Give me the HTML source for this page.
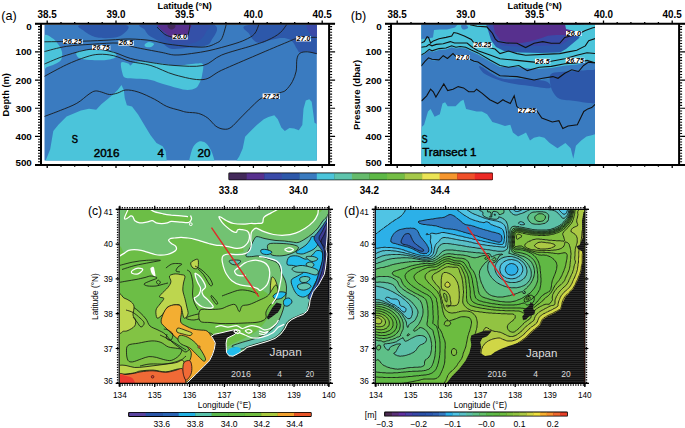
<!DOCTYPE html>
<html><head><meta charset="utf-8"><style>
html,body{margin:0;padding:0;background:#fff;}
svg{display:block;font-family:"Liberation Sans",sans-serif;}
</style></head><body>
<svg width="685" height="428" viewBox="0 0 685 428">
<defs><pattern id="landp" x="0" y="0" width="4" height="2" patternUnits="userSpaceOnUse"><rect width="4" height="2" fill="#121212"/><rect y="1.2" width="4" height="0.8" fill="#2c2c2c"/></pattern><pattern id="stripe" x="0" y="0" width="4" height="3" patternUnits="userSpaceOnUse"><rect y="0" width="4" height="1.2" fill="#ffffff" opacity="0.06"/></pattern></defs>
<rect x="228.4" y="172.6" width="264.6" height="7.6" rx="1.2" fill="#000"/>
<rect x="229.10" y="173.3" width="17.85" height="6.3" fill="#43295a"/>
<rect x="246.65" y="173.3" width="17.85" height="6.3" fill="#57308e"/>
<rect x="264.19" y="173.3" width="17.85" height="6.3" fill="#3a4aa8"/>
<rect x="281.74" y="173.3" width="17.85" height="6.3" fill="#2d58aa"/>
<rect x="299.29" y="173.3" width="17.85" height="6.3" fill="#3a7bc0"/>
<rect x="316.83" y="173.3" width="17.85" height="6.3" fill="#4bc4da"/>
<rect x="334.38" y="173.3" width="17.85" height="6.3" fill="#5ec4ac"/>
<rect x="351.93" y="173.3" width="17.85" height="6.3" fill="#66bb6c"/>
<rect x="369.47" y="173.3" width="17.85" height="6.3" fill="#5db846"/>
<rect x="387.02" y="173.3" width="17.85" height="6.3" fill="#74bd45"/>
<rect x="404.57" y="173.3" width="17.85" height="6.3" fill="#a5c84a"/>
<rect x="422.11" y="173.3" width="17.85" height="6.3" fill="#ebe455"/>
<rect x="439.66" y="173.3" width="17.85" height="6.3" fill="#f5962e"/>
<rect x="457.21" y="173.3" width="17.85" height="6.3" fill="#f0502a"/>
<rect x="474.75" y="173.3" width="17.85" height="6.3" fill="#ec2a26"/>
<text x="228.3" y="193.6" font-size="10.3" text-anchor="middle" font-weight="bold" fill="#000" textLength="19.2" lengthAdjust="spacingAndGlyphs" >33.8</text>
<text x="298.5" y="193.6" font-size="10.3" text-anchor="middle" font-weight="bold" fill="#000" textLength="19.2" lengthAdjust="spacingAndGlyphs" >34.0</text>
<text x="369.4" y="193.6" font-size="10.3" text-anchor="middle" font-weight="bold" fill="#000" textLength="19.2" lengthAdjust="spacingAndGlyphs" >34.2</text>
<text x="440.2" y="193.6" font-size="10.3" text-anchor="middle" font-weight="bold" fill="#000" textLength="19.2" lengthAdjust="spacingAndGlyphs" >34.4</text>
<rect x="128.1" y="411.9" width="183.60000000000002" height="5.0" rx="1.2" fill="#000"/>
<rect x="129.20" y="412.8" width="16.79" height="3.2" fill="#5a44a0"/>
<rect x="145.69" y="412.8" width="16.79" height="3.2" fill="#2a56a8"/>
<rect x="162.18" y="412.8" width="16.79" height="3.2" fill="#2a64b4"/>
<rect x="178.67" y="412.8" width="16.79" height="3.2" fill="#22b0e2"/>
<rect x="195.16" y="412.8" width="16.79" height="3.2" fill="#58c2aa"/>
<rect x="211.65" y="412.8" width="16.79" height="3.2" fill="#5cb84c"/>
<rect x="228.15" y="412.8" width="16.79" height="3.2" fill="#62b846"/>
<rect x="244.64" y="412.8" width="16.79" height="3.2" fill="#70bc3e"/>
<rect x="261.13" y="412.8" width="16.79" height="3.2" fill="#a8c83e"/>
<rect x="277.62" y="412.8" width="16.79" height="3.2" fill="#f0a02e"/>
<rect x="294.11" y="412.8" width="16.79" height="3.2" fill="#e85428"/>
<text x="161.8" y="427.4" font-size="8.6" text-anchor="middle" font-weight="normal" fill="#000" >33.6</text>
<text x="195.2" y="427.4" font-size="8.6" text-anchor="middle" font-weight="normal" fill="#000" >33.8</text>
<text x="229.2" y="427.4" font-size="8.6" text-anchor="middle" font-weight="normal" fill="#000" >34.0</text>
<text x="261.8" y="427.4" font-size="8.6" text-anchor="middle" font-weight="normal" fill="#000" >34.2</text>
<text x="294.6" y="427.4" font-size="8.6" text-anchor="middle" font-weight="normal" fill="#000" >34.4</text>
<rect x="384.1" y="411.6" width="183.79999999999995" height="5.0" rx="1.2" fill="#000"/>
<rect x="385.20" y="412.5" width="7.03" height="3.2" fill="#4a2a50"/>
<rect x="391.93" y="412.5" width="7.03" height="3.2" fill="#5a3078"/>
<rect x="398.65" y="412.5" width="7.03" height="3.2" fill="#6030a0"/>
<rect x="405.38" y="412.5" width="7.03" height="3.2" fill="#4a40a8"/>
<rect x="412.10" y="412.5" width="7.03" height="3.2" fill="#3848a8"/>
<rect x="418.83" y="412.5" width="7.03" height="3.2" fill="#2a50a8"/>
<rect x="425.56" y="412.5" width="7.03" height="3.2" fill="#2a56b0"/>
<rect x="432.28" y="412.5" width="7.03" height="3.2" fill="#3062b4"/>
<rect x="439.01" y="412.5" width="7.03" height="3.2" fill="#3478c0"/>
<rect x="445.73" y="412.5" width="7.03" height="3.2" fill="#2cb0e8"/>
<rect x="452.46" y="412.5" width="7.03" height="3.2" fill="#50c4e4"/>
<rect x="459.19" y="412.5" width="7.03" height="3.2" fill="#58c0c8"/>
<rect x="465.91" y="412.5" width="7.03" height="3.2" fill="#5cc0a8"/>
<rect x="472.64" y="412.5" width="7.03" height="3.2" fill="#5ec088"/>
<rect x="479.36" y="412.5" width="7.03" height="3.2" fill="#62be68"/>
<rect x="486.09" y="412.5" width="7.03" height="3.2" fill="#5cba4c"/>
<rect x="492.81" y="412.5" width="7.03" height="3.2" fill="#60b844"/>
<rect x="499.54" y="412.5" width="7.03" height="3.2" fill="#6cbc40"/>
<rect x="506.27" y="412.5" width="7.03" height="3.2" fill="#80c040"/>
<rect x="512.99" y="412.5" width="7.03" height="3.2" fill="#92c342"/>
<rect x="519.72" y="412.5" width="7.03" height="3.2" fill="#acc944"/>
<rect x="526.44" y="412.5" width="7.03" height="3.2" fill="#d0d646"/>
<rect x="533.17" y="412.5" width="7.03" height="3.2" fill="#f0e040"/>
<rect x="539.90" y="412.5" width="7.03" height="3.2" fill="#f8b030"/>
<rect x="546.62" y="412.5" width="7.03" height="3.2" fill="#f89030"/>
<rect x="553.35" y="412.5" width="7.03" height="3.2" fill="#f06830"/>
<rect x="560.07" y="412.5" width="7.03" height="3.2" fill="#e84028"/>
<text x="384.6" y="427.4" font-size="8.6" text-anchor="middle" font-weight="normal" fill="#000" >−0.3</text>
<text x="418.6" y="427.4" font-size="8.6" text-anchor="middle" font-weight="normal" fill="#000" >−0.2</text>
<text x="452.5" y="427.4" font-size="8.6" text-anchor="middle" font-weight="normal" fill="#000" >−0.1</text>
<text x="486.3" y="427.4" font-size="8.6" text-anchor="middle" font-weight="normal" fill="#000" >−0.0</text>
<text x="519.5" y="427.4" font-size="8.6" text-anchor="middle" font-weight="normal" fill="#000" >0.1</text>
<text x="552.8" y="427.4" font-size="8.6" text-anchor="middle" font-weight="normal" fill="#000" >0.2</text>
<text x="370.8" y="417.6" font-size="8.6" text-anchor="middle" font-weight="normal" fill="#000" >[m]</text>
<rect x="44.5" y="24.8" width="272.3" height="135.7" fill="#3a7bc0"/>
<clipPath id="ca"><rect x="44.5" y="24.8" width="272.3" height="135.7"/></clipPath>
<g clip-path="url(#ca)">
<path d="M81.0,25.0 C74.0,26.0 81.7,29.0 84.0,31.0 C86.3,33.0 90.7,35.8 95.0,37.0 C99.3,38.2 105.5,38.3 110.0,38.0 C114.5,37.7 119.3,37.2 122.0,35.0 C124.7,32.8 132.8,26.7 126.0,25.0 C119.2,23.3 88.0,24.0 81.0,25.0 Z" fill="#2d58aa" />
<path d="M248.5,25.0 C237.1,26.5 248.2,31.2 249.3,33.9 C250.4,36.6 253.0,39.9 255.2,41.4 C257.4,42.9 260.5,42.9 262.7,42.8 C264.9,42.7 266.1,41.3 268.6,40.6 C271.1,39.9 274.6,38.8 277.6,38.4 C280.6,38.0 284.0,37.9 286.5,38.4 C289.0,38.9 290.7,39.7 292.4,41.4 C294.1,43.1 295.6,46.9 296.9,48.8 C298.1,50.6 298.2,52.1 299.9,52.5 C301.6,52.9 304.3,51.0 307.3,51.0 C310.3,51.0 316.2,56.8 318.0,52.5 C319.8,48.2 329.6,29.6 318.0,25.0 C306.4,20.4 259.9,23.5 248.5,25.0 Z" fill="#2d58aa" />
<path d="M144.0,24.0 C132.8,25.0 144.2,28.1 145.0,30.0 C145.8,31.9 147.2,33.9 149.0,35.5 C150.8,37.1 153.8,38.2 156.0,39.5 C158.2,40.8 160.0,41.7 162.0,43.0 C164.0,44.3 165.9,46.5 168.0,47.5 C170.1,48.5 171.1,49.0 174.6,49.0 C178.1,49.0 184.3,48.0 189.2,47.5 C194.1,47.0 200.2,47.2 203.8,46.1 C207.5,45.0 209.7,44.7 211.1,41.0 C212.5,37.3 223.2,26.8 212.0,24.0 C200.8,21.2 155.2,23.0 144.0,24.0 Z" fill="#2d58aa" />
<path d="M160.0,24.0 C152.3,25.0 160.0,27.5 161.0,30.0 C162.0,32.5 163.7,36.7 166.0,39.0 C168.3,41.3 171.2,43.2 175.0,44.0 C178.8,44.8 184.8,44.7 189.0,44.0 C193.2,43.3 197.2,42.0 200.0,40.0 C202.8,38.0 204.8,34.7 206.0,32.0 C207.2,29.3 214.7,25.3 207.0,24.0 C199.3,22.7 167.7,23.0 160.0,24.0 Z" fill="#3450a8" />
<path d="M160.0,24.5 C155.1,25.2 159.3,27.3 160.0,28.6 C160.7,29.9 162.5,30.8 164.4,32.2 C166.3,33.7 169.3,36.1 171.7,37.3 C174.1,38.5 176.6,39.6 179.0,39.5 C181.4,39.4 184.7,38.1 186.3,36.6 C187.9,35.1 188.0,32.8 188.5,30.8 C189.0,28.8 194.2,25.6 189.5,24.5 C184.8,23.4 164.9,23.8 160.0,24.5 Z" fill="#57308e" />
<path d="M168.0,25.0 C166.9,25.5 167.9,27.2 168.5,28.0 C169.1,28.8 170.5,29.5 171.5,29.5 C172.5,29.5 174.0,28.8 174.6,28.0 C175.2,27.2 176.1,25.5 175.0,25.0 C173.9,24.5 169.1,24.5 168.0,25.0 Z" fill="#43295a" />
<path d="M307.3,25.0 C305.6,25.8 307.0,28.3 307.8,30.0 C308.6,31.7 310.3,34.5 312.0,35.4 C313.7,36.3 317.0,37.1 318.0,35.4 C319.0,33.7 319.8,26.7 318.0,25.0 C316.2,23.3 309.0,24.2 307.3,25.0 Z" fill="#3a4aa8" />
<path d="M44.0,37.0 C45.3,32.2 49.7,36.8 52.0,38.0 C54.3,39.2 56.3,41.7 58.0,44.0 C59.7,46.3 61.5,49.3 62.0,52.0 C62.5,54.7 62.2,58.0 61.0,60.0 C59.8,62.0 57.3,62.8 55.0,64.0 C52.7,65.2 48.8,66.5 47.0,67.0 C45.2,67.5 44.5,72.0 44.0,67.0 C43.5,62.0 42.7,41.8 44.0,37.0 Z" fill="#4bc4da" />
<path d="M77.0,52.0 C78.8,50.7 85.5,50.2 90.0,50.0 C94.5,49.8 100.0,50.2 104.0,50.5 C108.0,50.8 112.0,50.9 114.0,52.0 C116.0,53.1 117.3,55.7 116.0,57.0 C114.7,58.3 110.3,59.5 106.0,60.0 C101.7,60.5 94.5,60.3 90.0,60.0 C85.5,59.7 81.2,59.3 79.0,58.0 C76.8,56.7 75.2,53.3 77.0,52.0 Z" fill="#4bc4da" />
<path d="M121.2,62.5 C122.2,61.0 126.9,63.0 128.4,63.5 C129.9,64.0 129.4,65.7 130.4,65.5 C131.4,65.3 132.4,62.8 134.5,62.1 C136.6,61.4 138.3,61.3 142.7,61.5 C147.1,61.7 155.3,62.8 161.1,63.5 C166.9,64.2 171.6,65.5 177.4,65.5 C183.2,65.5 191.5,63.7 195.8,63.5 C200.1,63.3 202.0,62.5 203.0,64.5 C204.0,66.5 202.5,72.9 202.0,75.8 C201.5,78.7 201.0,79.9 200.0,81.9 C199.0,83.9 197.9,86.7 195.8,88.0 C193.8,89.3 190.8,90.0 187.7,90.0 C184.6,90.0 181.5,89.0 177.4,88.0 C173.3,87.0 167.5,85.3 163.1,84.0 C158.7,82.7 155.3,80.8 150.9,79.9 C146.5,79.0 140.9,79.2 136.6,78.8 C132.3,78.4 127.7,78.8 125.3,77.8 C122.9,76.8 123.0,75.2 122.3,72.7 C121.6,70.2 120.2,64.0 121.2,62.5 Z" fill="#4bc4da" />
<path d="M144.7,44.5 C145.2,43.7 147.4,42.1 149.0,42.0 C150.6,41.9 153.7,43.2 154.0,44.0 C154.3,44.8 152.3,46.5 151.0,47.0 C149.7,47.5 147.1,47.4 146.0,47.0 C144.9,46.6 144.2,45.3 144.7,44.5 Z" fill="#4bc4da" />
<path d="M45.0,161.0 L46.1,159.5 L50.2,149.3 L53.3,130.9 L58.4,124.7 L66.6,116.6 L80.9,110.4 L89.0,108.8 L96.2,109.8 L101.3,104.3 L107.4,99.2 L113.6,94.1 L117.7,90.0 L121.5,85.0 L123.8,90.0 L124.8,98.2 L126.9,105.3 L132.0,106.4 L138.1,114.5 L144.2,124.7 L150.4,135.0 L156.5,143.1 L162.6,146.2 L165.7,151.3 L166.7,161.0 Z" fill="#4bc4da" />
<path d="M189.0,161.0 C189.6,158.9 191.1,151.5 192.5,148.4 C193.9,145.3 195.6,143.8 197.2,142.6 C198.8,141.4 200.3,141.2 201.9,141.4 C203.5,141.6 204.9,142.1 206.5,143.7 C208.1,145.2 209.8,147.8 211.2,150.7 C212.6,153.6 214.1,159.3 214.7,161.0 Z" fill="#4bc4da" />
<path d="M236.2,161.0 L239.2,156.6 L242.7,148.4 L245.1,136.7 L249.7,132.0 L256.8,125.0 L263.8,119.2 L268.4,116.9 L274.3,115.2 L277.8,119.2 L281.3,127.4 L284.8,130.9 L289.5,128.1 L294.1,128.5 L298.8,130.2 L302.3,125.0 L303.5,108.7 L305.8,100.5 L309.3,99.3 L311.7,101.7 L313.3,113.4 L314.5,122.7 L316.8,123.9 L318.0,124.0 L318.0,161.0 Z" fill="#4bc4da" />
<path d="M44.0,41.8 C50.5,41.7 71.7,41.5 82.7,41.2 C93.7,40.9 102.1,40.4 110.0,40.0 C117.9,39.6 123.2,38.9 130.0,39.0 C136.8,39.1 144.7,39.7 150.9,40.5 C157.1,41.3 160.8,43.0 167.2,44.0 C173.6,45.0 182.8,46.0 189.2,46.5 C195.6,47.0 201.0,47.4 205.4,46.9 C209.8,46.4 212.8,44.9 215.5,43.5 C218.2,42.1 219.9,42.0 221.7,38.7 C223.5,35.5 225.6,26.4 226.4,24.0" fill="none" stroke="#1a1a1a" stroke-width="0.9" />
<path d="M44.0,51.7 C47.7,50.8 58.2,47.6 66.3,46.4 C74.4,45.1 83.8,44.8 92.6,44.2 C101.3,43.7 111.8,42.6 118.8,43.1 C125.8,43.6 127.5,45.7 134.5,47.2 C141.6,48.7 154.3,51.0 161.1,52.3 C167.8,53.6 169.9,54.8 175.0,55.0 C180.1,55.2 185.9,54.3 191.7,53.5 C197.5,52.7 203.3,51.9 210.0,50.4 C216.7,48.9 226.2,46.2 232.0,44.5 C237.8,42.8 241.3,41.6 245.0,39.9 C248.7,38.1 252.1,36.6 254.4,34.0 C256.8,31.4 258.3,25.7 259.1,24.0" fill="none" stroke="#1a1a1a" stroke-width="0.9" />
<path d="M44.0,64.2 C47.7,62.7 58.2,57.8 66.3,55.3 C74.4,52.8 84.7,49.5 92.6,49.0 C100.5,48.5 107.3,50.7 113.6,52.3 C119.9,53.9 124.2,56.7 130.4,58.4 C136.6,60.1 143.5,61.3 150.9,62.5 C158.3,63.7 166.3,65.0 175.0,65.5 C183.7,66.0 195.2,67.2 203.0,65.5 C210.8,63.8 213.5,58.3 221.7,55.0 C229.9,51.7 244.4,48.2 252.1,45.7 C259.8,43.2 263.3,42.1 268.0,40.0 C272.7,37.9 276.9,35.5 280.1,32.8 C283.3,30.1 285.9,25.5 287.1,24.0" fill="none" stroke="#1a1a1a" stroke-width="0.9" />
<path d="M44.0,76.6 C47.7,74.6 59.3,68.1 66.3,64.8 C73.3,61.5 80.5,58.8 86.0,57.0 C91.5,55.2 94.4,54.5 99.0,54.3 C103.6,54.1 108.4,54.5 113.6,55.7 C118.8,56.9 124.2,59.9 130.4,61.5 C136.6,63.1 143.5,63.3 150.9,65.5 C158.3,67.7 166.3,72.6 175.0,74.9 C183.7,77.2 195.2,80.4 203.0,79.6 C210.8,78.8 212.7,74.3 221.7,70.2 C230.7,66.1 245.9,59.7 256.8,55.0 C267.7,50.3 280.5,44.9 287.1,42.2 C293.7,39.5 292.4,39.5 296.5,38.7 C300.6,37.9 308.0,37.6 311.6,37.4 C315.2,37.2 316.9,37.5 318.0,37.5" fill="none" stroke="#1a1a1a" stroke-width="0.9" />
<path d="M44.0,116.6 C46.7,115.6 54.9,112.6 60.4,110.4 C65.9,108.2 72.0,106.0 76.8,103.3 C81.6,100.6 85.9,96.1 89.0,94.1 C92.1,92.0 93.2,91.3 95.2,91.0 C97.2,90.7 98.9,91.4 101.3,92.0 C103.7,92.6 106.8,94.3 109.5,94.5 C112.2,94.7 115.0,93.8 117.7,93.0 C120.4,92.2 122.4,90.2 125.8,90.0 C129.2,89.8 133.3,90.5 138.1,92.0 C142.9,93.5 149.6,96.8 154.4,99.2 C159.2,101.6 162.4,104.5 166.7,106.4 C171.0,108.3 176.7,109.4 180.0,110.4 C183.3,111.4 183.6,111.7 186.7,112.2 C189.8,112.7 194.9,112.4 198.4,113.4 C201.9,114.4 204.8,115.9 207.7,118.0 C210.6,120.1 213.2,124.3 215.9,126.2 C218.6,128.1 221.5,129.0 224.0,129.2 C226.5,129.4 228.3,129.3 231.0,127.4 C233.7,125.5 236.9,121.5 240.4,118.0 C243.9,114.5 248.5,109.7 252.0,106.4 C255.5,103.1 258.2,100.0 261.4,98.2 C264.6,96.4 267.7,96.5 271.0,95.5 C274.3,94.5 278.8,93.2 281.3,92.3 C283.8,91.4 284.1,91.8 286.0,90.0 C287.9,88.2 290.7,84.8 292.4,81.6 C294.1,78.4 295.4,74.8 296.2,71.1 C296.9,67.4 296.3,62.2 296.9,59.2 C297.5,56.2 298.2,54.5 299.9,53.3 C301.6,52.1 304.3,51.7 307.3,51.8 C310.3,51.9 316.2,53.6 318.0,54.0" fill="none" stroke="#1a1a1a" stroke-width="0.9" />
<path d="M157.0,27.0 C157.7,27.7 159.5,29.7 161.0,31.0 C162.5,32.3 163.8,33.9 166.0,35.0 C168.2,36.1 170.7,37.0 174.0,37.5 C177.3,38.0 183.6,38.5 186.0,37.8 C188.4,37.0 187.9,34.6 188.5,33.0 C189.1,31.4 189.2,29.5 189.5,28.0 C189.8,26.5 189.9,24.7 190.0,24.0" fill="none" stroke="#1a1a1a" stroke-width="0.9" />
<rect x="63" y="39" width="19.700000000000003" height="4.799999999999997" fill="#fff"/>
<text x="72.85" y="43.55" font-size="6.6" text-anchor="middle" font-weight="bold" fill="#000" textLength="18.5" lengthAdjust="spacingAndGlyphs" font-style="italic">26.25</text>
<rect x="118.4" y="40.6" width="15.400000000000006" height="5.0" fill="#fff"/>
<text x="126.10000000000001" y="45.35" font-size="6.6" text-anchor="middle" font-weight="bold" fill="#000" textLength="14.2" lengthAdjust="spacingAndGlyphs" font-style="italic">26.5</text>
<rect x="92" y="45.2" width="18.299999999999997" height="4.799999999999997" fill="#fff"/>
<text x="101.15" y="49.75" font-size="6.6" text-anchor="middle" font-weight="bold" fill="#000" textLength="17.1" lengthAdjust="spacingAndGlyphs" font-style="italic">26.75</text>
<rect x="172.4" y="34.8" width="15.299999999999983" height="4.700000000000003" fill="#fff"/>
<text x="180.05" y="39.25" font-size="6.6" text-anchor="middle" font-weight="bold" fill="#000" textLength="14.1" lengthAdjust="spacingAndGlyphs" font-style="italic">26.0</text>
<rect x="296.2" y="36.1" width="14.800000000000011" height="5.299999999999997" fill="#fff"/>
<text x="303.6" y="41.15" font-size="6.6" text-anchor="middle" font-weight="bold" fill="#000" textLength="13.6" lengthAdjust="spacingAndGlyphs" font-style="italic">27.0</text>
<rect x="262.6" y="93.5" width="17.399999999999977" height="5.400000000000006" fill="#fff"/>
<text x="271.3" y="98.65" font-size="6.6" text-anchor="middle" font-weight="bold" fill="#000" textLength="16.2" lengthAdjust="spacingAndGlyphs" font-style="italic">27.25</text>
</g>
<text x="74.8" y="142.8" font-size="10.2" text-anchor="middle" font-weight="normal" fill="#000" textLength="6.2" lengthAdjust="spacingAndGlyphs" stroke="#000" stroke-width="0.45">S</text>
<text x="106.6" y="157.4" font-size="11.6" text-anchor="middle" font-weight="normal" fill="#000" textLength="25.8" lengthAdjust="spacingAndGlyphs" stroke="#000" stroke-width="0.45">2016</text>
<text x="160.8" y="157.4" font-size="11.6" text-anchor="middle" font-weight="normal" fill="#000" stroke="#000" stroke-width="0.45">4</text>
<text x="204" y="157.4" font-size="11.6" text-anchor="middle" font-weight="normal" fill="#000" textLength="13" lengthAdjust="spacingAndGlyphs" stroke="#000" stroke-width="0.45">20</text>
<rect x="421.4" y="24.8" width="173.60000000000002" height="139.1" fill="#3a7bc0"/>
<clipPath id="cb"><rect x="421.4" y="24.8" width="173.60000000000002" height="139.1"/></clipPath>
<g clip-path="url(#cb)">
<path d="M420.0,24.0 L596.0,24.0 L596.0,64.0 L588.0,61.0 L583.6,66.5 L578.5,72.5 L571.7,70.8 L564.8,74.2 L558.0,79.3 L552.9,77.6 L542.7,79.3 L534.1,81.0 L517.0,77.6 L500.0,76.8 L490.0,71.0 L478.0,63.0 L474.1,62.3 L469.9,60.2 L455.9,57.4 L453.0,54.6 L447.5,59.5 L443.2,56.7 L439.0,60.9 L432.0,60.2 L428.5,58.8 L425.0,62.3 L420.0,67.0 Z" fill="#4bc4da" />
<path d="M421.0,24.0 L434.0,24.0 L434.0,30.0 L433.0,37.5 L427.0,38.5 L421.0,39.0 Z" fill="#3a7bc0" />
<path d="M434.0,24.0 L458.0,24.0 L455.0,27.5 L447.0,29.5 L440.0,29.5 L434.0,30.0 Z" fill="#3a7bc0" />
<path d="M461.0,25.5 C461.5,24.8 464.8,24.6 466.0,25.0 C467.2,25.4 468.5,27.2 468.0,28.0 C467.5,28.8 464.2,29.9 463.0,29.5 C461.8,29.1 460.5,26.2 461.0,25.5 Z" fill="#3a7bc0" />
<path d="M420.0,56.0 L425.0,54.0 L429.0,50.5 L432.0,52.0 L439.0,50.0 L446.0,49.5 L451.7,47.2 L455.9,48.6 L460.1,48.0 L465.7,48.6 L471.3,51.5 L478.0,54.5 L490.0,61.5 L500.0,67.0 L517.0,67.0 L534.0,69.0 L551.0,68.0 L565.0,65.5 L577.0,64.5 L587.0,62.0 L596.0,64.5 L596.0,70.0 L578.5,72.5 L571.7,70.8 L564.8,74.2 L558.0,79.3 L552.9,77.6 L542.7,79.3 L534.1,81.0 L517.0,77.6 L500.0,76.8 L490.0,71.0 L478.0,63.0 L474.1,62.3 L469.9,60.2 L455.9,57.4 L453.0,54.6 L447.5,59.5 L443.2,56.7 L439.0,60.9 L432.0,60.2 L428.5,58.8 L425.0,62.3 L420.0,67.0 Z" fill="#3a7bc0" />
<path d="M486.0,24.0 L488.0,30.0 L491.0,40.0 L496.0,47.0 L504.0,51.0 L520.0,52.5 L540.0,53.0 L560.0,52.5 L566.0,49.0 L572.0,44.0 L578.0,39.0 L583.0,34.0 L584.0,24.0 Z" fill="#2d58aa" />
<path d="M489.0,24.0 L491.0,33.0 L495.0,41.0 L502.0,45.5 L517.0,46.5 L532.0,46.0 L548.0,45.5 L562.0,44.5 L570.0,39.0 L578.0,35.0 L581.0,24.0 Z" fill="#3a4aa8" />
<path d="M493.0,24.0 L495.0,33.0 L497.3,36.0 L500.2,40.2 L507.9,42.3 L516.3,43.0 L521.9,43.0 L530.0,41.6 L534.1,40.2 L541.0,38.2 L547.8,35.8 L556.0,35.0 L564.8,34.9 L571.0,33.5 L578.5,32.4 L580.2,24.0 Z" fill="#57308e" />
<path d="M565.0,24.0 L596.0,24.0 L596.0,47.0 L588.0,44.0 L580.0,38.0 L574.0,31.0 L566.0,29.0 Z" fill="#4bc4da" />
<path d="M551.0,74.0 C552.7,72.3 556.0,72.5 560.0,72.0 C564.0,71.5 569.7,71.3 575.0,71.0 C580.3,70.7 588.5,69.8 592.0,70.0 C595.5,70.2 595.3,67.0 596.0,72.0 C596.7,77.0 597.0,94.8 596.0,100.0 C595.0,105.2 593.5,102.8 590.0,103.0 C586.5,103.2 580.0,101.7 575.0,101.0 C570.0,100.3 563.7,100.5 560.0,99.0 C556.3,97.5 554.7,94.8 553.0,92.0 C551.3,89.2 550.3,85.0 550.0,82.0 C549.7,79.0 549.3,75.7 551.0,74.0 Z" fill="#2d58aa" />
<path d="M480.0,66.0 C482.5,66.7 493.3,75.8 500.0,78.0 C506.7,80.2 512.5,78.5 520.0,79.0 C527.5,79.5 540.0,79.5 545.0,81.0 C550.0,82.5 552.5,87.2 550.0,88.0 C547.5,88.8 537.5,87.0 530.0,86.0 C522.5,85.0 512.5,84.0 505.0,82.0 C497.5,80.0 489.2,76.7 485.0,74.0 C480.8,71.3 477.5,65.3 480.0,66.0 Z" fill="#2d58aa" />
<path d="M420.0,165.0 L421.5,127.3 L424.1,124.7 L428.0,111.5 L430.6,108.9 L434.6,116.8 L439.8,114.2 L442.5,103.6 L445.1,102.3 L447.7,106.3 L455.6,106.3 L460.9,101.0 L463.5,99.7 L466.1,108.9 L476.6,111.5 L481.9,111.5 L487.1,114.2 L492.4,122.0 L497.6,123.4 L505.0,126.0 L510.3,124.7 L512.9,132.5 L518.1,136.5 L523.4,133.9 L526.0,132.5 L530.0,140.4 L533.9,137.8 L539.2,136.5 L544.4,137.8 L549.7,143.1 L557.5,148.3 L565.4,143.1 L570.7,148.3 L573.3,158.8 L575.9,145.7 L581.2,140.4 L586.5,136.5 L591.7,135.2 L596.0,133.9 L596.0,165.0 Z" fill="#4bc4da" />
<path d="M470.0,24.8 L477.0,26.2 L486.8,26.9 L492.4,33.2 L495.2,38.8 L498.0,41.6 L506.5,43.0 L517.0,43.3 L525.6,47.6 L534.1,43.3 L542.7,41.6 L551.2,43.3 L559.7,43.3 L564.8,37.4 L571.7,35.7 L578.5,33.9 L585.3,30.5 L592.2,28.0 L596.0,27.0" fill="none" stroke="#111" stroke-width="1.1" />
<path d="M421.1,43.0 L424.3,41.6 L427.1,36.7 L428.5,37.4 L430.6,43.0 L433.4,40.9 L439.0,38.8 L446.0,37.4 L451.7,36.0 L453.8,32.5 L457.3,33.2 L464.3,36.0 L471.3,39.5 L474.1,43.0 L478.0,45.8 L486.0,47.0 L495.0,49.0 L500.0,53.6 L508.5,51.0 L517.0,53.6 L525.6,55.3 L542.7,54.4 L559.7,53.6 L568.3,51.9 L576.8,50.2 L585.3,45.9 L588.7,40.8 L596.0,38.2" fill="none" stroke="#111" stroke-width="1.1" />
<path d="M421.1,47.2 L426.4,46.5 L429.2,44.4 L432.0,45.8 L436.2,44.4 L443.2,43.7 L450.3,41.6 L454.5,43.0 L460.1,43.0 L467.1,43.0 L471.3,46.5 L475.5,49.3 L478.0,50.8 L490.0,55.0 L500.0,58.7 L517.0,60.4 L534.1,62.1 L551.2,61.3 L564.8,58.7 L576.8,55.3 L587.0,52.7 L596.0,53.6" fill="none" stroke="#111" stroke-width="1.1" />
<path d="M421.1,55.0 L425.0,52.9 L429.2,49.3 L432.0,50.8 L439.0,48.6 L446.0,48.0 L451.7,45.8 L455.9,47.2 L460.1,46.5 L465.7,47.2 L471.3,50.0 L478.0,52.9 L490.0,60.0 L500.0,65.5 L508.5,67.2 L518.8,65.5 L527.3,70.6 L539.2,67.2 L551.2,66.4 L564.8,63.8 L576.8,63.0 L587.0,60.4 L596.0,63.0" fill="none" stroke="#111" stroke-width="1.1" />
<path d="M421.1,66.2 L425.0,61.3 L428.5,57.8 L432.0,59.2 L439.0,59.9 L443.2,55.7 L447.5,58.5 L453.0,53.6 L455.9,56.4 L462.0,57.5 L469.9,59.2 L474.1,61.3 L478.0,62.0 L490.0,70.0 L500.0,75.8 L517.0,76.6 L534.1,80.0 L542.7,78.3 L552.9,76.6 L558.0,78.3 L564.8,73.2 L571.7,69.8 L578.5,71.5 L583.6,65.5 L588.7,62.1 L596.0,63.0" fill="none" stroke="#111" stroke-width="1.1" />
<path d="M421.5,101.0 L426.7,95.8 L430.6,89.2 L433.3,91.8 L435.9,97.1 L439.8,90.5 L443.8,83.9 L447.7,90.5 L453.0,89.2 L458.2,86.6 L463.5,87.9 L468.7,91.8 L474.0,91.8 L476.6,89.2 L481.9,93.1 L489.8,99.7 L497.6,103.6 L502.9,99.7 L505.0,101.0 L510.3,103.6 L514.2,95.8 L516.8,106.3 L520.8,110.2 L536.5,110.2 L541.8,118.1 L552.3,122.0 L558.9,120.7 L562.8,128.6 L568.1,126.0 L577.3,124.7 L581.2,116.8 L583.8,111.5 L587.8,108.9 L591.7,107.6 L596.0,103.6" fill="none" stroke="#111" stroke-width="1.1" />
<rect x="566" y="31" width="15.700000000000045" height="5" fill="#fff"/>
<text x="573.85" y="35.75" font-size="6.6" text-anchor="middle" font-weight="bold" fill="#000" textLength="14.5" lengthAdjust="spacingAndGlyphs" font-style="italic">26.0</text>
<rect x="473.4" y="42.5" width="18.700000000000045" height="5.100000000000001" fill="#fff"/>
<text x="482.75" y="47.35" font-size="6.6" text-anchor="middle" font-weight="bold" fill="#000" textLength="17.5" lengthAdjust="spacingAndGlyphs" font-style="italic">26.25</text>
<rect x="535" y="58.7" width="15.299999999999955" height="5.099999999999994" fill="#fff"/>
<text x="542.65" y="63.55" font-size="6.6" text-anchor="middle" font-weight="bold" fill="#000" textLength="14.1" lengthAdjust="spacingAndGlyphs" font-style="italic">26.5</text>
<rect x="565.7" y="57.8" width="18.799999999999955" height="5.200000000000003" fill="#fff"/>
<text x="575.1" y="62.75" font-size="6.6" text-anchor="middle" font-weight="bold" fill="#000" textLength="17.6" lengthAdjust="spacingAndGlyphs" font-style="italic">26.75</text>
<rect x="455.9" y="55" width="14.0" height="4.899999999999999" fill="#fff"/>
<text x="462.9" y="59.65" font-size="6.6" text-anchor="middle" font-weight="bold" fill="#000" textLength="12.8" lengthAdjust="spacingAndGlyphs" font-style="italic">27.0</text>
<rect x="518" y="108.4" width="18.5" height="4.3999999999999915" fill="#fff"/>
<text x="527.25" y="112.55" font-size="6.6" text-anchor="middle" font-weight="bold" fill="#000" textLength="17.3" lengthAdjust="spacingAndGlyphs" font-style="italic">27.25</text>
</g>
<text x="421.8" y="142.6" font-size="10.2" text-anchor="start" font-weight="normal" fill="#000" textLength="5.8" lengthAdjust="spacingAndGlyphs" stroke="#000" stroke-width="0.45">S</text>
<text x="422.2" y="156.3" font-size="11.2" text-anchor="start" font-weight="normal" fill="#000" textLength="54.2" lengthAdjust="spacingAndGlyphs" stroke="#000" stroke-width="0.45">Transect  1</text>
<clipPath id="cc"><rect x="119.9" y="209.9" width="208.6" height="173.20000000000002"/></clipPath>
<g clip-path="url(#cc)">
<rect x="119.9" y="209.9" width="208.6" height="173.20000000000002" fill="#72c272"/>
<path d="M118.0,257.0 C119.1,234.8 122.7,254.2 124.5,253.1 C126.3,252.0 127.1,251.0 128.7,250.4 C130.3,249.8 132.1,249.7 134.2,249.7 C136.3,249.7 138.8,249.9 141.1,250.4 C143.4,250.9 145.7,251.7 148.0,252.4 C150.3,253.1 152.8,254.0 154.9,254.5 C157.0,255.0 158.3,255.2 160.4,255.2 C162.5,255.2 165.2,255.0 167.3,254.5 C169.4,254.0 171.3,253.2 172.8,252.4 C174.3,251.6 175.7,250.7 176.2,249.7 C176.7,248.7 176.4,247.2 175.6,246.2 C174.8,245.2 172.6,244.4 171.4,243.5 C170.2,242.6 168.9,241.5 168.7,240.7 C168.5,239.9 169.1,239.1 170.0,238.7 C170.9,238.2 172.3,238.2 174.2,238.0 C176.0,237.8 178.8,237.3 181.1,237.3 C183.4,237.3 185.7,237.7 188.0,238.0 C190.3,238.3 192.6,238.7 194.9,239.3 C197.2,239.9 199.5,240.7 201.8,241.4 C204.1,242.1 206.4,242.9 208.7,243.5 C211.0,244.1 213.3,244.8 215.6,245.1 C217.9,245.4 220.2,245.3 222.5,245.6 C224.8,245.9 227.1,246.4 229.4,246.9 C231.7,247.4 234.2,248.2 236.3,248.3 C238.4,248.4 240.7,247.0 241.8,247.6 C243.0,248.2 244.6,250.9 243.2,251.8 C241.8,252.7 236.5,252.8 233.5,253.1 C230.5,253.4 227.0,253.3 225.2,253.8 C223.4,254.3 222.8,254.2 222.5,255.9 C222.2,257.6 222.6,261.5 223.2,264.2 C223.8,266.9 224.6,269.4 226.0,272.0 C227.4,274.6 229.4,278.0 231.5,280.0 C233.6,282.0 235.9,283.3 238.5,284.2 C241.1,285.1 244.3,285.1 246.9,285.6 C249.5,286.1 251.4,286.3 253.9,287.0 C256.4,287.7 259.3,288.5 262.0,290.0 C264.7,291.5 267.8,293.3 270.0,296.0 C272.2,298.7 275.3,302.3 275.0,306.0 C274.7,309.7 270.8,314.0 268.0,318.0 C265.2,322.0 261.8,326.7 258.0,330.0 C254.2,333.3 249.3,335.7 245.0,338.0 C240.7,340.3 236.2,341.7 232.0,344.0 C227.8,346.3 224.5,348.5 220.0,352.0 C215.5,355.5 209.7,359.7 205.0,365.0 C200.3,370.3 206.5,380.5 192.0,384.0 C177.5,387.5 130.3,407.2 118.0,386.0 C105.7,364.8 116.9,279.1 118.0,257.0 Z" fill="#6cbe46" />
<path d="M128.0,209.0 C123.6,210.5 124.7,216.4 124.5,218.0 C124.3,219.6 125.6,219.0 126.6,218.7 C127.6,218.3 129.7,216.2 130.7,215.9 C131.7,215.6 132.1,215.8 132.8,216.6 C133.5,217.4 133.8,219.7 134.9,220.7 C136.1,221.7 137.8,222.6 139.7,222.8 C141.6,223.0 144.5,222.4 146.6,222.1 C148.7,221.8 150.5,220.6 152.1,220.7 C153.7,220.8 154.6,222.3 156.2,222.8 C157.8,223.3 160.0,223.5 161.8,223.5 C163.7,223.5 165.7,223.2 167.3,222.8 C168.9,222.5 169.1,221.5 171.4,221.4 C173.7,221.3 178.2,221.9 181.1,222.1 C183.9,222.3 186.8,223.0 188.5,222.5 C190.2,222.0 191.2,220.0 191.5,219.0 C191.8,218.0 192.2,217.1 190.5,216.6 C188.8,216.1 184.3,216.1 181.1,215.9 C177.9,215.7 174.4,215.5 171.4,215.2 C168.4,214.8 165.8,214.4 163.1,213.8 C160.3,213.2 157.0,212.6 154.9,211.8 C152.8,211.0 155.2,209.5 150.7,209.0 C146.2,208.5 132.4,207.5 128.0,209.0 Z" fill="#6cbe46" />
<path d="M219.0,216.6 C218.8,215.7 219.8,216.6 221.1,217.3 C222.4,218.0 224.5,219.7 226.6,220.7 C228.7,221.7 230.7,222.9 233.5,223.5 C236.3,224.1 240.4,224.2 243.2,224.2 C246.0,224.2 247.8,223.6 250.1,223.5 C252.4,223.4 254.9,223.6 257.0,223.5 C259.1,223.4 261.4,223.8 262.5,222.8 C263.6,221.8 262.5,218.9 263.9,217.3 C265.3,215.7 268.5,214.5 270.8,213.1 C273.1,211.7 269.7,209.7 277.7,209.0 C285.7,208.3 312.4,208.1 319.0,209.0 C325.6,209.9 318.5,212.4 317.6,214.5 C316.7,216.6 315.6,219.1 313.5,221.4 C311.4,223.7 308.2,226.4 305.2,228.3 C302.2,230.2 299.1,231.9 295.6,233.1 C292.2,234.2 288.2,235.0 284.5,235.2 C280.8,235.4 276.9,235.1 273.5,234.5 C270.1,233.9 266.6,232.7 263.9,231.7 C261.1,230.7 258.6,228.8 257.0,228.3 C255.4,227.9 255.1,228.3 254.2,229.0 C253.3,229.7 252.2,231.4 251.4,232.4 C250.6,233.4 250.1,235.4 249.4,235.2 C248.7,235.0 249.2,232.0 247.3,231.1 C245.4,230.2 239.5,229.5 237.7,229.7 C235.9,229.9 237.2,232.2 236.3,232.4 C235.4,232.6 233.7,232.0 232.1,231.1 C230.5,230.2 228.2,228.3 226.6,226.9 C225.0,225.5 223.8,224.5 222.5,222.8 C221.2,221.1 219.2,217.5 219.0,216.6 Z" fill="#6cbe46" />
<path d="M223.4,255.4 C222.2,256.3 222.0,257.7 222.0,259.6 C222.0,261.5 222.7,264.2 223.4,266.6 C224.1,269.0 224.8,271.4 226.2,273.7 C227.6,276.0 229.5,278.8 231.8,280.7 C234.1,282.6 237.1,284.0 240.2,284.9 C243.2,285.8 247.3,285.7 250.1,286.3 C252.9,286.9 255.5,287.7 257.1,288.4 C258.7,289.1 259.0,290.4 259.9,290.5 C260.8,290.6 261.5,290.0 262.7,289.1 C263.9,288.2 265.8,286.5 266.9,284.9 C267.9,283.3 268.5,281.4 269.0,279.3 C269.5,277.2 269.8,274.4 269.7,272.3 C269.6,270.2 269.2,268.2 268.3,266.6 C267.4,265.0 265.2,263.8 264.1,262.4 C263.1,261.0 263.4,259.0 262.0,258.0 C260.6,257.0 257.8,257.7 256.0,256.5 C254.2,255.3 252.7,251.5 251.0,251.0 C249.3,250.5 248.2,252.7 245.9,253.3 C243.6,253.9 240.2,254.6 237.4,254.7 C234.6,254.8 231.3,253.9 229.0,254.0 C226.7,254.1 224.6,254.5 223.4,255.4 Z" fill="#72c272" />
<path d="M195.0,273.0 C195.6,272.8 197.8,274.4 199.2,275.8 C200.6,277.2 202.3,279.5 203.4,281.4 C204.5,283.3 205.7,285.4 205.5,287.0 C205.3,288.6 202.3,289.8 202.0,291.2 C201.7,292.6 202.2,293.9 203.4,295.5 C204.6,297.1 207.4,299.2 209.0,301.1 C210.6,303.0 213.2,305.5 213.2,306.7 C213.2,307.9 210.9,308.1 209.0,308.1 C207.1,308.1 204.1,307.6 202.0,306.7 C199.9,305.8 197.7,303.9 196.4,302.5 C195.1,301.1 194.3,299.2 194.3,298.3 C194.3,297.4 195.6,297.6 196.4,296.9 C197.2,296.2 198.5,295.5 199.2,294.1 C199.9,292.7 200.8,290.3 200.6,288.4 C200.4,286.5 198.6,284.7 197.8,282.8 C197.0,280.9 196.2,278.8 195.7,277.2 C195.2,275.6 194.4,273.2 195.0,273.0 Z" fill="#72c272" />
<path d="M119.0,301.0 C119.9,289.1 122.3,301.7 124.6,302.7 C126.9,303.7 130.4,305.3 133.0,306.9 C135.6,308.5 137.8,310.5 140.0,312.5 C142.2,314.5 144.3,316.8 146.0,319.0 C147.7,321.2 148.0,324.2 150.0,326.0 C152.0,327.8 155.5,328.7 158.0,330.0 C160.5,331.3 162.7,332.0 165.0,334.0 C167.3,336.0 169.5,339.7 172.0,342.0 C174.5,344.3 177.7,346.3 180.0,348.0 C182.3,349.7 184.0,352.3 186.0,352.0 C188.0,351.7 190.3,348.0 192.0,346.0 C193.7,344.0 194.7,341.7 196.0,340.0 C197.3,338.3 198.3,337.2 200.0,336.0 C201.7,334.8 204.0,333.3 206.0,333.0 C208.0,332.7 210.7,332.8 212.0,334.0 C213.3,335.2 213.8,337.3 214.0,340.0 C214.2,342.7 214.0,346.7 213.0,350.0 C212.0,353.3 210.5,357.0 208.0,360.0 C205.5,363.0 201.0,365.3 198.0,368.0 C195.0,370.7 192.7,374.0 190.0,376.0 C187.3,378.0 185.3,379.7 182.0,380.0 C178.7,380.3 175.3,379.0 170.0,378.0 C164.7,377.0 156.7,374.7 150.0,374.0 C143.3,373.3 135.2,374.0 130.0,374.0 C124.8,374.0 120.8,386.2 119.0,374.0 C117.2,361.8 118.1,312.9 119.0,301.0 Z" fill="#82c344" stroke="#111" stroke-width="0.8"/>
<path d="M128.0,345.4 C130.0,343.8 134.4,343.9 138.4,343.2 C142.4,342.4 148.2,341.0 151.9,340.9 C155.7,340.8 158.2,341.4 160.9,342.4 C163.6,343.4 165.6,345.9 168.3,346.9 C171.0,347.9 175.1,347.9 177.3,348.4 C179.6,348.9 181.6,348.6 181.8,349.9 C182.1,351.1 180.6,354.1 178.8,355.9 C177.1,357.6 173.8,359.8 171.3,360.4 C168.8,361.0 166.3,360.1 163.8,359.6 C161.3,359.1 158.9,357.9 156.4,357.4 C153.9,356.9 151.4,356.4 148.9,356.6 C146.4,356.9 144.1,358.0 141.4,358.9 C138.7,359.8 134.7,361.6 132.5,361.9 C130.3,362.1 129.0,361.9 128.0,360.4 C127.0,358.9 126.5,355.4 126.5,352.9 C126.5,350.4 126.0,347.0 128.0,345.4 Z" fill="#6cbe46" stroke="#111" stroke-width="0.8"/>
<path d="M119.0,296.0 C119.8,290.6 122.2,297.2 124.0,298.0 C125.8,298.8 128.3,299.7 130.0,301.0 C131.7,302.3 133.5,303.7 134.0,306.0 C134.5,308.3 132.8,312.7 133.0,315.0 C133.2,317.3 135.2,318.2 135.5,320.0 C135.8,321.8 135.9,324.2 134.7,326.0 C133.4,327.8 129.9,329.6 128.0,330.5 C126.1,331.4 125.0,331.2 123.5,331.2 C122.0,331.2 119.8,336.4 119.0,330.5 C118.2,324.6 118.2,301.4 119.0,296.0 Z" fill="#bdd64e" stroke="#111" stroke-width="0.8"/>
<path d="M169.5,276.0 C170.2,274.7 173.2,274.1 175.1,273.9 C177.0,273.7 179.1,274.2 180.7,274.6 C182.3,275.0 184.4,274.6 184.9,276.0 C185.4,277.4 183.8,280.7 183.5,283.0 C183.2,285.3 182.6,287.4 182.8,290.0 C183.0,292.6 184.2,295.7 184.9,298.5 C185.6,301.3 186.3,304.3 186.8,306.9 C187.3,309.5 188.5,312.1 188.0,314.0 C187.5,315.9 185.2,319.3 184.0,318.0 C182.8,316.7 182.2,308.4 180.7,306.2 C179.2,304.0 177.2,304.7 175.1,304.8 C173.0,304.9 169.5,306.3 168.1,306.9 C166.7,307.5 167.4,307.4 166.7,308.3 C166.0,309.2 164.8,311.2 163.9,312.5 C163.0,313.8 162.2,315.1 161.0,316.0 C159.8,316.9 157.8,319.0 157.0,318.0 C156.2,317.0 155.5,312.3 156.0,310.0 C156.5,307.7 158.7,305.9 160.0,304.0 C161.3,302.1 164.0,299.6 163.9,298.5 C163.8,297.4 160.2,297.8 159.7,297.1 C159.2,296.4 159.7,296.0 161.1,294.3 C162.5,292.6 166.5,289.3 168.1,287.2 C169.7,285.1 170.7,283.5 170.9,281.6 C171.1,279.7 168.8,277.3 169.5,276.0 Z" fill="#bdd64e" stroke="#111" stroke-width="0.8"/>
<path d="M187.0,270.0 C187.5,270.3 189.2,270.7 190.0,272.0 C190.8,273.3 191.5,275.7 192.0,278.0 C192.5,280.3 192.9,283.3 193.0,286.0 C193.1,288.7 192.3,291.3 192.5,294.0 C192.7,296.7 193.1,299.3 194.0,302.0 C194.9,304.7 197.3,308.7 198.0,310.0" fill="none" stroke="#111" stroke-width="0.8" />
<path d="M186.0,318.0 C186.3,317.1 192.3,315.4 196.0,314.5 C199.7,313.6 204.0,312.8 208.0,312.5 C212.0,312.2 216.0,312.2 220.0,312.5 C224.0,312.8 228.7,313.6 232.0,314.5 C235.3,315.4 240.0,317.6 240.0,318.0 C240.0,318.4 235.3,317.3 232.0,317.0 C228.7,316.7 224.3,316.0 220.0,316.0 C215.7,316.0 210.3,316.3 206.0,317.0 C201.7,317.7 197.3,319.8 194.0,320.0 C190.7,320.2 185.7,318.9 186.0,318.0 Z" fill="#82c344" stroke="#111" stroke-width="0.8"/>
<path d="M190.8,262.8 C191.4,261.4 195.1,259.7 196.3,259.3 C197.6,258.9 198.1,259.2 198.3,260.7 C198.5,262.1 198.6,266.8 197.7,268.0 C196.8,269.2 194.2,268.9 193.0,268.0 C191.8,267.1 190.2,264.2 190.8,262.8 Z" fill="#bdd64e" stroke="#111" stroke-width="0.8"/>
<path d="M272.0,277.0 C272.7,276.6 274.1,277.8 275.0,279.5 C275.9,281.2 277.1,284.4 277.5,287.0 C277.9,289.6 277.7,292.7 277.2,295.0 C276.7,297.3 275.5,300.5 274.5,301.0 C273.5,301.5 271.7,299.8 271.0,298.0 C270.3,296.2 270.3,292.7 270.3,290.0 C270.3,287.3 270.5,284.2 270.8,282.0 C271.1,279.8 271.3,277.4 272.0,277.0 Z" fill="#bdd64e" stroke="#111" stroke-width="0.8"/>
<path d="M200.0,310.2 C201.7,308.3 206.5,309.7 210.0,309.5 C213.5,309.3 218.0,309.4 221.0,308.8 C224.0,308.2 225.7,306.7 228.0,306.0 C230.3,305.3 233.2,303.7 235.1,304.6 C237.0,305.5 238.1,311.4 239.3,311.6 C240.5,311.8 240.5,307.2 242.1,306.0 C243.7,304.8 246.3,305.5 249.1,304.6 C251.9,303.7 255.9,301.8 258.9,300.4 C261.9,299.0 265.2,297.8 267.3,296.2 C269.4,294.6 270.1,292.5 271.5,290.6 C272.9,288.7 274.6,285.1 275.7,285.0 C276.8,284.9 277.9,287.5 278.0,290.0 C278.1,292.5 277.3,297.5 276.0,300.0 C274.7,302.5 271.7,303.0 270.0,305.0 C268.3,307.0 266.7,309.8 266.0,312.0 C265.3,314.2 266.7,316.5 266.0,318.0 C265.3,319.5 263.8,320.2 262.0,321.0 C260.2,321.8 257.8,322.2 255.0,322.5 C252.2,322.8 248.8,322.8 245.0,323.0 C241.2,323.2 236.2,323.4 232.0,323.5 C227.8,323.6 223.7,323.7 220.0,323.5 C216.3,323.3 213.3,322.9 210.0,322.5 C206.7,322.1 201.7,323.1 200.0,321.0 C198.3,318.9 198.3,312.1 200.0,310.2 Z" fill="#82c344" stroke="#111" stroke-width="0.8"/>
<path d="M161.1,322.0 C160.8,319.4 162.7,315.0 163.9,312.5 C165.1,310.0 166.2,308.2 168.1,306.9 C170.0,305.6 173.0,304.9 175.1,304.8 C177.2,304.7 179.6,304.9 180.7,306.2 C181.8,307.5 181.4,309.9 181.4,312.5 C181.4,315.1 179.9,319.8 180.7,322.0 C181.5,324.2 183.9,324.8 186.0,326.0 C188.1,327.2 190.7,328.3 193.0,329.0 C195.3,329.7 197.7,329.7 200.0,330.0 C202.3,330.3 205.1,329.9 207.0,331.0 C208.9,332.1 210.3,334.9 211.4,336.3 C212.5,337.7 212.7,338.1 213.3,339.2 C214.0,340.3 215.1,341.5 215.3,343.1 C215.5,344.7 214.8,347.0 214.3,349.0 C213.8,351.0 213.2,352.9 212.4,354.9 C211.6,356.9 210.9,358.8 209.4,360.8 C207.9,362.8 205.8,364.4 203.5,366.7 C201.2,369.0 198.3,372.1 195.7,374.5 C193.1,376.9 190.3,379.4 188.0,381.0 C185.7,382.6 183.3,384.5 182.0,384.0 C180.7,383.5 179.7,380.3 180.0,378.0 C180.3,375.7 182.3,373.0 184.0,370.0 C185.7,367.0 188.8,363.0 190.0,360.0 C191.2,357.0 191.7,354.3 191.0,352.0 C190.3,349.7 187.8,347.8 186.0,346.0 C184.2,344.2 182.3,343.0 180.0,341.0 C177.7,339.0 174.3,336.2 172.0,334.0 C169.7,331.8 167.8,330.0 166.0,328.0 C164.2,326.0 161.4,324.6 161.1,322.0 Z" fill="#f3ae32" stroke="#111" stroke-width="0.8"/>
<path d="M119.0,366.0 C120.2,364.6 123.4,365.2 126.0,365.5 C128.6,365.8 131.5,367.3 134.7,367.5 C137.9,367.7 141.9,367.1 145.0,366.8 C148.1,366.5 150.0,366.2 153.0,365.8 C156.0,365.4 160.0,365.0 163.0,364.5 C166.0,364.0 168.9,363.5 171.2,363.0 C173.5,362.5 175.4,362.0 177.0,361.5 C178.6,361.0 179.8,359.9 181.0,360.0 C182.2,360.1 183.5,360.3 184.0,362.0 C184.5,363.7 185.0,368.8 184.0,370.0 C183.0,371.2 181.0,368.7 178.0,369.0 C175.0,369.3 170.0,371.7 165.8,371.9 C161.6,372.1 157.3,370.2 153.0,370.1 C148.7,370.0 143.2,370.6 140.2,371.0 C137.1,371.4 137.1,372.3 134.7,372.8 C132.3,373.3 128.6,373.8 126.0,374.0 C123.4,374.2 120.2,375.3 119.0,374.0 C117.8,372.7 117.8,367.4 119.0,366.0 Z" fill="#bdd64e" stroke="#111" stroke-width="0.8"/>
<path d="M180.0,335.3 C181.6,334.9 185.2,336.0 187.8,337.3 C190.4,338.6 193.4,340.8 195.7,343.1 C198.0,345.4 200.0,348.4 201.6,351.0 C203.2,353.6 205.2,357.1 205.5,358.8 C205.8,360.5 204.8,361.6 203.5,361.0 C202.2,360.4 199.9,357.7 197.6,355.5 C195.3,353.3 192.4,349.8 189.8,348.0 C187.2,346.2 184.0,345.8 182.0,344.5 C180.0,343.2 178.3,341.5 178.0,340.0 C177.7,338.5 178.4,335.8 180.0,335.3 Z" fill="#82c344" stroke="#111" stroke-width="0.8"/>
<path d="M178.0,328.0 C179.5,327.8 183.7,329.7 186.0,330.5 C188.3,331.3 191.3,332.2 192.0,333.0 C192.7,333.8 191.5,335.3 190.0,335.5 C188.5,335.7 185.2,334.6 183.0,334.0 C180.8,333.4 177.8,333.0 177.0,332.0 C176.2,331.0 176.5,328.2 178.0,328.0 Z" fill="#bdd64e" stroke="#111" stroke-width="0.8"/>
<path d="M119.0,374.5 C120.2,372.2 123.4,374.7 126.0,374.5 C128.6,374.3 132.2,373.6 134.7,373.2 C137.2,372.8 137.9,372.2 141.0,371.8 C144.1,371.4 148.9,370.7 153.0,370.8 C157.1,370.9 162.2,372.4 165.8,372.3 C169.5,372.2 172.2,371.1 174.9,370.5 C177.6,369.9 180.7,368.0 182.2,368.6 C183.7,369.2 183.4,372.1 184.0,374.0 C184.6,375.9 185.2,378.3 185.5,380.0 C185.8,381.7 185.9,382.7 186.0,384.0 C186.1,385.3 197.2,387.3 186.0,388.0 C174.8,388.7 130.2,390.2 119.0,388.0 C107.8,385.8 117.8,376.8 119.0,374.5 Z" fill="#f06a36" stroke="#111" stroke-width="0.8"/>
<path d="M183.9,362.7 C185.0,360.8 188.5,360.1 189.8,360.8 C191.1,361.5 191.6,364.4 191.8,366.7 C192.0,369.0 191.8,372.3 190.8,374.5 C189.8,376.7 187.3,380.4 186.0,380.0 C184.7,379.6 183.3,374.9 183.0,372.0 C182.7,369.1 182.8,364.6 183.9,362.7 Z" fill="#f06a36" stroke="#111" stroke-width="0.8"/>
<path d="M119.0,375.3 C120.2,373.3 124.2,375.5 126.5,376.0 C128.8,376.5 131.0,377.0 132.5,378.3 C134.0,379.6 134.9,382.4 135.4,384.0 C135.9,385.6 138.1,387.3 135.4,388.0 C132.7,388.7 121.7,390.1 119.0,388.0 C116.3,385.9 117.8,377.3 119.0,375.3 Z" fill="#ea3a30" />
<circle cx="152.6" cy="376.8" r="1.3" fill="#ea3a30" stroke="#111" stroke-width="0.6"/>
<circle cx="199" cy="347" r="1.2" fill="#f06a36" stroke="#111" stroke-width="0.5"/>
<path d="M257.0,236.6 C258.8,236.5 262.0,238.0 265.0,238.6 C268.0,239.2 271.8,240.0 275.0,240.4 C278.2,240.8 281.7,240.7 284.5,241.0 C287.3,241.3 289.8,241.8 292.0,242.0 C294.2,242.2 295.8,243.0 298.0,242.5 C300.2,242.0 302.7,240.4 305.0,239.0 C307.3,237.6 309.8,235.8 312.0,234.0 C314.2,232.2 316.3,230.0 318.0,228.0 C319.7,226.0 320.8,223.6 322.0,222.0 C323.2,220.4 324.0,219.6 325.0,218.6 C326.0,217.6 327.2,216.4 328.0,216.0 C328.8,215.6 329.7,202.0 330.0,216.0 C330.3,230.0 332.0,286.7 330.0,300.0 C328.0,313.3 321.3,296.0 318.0,296.0 C314.7,296.0 311.8,297.5 310.0,300.0 C308.2,302.5 308.7,308.5 307.0,311.0 C305.3,313.5 302.5,313.7 300.0,315.0 C297.5,316.3 294.2,317.4 292.0,318.6 C289.8,319.9 288.3,320.9 287.0,322.5 C285.7,324.1 285.2,326.4 284.0,328.2 C282.8,330.0 281.6,331.9 280.0,333.5 C278.4,335.1 276.5,336.6 274.5,337.8 C272.5,339.0 270.2,339.7 268.0,340.5 C265.8,341.3 263.3,341.8 261.0,342.5 C258.7,343.2 256.3,343.8 254.0,344.5 C251.7,345.2 249.0,346.1 247.0,346.8 C245.0,347.6 243.8,348.8 242.0,349.0 C240.2,349.2 237.7,348.5 236.0,348.0 C234.3,347.5 231.3,346.8 232.0,346.0 C232.7,345.2 236.7,344.1 240.0,343.0 C243.3,341.9 248.3,340.7 252.0,339.5 C255.7,338.3 259.0,337.4 262.0,336.0 C265.0,334.6 267.7,332.8 270.0,331.0 C272.3,329.2 274.3,327.2 276.0,325.0 C277.7,322.8 278.8,320.5 280.0,318.0 C281.2,315.5 282.2,312.7 283.0,310.0 C283.8,307.3 284.5,304.5 285.0,302.0 C285.5,299.5 285.8,297.5 286.0,295.0 C286.2,292.5 286.7,289.5 286.5,287.0 C286.3,284.5 285.8,282.3 285.0,280.0 C284.2,277.7 282.4,275.3 281.5,273.0 C280.6,270.7 280.3,267.8 279.4,266.0 C278.5,264.2 277.9,263.2 276.0,262.0 C274.1,260.8 270.8,260.0 268.0,259.0 C265.2,258.0 261.8,256.4 259.0,256.0 C256.2,255.6 253.6,256.6 251.4,256.6 C249.2,256.6 246.1,257.4 245.9,255.9 C245.7,254.4 248.7,250.4 250.1,247.6 C251.5,244.8 253.0,241.1 254.2,239.3 C255.3,237.5 255.2,236.7 257.0,236.6 Z" fill="#64c4b0" stroke="#111" stroke-width="0.8"/>
<path d="M268.7,244.0 C270.7,242.9 276.1,243.3 280.0,243.4 C283.9,243.5 288.9,243.9 292.0,244.5 C295.1,245.1 297.6,245.9 298.3,247.0 C299.0,248.1 297.4,249.8 296.0,251.0 C294.6,252.2 292.3,253.2 290.0,254.0 C287.7,254.8 285.0,255.6 282.0,255.8 C279.0,256.0 274.3,256.0 272.0,255.0 C269.7,254.0 268.6,251.8 268.0,250.0 C267.4,248.2 266.7,245.1 268.7,244.0 Z" fill="#72c272" stroke="#111" stroke-width="0.8"/>
<path d="M229.4,260.7 C230.1,260.1 233.1,260.0 234.9,260.0 C236.7,260.0 239.7,260.1 240.4,260.7 C241.1,261.3 239.9,262.8 239.0,263.5 C238.1,264.2 236.3,264.9 234.9,264.9 C233.5,264.9 231.7,264.2 230.8,263.5 C229.9,262.8 228.7,261.3 229.4,260.7 Z" fill="#64c4b0" stroke="#111" stroke-width="0.8"/>
<path d="M289.2,257.0 C290.9,255.6 294.8,255.6 297.6,256.0 C300.4,256.4 303.6,259.4 306.0,259.2 C308.4,259.0 310.6,256.4 312.3,255.0 C314.1,253.6 314.9,251.2 316.5,250.7 C318.1,250.2 320.8,250.4 321.8,251.8 C322.9,253.2 323.0,256.6 322.8,259.2 C322.6,261.8 321.4,264.8 320.7,267.6 C320.0,270.4 319.7,273.2 318.6,276.0 C317.6,278.8 315.8,281.6 314.4,284.4 C313.0,287.2 311.9,290.7 310.2,292.8 C308.4,294.9 306.0,296.6 303.9,297.0 C301.8,297.4 299.4,296.3 297.6,294.9 C295.9,293.5 294.4,291.1 293.4,288.6 C292.3,286.2 290.6,282.3 291.3,280.2 C292.0,278.1 295.5,277.4 297.6,276.0 C299.7,274.6 303.5,273.2 303.9,271.8 C304.2,270.4 301.4,268.7 299.7,267.6 C297.9,266.6 295.5,266.0 293.4,265.5 C291.3,265.0 287.8,265.8 287.1,264.4 C286.4,263.0 287.4,258.4 289.2,257.0 Z" fill="#22bcec" stroke="#111" stroke-width="0.8"/>
<path d="M300.0,278.0 C300.7,277.1 303.3,276.5 305.0,276.5 C306.7,276.5 309.7,277.1 310.0,278.0 C310.3,278.9 308.5,281.3 307.0,282.0 C305.5,282.7 302.2,282.7 301.0,282.0 C299.8,281.3 299.3,278.9 300.0,278.0 Z" fill="#64c4b0" stroke="#111" stroke-width="0.8"/>
<path d="M306.0,264.0 C306.2,263.0 309.7,261.8 311.0,262.0 C312.3,262.2 314.2,264.0 314.0,265.0 C313.8,266.0 311.3,268.2 310.0,268.0 C308.7,267.8 305.8,265.0 306.0,264.0 Z" fill="#64c4b0" stroke="#111" stroke-width="0.8"/>
<path d="M292.0,268.5 C292.7,267.4 297.0,265.8 300.0,265.5 C303.0,265.2 307.0,266.2 310.0,267.0 C313.0,267.8 317.0,269.2 318.0,270.5 C319.0,271.8 318.0,274.7 316.0,275.0 C314.0,275.3 309.3,273.0 306.0,272.5 C302.7,272.0 298.3,272.7 296.0,272.0 C293.7,271.3 291.3,269.6 292.0,268.5 Z" fill="#64c4b0" stroke="#111" stroke-width="0.8"/>
<path d="M298.0,285.0 C299.2,284.0 303.8,282.8 306.0,283.0 C308.2,283.2 311.2,285.3 311.0,286.5 C310.8,287.7 307.0,289.6 305.0,290.0 C303.0,290.4 300.2,289.8 299.0,289.0 C297.8,288.2 296.8,286.0 298.0,285.0 Z" fill="#64c4b0" stroke="#111" stroke-width="0.8"/>
<path d="M306.0,257.0 C306.2,256.2 311.0,256.2 313.0,256.5 C315.0,256.8 318.2,258.2 318.0,259.0 C317.8,259.8 314.0,261.8 312.0,261.5 C310.0,261.2 305.8,257.8 306.0,257.0 Z" fill="#64c4b0" stroke="#111" stroke-width="0.8"/>
<path d="M312.1,236.5 C313.4,236.3 316.6,237.4 317.6,238.7 C318.6,239.9 318.6,242.3 318.0,244.0 C317.4,245.7 315.7,247.7 314.0,249.0 C312.3,250.3 310.0,251.2 308.0,252.0 C306.0,252.8 304.0,253.9 302.0,254.0 C300.0,254.1 296.3,253.3 296.0,252.5 C295.7,251.7 298.3,250.2 300.0,249.0 C301.7,247.8 304.3,246.5 306.0,245.0 C307.7,243.5 309.0,241.4 310.0,240.0 C311.0,238.6 310.8,236.7 312.1,236.5 Z" fill="#22bcec" stroke="#111" stroke-width="0.8"/>
<path d="M261.0,250.0 C261.7,249.3 264.2,249.2 266.0,249.5 C267.8,249.8 271.7,251.2 272.0,252.0 C272.3,252.8 269.7,254.2 268.0,254.5 C266.3,254.8 263.2,254.2 262.0,253.5 C260.8,252.8 260.3,250.7 261.0,250.0 Z" fill="#22bcec" stroke="#111" stroke-width="0.8"/>
<path d="M226.1,352.0 C226.6,350.9 229.2,348.8 231.0,348.0 C232.8,347.2 235.3,346.9 236.9,347.1 C238.5,347.3 240.5,348.0 240.8,349.0 C241.1,350.0 240.1,351.8 238.8,352.9 C237.5,354.0 234.7,355.6 232.9,355.9 C231.1,356.2 229.1,355.5 228.0,354.9 C226.9,354.2 225.6,353.1 226.1,352.0 Z" fill="#22bcec" />
<path d="M273.0,296.0 C273.5,294.8 276.8,292.5 279.0,292.0 C281.2,291.5 285.5,292.0 286.0,293.0 C286.5,294.0 283.7,297.0 282.0,298.0 C280.3,299.0 277.5,299.3 276.0,299.0 C274.5,298.7 272.5,297.2 273.0,296.0 Z" fill="#22bcec" stroke="#111" stroke-width="0.8"/>
<path d="M284.0,300.0 C284.8,298.8 287.7,297.7 289.0,298.0 C290.3,298.3 292.2,300.7 292.0,302.0 C291.8,303.3 289.3,305.5 288.0,306.0 C286.7,306.5 284.7,306.0 284.0,305.0 C283.3,304.0 283.2,301.2 284.0,300.0 Z" fill="#22bcec" stroke="#111" stroke-width="0.8"/>
<path d="M314.0,238.0 C314.0,235.8 316.6,234.0 318.0,232.0 C319.4,230.0 321.2,227.8 322.5,226.0 C323.8,224.2 324.9,222.0 326.0,221.0 C327.1,220.0 328.5,206.8 329.0,220.0 C329.5,233.2 331.8,286.7 329.0,300.0 C326.2,313.3 315.5,300.5 312.0,300.0 C308.5,299.5 308.0,298.7 308.0,297.0 C308.0,295.3 310.7,292.5 312.0,290.0 C313.3,287.5 314.8,285.0 316.0,282.0 C317.2,279.0 318.0,275.3 319.0,272.0 C320.0,268.7 321.4,265.3 322.0,262.0 C322.6,258.7 323.2,254.8 322.5,252.0 C321.8,249.2 319.4,247.3 318.0,245.0 C316.6,242.7 314.0,240.2 314.0,238.0 Z" fill="#2a56a8" stroke="#111" stroke-width="0.8"/>
<path d="M319.0,238.0 C319.1,235.8 321.4,233.2 322.5,231.0 C323.6,228.8 324.6,226.5 325.5,225.0 C326.4,223.5 327.4,221.8 328.0,222.0 C328.6,222.2 328.8,213.3 329.0,226.0 C329.2,238.7 331.5,285.8 329.0,298.0 C326.5,310.2 316.7,299.7 314.0,299.0 C311.3,298.3 312.5,296.2 313.0,294.0 C313.5,291.8 315.8,289.0 317.0,286.0 C318.2,283.0 319.4,279.5 320.5,276.0 C321.6,272.5 322.8,269.0 323.5,265.0 C324.2,261.0 324.8,255.5 324.5,252.0 C324.2,248.5 322.9,246.3 322.0,244.0 C321.1,241.7 318.9,240.2 319.0,238.0 Z" fill="#3e3c96" stroke="#111" stroke-width="0.8"/>
<path d="M321.0,242.0 C320.8,239.8 323.1,237.2 324.0,235.0 C324.9,232.8 325.8,230.5 326.5,229.0 C327.2,227.5 327.8,214.8 328.0,226.0 C328.2,237.2 329.7,284.2 328.0,296.0 C326.3,307.8 319.7,298.0 318.0,297.0 C316.3,296.0 317.3,292.8 318.0,290.0 C318.7,287.2 320.8,283.7 322.0,280.0 C323.2,276.3 324.3,272.3 325.0,268.0 C325.7,263.7 326.0,257.3 326.0,254.0 C326.0,250.7 325.8,250.0 325.0,248.0 C324.2,246.0 321.2,244.2 321.0,242.0 Z" fill="#28306e" stroke="#111" stroke-width="0.8"/>
<path d="M185.9,386.0 L185.9,383.9 L195.7,374.5 L203.5,366.7 L209.4,360.8 L212.4,354.9 L214.3,349.0 L215.3,343.1 L213.3,339.2 L211.4,336.3 L214.3,334.3 L219.2,333.3 L227.1,331.4 L234.9,329.6 L237.8,331.4 L234.9,334.3 L231.0,336.3 L227.1,338.2 L226.1,343.1 L226.3,347.5 L226.5,352.5 L229.0,355.8 L233.0,356.2 L238.8,353.2 L244.7,349.6 L247.0,347.4 L254.0,345.4 L261.0,343.3 L268.0,341.2 L275.1,338.4 L280.7,334.2 L284.9,328.6 L287.7,322.9 L291.9,319.4 L297.5,316.6 L303.1,314.5 L307.3,311.0 L309.4,305.6 L310.1,300.0 L313.1,291.7 L318.7,284.7 L322.3,278.0 L324.3,274.4 L325.5,268.0 L326.2,262.0 L327.0,254.0 L326.0,249.0 L326.5,244.0 L327.2,236.0 L327.4,226.0 L327.6,219.0 L328.6,214.0 L331.0,214.0 L331.0,386.0 Z" fill="url(#landp)"/>
<path d="M276.6,302.4 L281.5,304.0 L281.0,307.5 L278.0,312.3 L272.4,316.5 L268.2,319.4 L266.8,317.5 L269.6,312.3 L272.4,307.5 Z" fill="url(#landp)"/>
<path d="M185.9,383.9 L195.7,374.5 L203.5,366.7 L209.4,360.8 L212.4,354.9 L214.3,349.0 L215.3,343.1 L213.3,339.2 L211.4,336.3 L214.3,334.3 L219.2,333.3 L227.1,331.4 L234.9,329.6 L237.8,331.4 L234.9,334.3 L231.0,336.3 L227.1,338.2 L226.1,343.1 L226.3,347.5 L226.5,352.5 L229.0,355.8 L233.0,356.2 L238.8,353.2 L244.7,349.6 L247.0,347.4 L254.0,345.4 L261.0,343.3 L268.0,341.2 L275.1,338.4 L280.7,334.2 L284.9,328.6 L287.7,322.9 L291.9,319.4 L297.5,316.6 L303.1,314.5 L307.3,311.0 L309.4,305.6 L310.1,300.0 L313.1,291.7 L318.7,284.7 L322.3,278.0 L324.3,274.4 L325.5,268.0 L326.2,262.0 L327.0,254.0 L326.0,249.0 L326.5,244.0 L327.2,236.0 L327.4,226.0 L327.6,219.0 L328.6,214.0" fill="none" stroke="#fff" stroke-width="1.0"/>
<path d="M128.0,209.5 C127.4,210.9 124.7,216.5 124.5,218.0 C124.3,219.5 125.6,219.0 126.6,218.7 C127.6,218.3 129.7,216.2 130.7,215.9 C131.7,215.6 132.1,215.8 132.8,216.6 C133.5,217.4 133.8,219.7 134.9,220.7 C136.1,221.7 137.8,222.6 139.7,222.8 C141.6,223.0 144.5,222.4 146.6,222.1 C148.7,221.8 150.5,220.6 152.1,220.7 C153.7,220.8 154.6,222.3 156.2,222.8 C157.8,223.3 160.0,223.5 161.8,223.5 C163.7,223.5 165.7,223.2 167.3,222.8 C168.9,222.5 169.1,221.5 171.4,221.4 C173.7,221.3 178.2,221.9 181.1,222.1 C183.9,222.3 186.8,223.0 188.5,222.5 C190.2,222.0 191.2,220.2 191.5,219.0 C191.8,217.8 190.7,216.1 190.5,215.5" fill="none" stroke="#fff" stroke-width="1.25" />
<path d="M150.7,209.5 C151.4,209.9 152.8,211.1 154.9,211.8 C157.0,212.5 160.3,213.2 163.1,213.8 C165.8,214.4 168.4,214.8 171.4,215.2 C174.4,215.5 178.3,215.7 181.1,215.9 C183.9,216.1 186.8,216.5 188.0,216.6" fill="none" stroke="#fff" stroke-width="1.25" />
<path d="M118.0,257.0 C119.1,256.4 122.7,254.2 124.5,253.1 C126.3,252.0 127.1,251.0 128.7,250.4 C130.3,249.8 132.1,249.7 134.2,249.7 C136.3,249.7 138.8,249.9 141.1,250.4 C143.4,250.9 145.7,251.7 148.0,252.4 C150.3,253.1 152.8,254.0 154.9,254.5 C157.0,255.0 158.3,255.2 160.4,255.2 C162.5,255.2 165.2,255.0 167.3,254.5 C169.4,254.0 171.3,253.2 172.8,252.4 C174.3,251.6 175.7,250.7 176.2,249.7 C176.7,248.7 176.4,247.2 175.6,246.2 C174.8,245.2 172.6,244.4 171.4,243.5 C170.2,242.6 168.9,241.5 168.7,240.7 C168.5,239.9 169.1,239.1 170.0,238.7 C170.9,238.2 172.3,238.2 174.2,238.0 C176.0,237.8 178.8,237.3 181.1,237.3 C183.4,237.3 185.7,237.7 188.0,238.0 C190.3,238.3 192.6,238.7 194.9,239.3 C197.2,239.9 199.5,240.7 201.8,241.4 C204.1,242.1 206.4,242.9 208.7,243.5 C211.0,244.1 213.3,244.8 215.6,245.1 C217.9,245.4 220.2,245.3 222.5,245.6 C224.8,245.9 227.1,246.4 229.4,246.9 C231.7,247.4 234.2,248.2 236.3,248.3 C238.4,248.4 240.2,248.2 241.8,247.6 C243.4,247.0 244.8,246.1 245.9,244.9 C247.1,243.8 248.1,242.3 248.7,240.7 C249.3,239.1 249.6,236.8 249.4,235.2 C249.2,233.6 248.5,232.0 247.3,231.1 C246.1,230.2 243.6,229.9 242.0,229.7 C240.4,229.5 238.6,229.2 237.7,229.7 C236.8,230.1 237.2,232.2 236.3,232.4 C235.4,232.6 233.7,232.0 232.1,231.1 C230.5,230.2 228.2,228.3 226.6,226.9 C225.0,225.5 223.7,224.2 222.5,222.8 C221.3,221.4 220.3,219.7 219.7,218.7 C219.1,217.7 218.8,216.8 219.0,216.6 C219.2,216.4 219.8,216.6 221.1,217.3 C222.4,218.0 224.5,219.7 226.6,220.7 C228.7,221.7 230.7,222.9 233.5,223.5 C236.3,224.1 240.4,224.2 243.2,224.2 C246.0,224.2 247.8,223.6 250.1,223.5 C252.4,223.4 254.9,223.6 257.0,223.5 C259.1,223.4 261.4,223.8 262.5,222.8 C263.6,221.8 262.5,218.9 263.9,217.3 C265.3,215.7 268.5,214.4 270.8,213.1 C273.1,211.8 276.6,210.1 277.7,209.5" fill="none" stroke="#fff" stroke-width="1.25" />
<path d="M318.3,209.5 C318.2,210.3 318.4,212.5 317.6,214.5 C316.8,216.5 315.6,219.1 313.5,221.4 C311.4,223.7 308.2,226.4 305.2,228.3 C302.2,230.2 299.1,231.9 295.6,233.1 C292.2,234.2 288.2,235.0 284.5,235.2 C280.8,235.4 276.9,235.1 273.5,234.5 C270.1,233.9 266.6,232.7 263.9,231.7 C261.1,230.7 258.6,228.8 257.0,228.3 C255.4,227.9 255.1,228.3 254.2,229.0 C253.3,229.7 252.0,230.5 251.4,232.4 C250.8,234.3 250.8,238.9 250.8,240.7 C250.8,242.5 251.6,241.5 251.5,243.0 C251.4,244.5 251.0,248.1 250.1,249.8 C249.2,251.5 248.0,252.5 245.9,253.3 C243.8,254.1 240.2,254.6 237.4,254.7 C234.6,254.8 231.3,253.9 229.0,254.0 C226.7,254.1 224.6,254.5 223.4,255.4 C222.2,256.3 222.0,257.7 222.0,259.6 C222.0,261.5 222.7,264.2 223.4,266.6 C224.1,269.0 224.8,271.4 226.2,273.7 C227.6,276.0 229.5,278.8 231.8,280.7 C234.1,282.6 237.1,284.0 240.2,284.9 C243.2,285.8 247.3,285.7 250.1,286.3 C252.9,286.9 255.5,287.7 257.1,288.4 C258.7,289.1 259.0,290.4 259.9,290.5 C260.8,290.6 261.5,290.0 262.7,289.1 C263.9,288.2 265.8,286.5 266.9,284.9 C267.9,283.3 268.5,281.4 269.0,279.3 C269.5,277.2 269.8,274.4 269.7,272.3 C269.6,270.2 269.2,268.2 268.3,266.6 C267.4,265.0 266.0,263.4 264.1,262.4 C262.2,261.3 259.4,260.5 257.1,260.3 C254.8,260.1 252.2,260.5 250.1,261.0 C248.0,261.5 246.2,262.2 244.5,263.1 C242.8,264.0 241.6,265.5 240.2,266.6 C238.8,267.7 236.9,268.7 236.0,269.5 C235.1,270.3 234.4,270.7 234.6,271.6 C234.8,272.5 236.0,274.4 237.4,275.1 C238.8,275.8 241.7,275.8 243.1,275.8 C244.5,275.8 245.4,275.2 245.9,275.1" fill="none" stroke="#fff" stroke-width="1.25" />
<path d="M259.0,256.6 C259.8,256.7 262.4,256.9 264.0,257.2 C265.6,257.5 266.2,257.6 268.3,258.2 C270.4,258.8 274.6,259.6 276.7,261.0 C278.8,262.4 280.1,264.2 280.9,266.6 C281.7,269.0 281.7,272.3 281.6,275.1 C281.5,277.9 280.7,280.9 280.2,283.5 C279.7,286.1 279.5,288.1 278.8,290.5 C278.1,292.9 277.1,295.8 276.0,298.0 C274.9,300.2 272.7,303.0 272.0,304.0" fill="none" stroke="#fff" stroke-width="1.25" />
<path d="M195.0,273.0 C195.7,273.5 197.8,274.4 199.2,275.8 C200.6,277.2 202.3,279.5 203.4,281.4 C204.5,283.3 205.7,285.4 205.5,287.0 C205.3,288.6 202.3,289.8 202.0,291.2 C201.7,292.6 202.2,293.9 203.4,295.5 C204.6,297.1 207.4,299.2 209.0,301.1 C210.6,303.0 213.2,305.5 213.2,306.7 C213.2,307.9 210.9,308.1 209.0,308.1 C207.1,308.1 204.1,307.6 202.0,306.7 C199.9,305.8 197.7,303.9 196.4,302.5 C195.1,301.1 194.3,299.2 194.3,298.3 C194.3,297.4 195.6,297.6 196.4,296.9 C197.2,296.2 198.5,295.5 199.2,294.1 C199.9,292.7 200.8,290.3 200.6,288.4 C200.4,286.5 198.6,284.7 197.8,282.8 C197.0,280.9 196.2,278.8 195.7,277.2 C195.2,275.6 195.1,273.7 195.0,273.0" fill="none" stroke="#fff" stroke-width="1.25" />
<path d="M284.5,249.5 C285.2,249.2 287.5,247.6 289.0,247.6 C290.5,247.6 293.5,248.9 293.5,249.6 C293.5,250.3 290.5,251.7 289.0,251.7 C287.5,251.7 285.2,249.9 284.5,249.5" fill="none" stroke="#fff" stroke-width="1.25" />
<path d="M215.4,327.1 C216.3,326.9 218.9,325.7 221.0,325.7 C223.1,325.7 225.4,327.1 228.0,327.1 C230.6,327.1 234.2,325.5 236.5,325.7 C238.8,325.9 240.5,328.3 242.1,328.5 C243.7,328.7 244.7,327.6 246.3,327.1 C247.9,326.6 249.8,325.7 251.9,325.7 C254.0,325.7 256.8,326.4 258.9,327.1 C261.0,327.8 262.6,329.7 264.5,329.9 C266.4,330.1 268.2,329.4 270.1,328.5 C272.0,327.6 274.3,325.7 275.7,324.3 C277.1,322.9 278.0,320.8 278.5,320.1" fill="none" stroke="#fff" stroke-width="1.25" />
<path d="M239.0,332.5 C240.0,332.9 242.5,334.1 244.9,335.0 C247.3,335.9 250.3,337.7 253.3,338.0 C256.3,338.3 259.8,337.8 263.1,336.9 C266.4,336.0 270.3,334.3 272.9,332.7 C275.5,331.1 276.6,328.5 278.5,327.1 C280.4,325.7 283.2,324.8 284.2,324.3" fill="none" stroke="#fff" stroke-width="1.25" />
<path d="M245.0,330.5 C245.7,330.3 247.8,329.3 249.0,329.5 C250.2,329.7 252.2,330.9 252.0,331.5 C251.8,332.1 249.2,333.2 248.0,333.0 C246.8,332.8 245.5,330.9 245.0,330.5" fill="none" stroke="#fff" stroke-width="1.25" />
<path d="M259.0,331.0 C259.8,331.2 262.5,332.4 264.0,332.5 C265.5,332.6 268.0,331.2 268.0,331.5 C268.0,331.8 265.5,334.2 264.0,334.5 C262.5,334.8 259.8,333.7 259.0,333.5" fill="none" stroke="#fff" stroke-width="1.25" />
<path d="M236.0,329.5 C236.7,329.8 239.7,330.3 240.0,331.0 C240.3,331.7 239.0,333.4 238.0,333.5 C237.0,333.6 234.3,332.2 234.0,331.5 C233.7,330.8 235.7,329.8 236.0,329.5" fill="none" stroke="#fff" stroke-width="1.25" />
<path d="M131.6,270.8 C132.5,270.4 135.1,268.5 137.0,268.3 C138.9,268.1 142.6,268.6 142.8,269.5 C143.0,270.4 139.8,273.3 138.0,273.9 C136.2,274.5 133.1,273.7 132.0,273.2 C130.9,272.7 131.7,271.2 131.6,270.8" fill="none" stroke="#fff" stroke-width="1.25" />
<path d="M150.6,268.0 C151.1,267.5 152.8,266.6 153.5,266.9 C154.2,267.2 154.2,268.4 154.5,270.0 C154.8,271.6 155.9,276.0 155.5,276.7 C155.1,277.4 152.8,275.1 152.0,274.0 C151.2,272.9 150.8,271.0 150.6,270.0 C150.4,269.0 150.1,268.5 150.6,268.0 Z" fill="#fff"/>
<circle cx="190.8" cy="224.2" r="1.4" fill="none" stroke="#fff" stroke-width="1"/>
<path d="M119.0,265.6 C121.3,265.0 128.2,263.0 132.8,262.1 C137.4,261.2 142.0,260.6 146.6,260.3 C151.2,260.0 159.8,259.9 160.4,260.3 C161.0,260.7 154.2,261.6 150.0,262.5 C145.8,263.4 139.7,264.3 135.0,265.5 C130.3,266.7 124.2,268.8 122.0,269.5" fill="none" stroke="#111" stroke-width="0.8" />
<path d="M119.0,282.5 C120.3,282.2 124.2,281.5 127.0,281.0 C129.8,280.5 133.0,280.1 136.0,279.5 C139.0,278.9 142.5,278.1 145.0,277.5 C147.5,276.9 149.0,275.9 151.0,276.0 C153.0,276.1 157.2,277.2 157.0,278.0 C156.8,278.8 152.2,280.0 150.0,281.0 C147.8,282.0 144.3,283.2 144.0,284.0 C143.7,284.8 146.0,285.7 148.0,286.0 C150.0,286.3 153.7,286.2 156.0,286.0 C158.3,285.8 160.0,285.0 162.0,284.5 C164.0,284.0 167.0,283.2 168.0,283.0" fill="none" stroke="#111" stroke-width="0.8" />
<path d="M165.9,268.0 C166.8,267.4 169.6,264.9 171.4,264.2 C173.2,263.4 175.2,263.5 176.9,263.5 C178.6,263.5 181.6,263.6 181.8,264.2 C182.0,264.8 179.0,265.9 178.0,267.0 C177.0,268.1 175.7,270.2 176.0,271.0 C176.3,271.8 179.3,271.8 180.0,272.0" fill="none" stroke="#111" stroke-width="0.8" />
<path d="M195.0,266.0 C196.2,266.7 199.7,268.3 202.0,270.2 C204.3,272.1 207.2,274.9 209.0,277.2 C210.8,279.5 212.3,282.8 212.5,284.2 C212.7,285.6 211.2,286.1 210.4,285.6 C209.6,285.1 208.8,283.3 207.6,281.4 C206.4,279.5 205.0,276.5 203.4,274.4 C201.8,272.3 198.7,269.7 197.8,268.8" fill="none" stroke="#111" stroke-width="0.8" />
<path d="M211.8,295.5 C212.8,296.7 216.8,301.1 217.5,302.5 C218.2,303.9 217.1,304.8 216.0,303.9 C214.9,303.0 211.8,298.3 211.1,296.9 C210.4,295.5 211.7,295.7 211.8,295.5" fill="none" stroke="#111" stroke-width="0.8" />
<path d="M126.0,310.0 C127.2,310.4 130.7,311.2 133.0,312.5 C135.3,313.8 138.1,316.2 140.0,318.0 C141.9,319.8 144.0,321.5 144.2,323.0 C144.4,324.5 142.2,327.2 141.0,327.0 C139.8,326.8 138.3,323.7 137.0,322.0 C135.7,320.3 133.7,317.8 133.0,317.0" fill="none" stroke="#111" stroke-width="0.8" />
<path d="M163.8,329.0 C164.5,329.2 166.5,329.2 168.0,330.0 C169.5,330.8 172.3,332.3 172.8,334.0 C173.3,335.7 172.1,339.2 171.0,340.0 C169.9,340.8 167.2,339.5 166.5,338.5 C165.8,337.5 166.9,334.8 167.0,334.0" fill="none" stroke="#111" stroke-width="0.8" />
<path d="M156.2,282.0 C156.5,281.7 157.6,280.1 158.3,280.2 C159.0,280.3 160.4,281.7 160.4,282.4 C160.4,283.1 159.0,284.5 158.3,284.4 C157.6,284.3 156.5,282.4 156.2,282.0" fill="none" stroke="#111" stroke-width="0.8" />
<path d="M222.0,296.0 C223.3,295.5 227.0,294.0 230.0,293.0 C233.0,292.0 236.7,290.3 240.0,290.0 C243.3,289.7 247.0,290.3 250.0,291.0 C253.0,291.7 256.7,293.5 258.0,294.0" fill="none" stroke="#111" stroke-width="0.8" />
<path d="M160.0,335.0 C161.7,335.8 167.0,338.3 170.0,340.0 C173.0,341.7 175.3,343.3 178.0,345.0 C180.7,346.7 184.7,349.2 186.0,350.0" fill="none" stroke="#111" stroke-width="0.8" />
<path d="M140.0,366.0 C141.7,365.7 145.8,364.3 150.0,364.0 C154.2,363.7 160.3,364.3 165.0,364.0 C169.7,363.7 174.5,363.3 178.0,362.0 C181.5,360.7 184.7,357.0 186.0,356.0" fill="none" stroke="#111" stroke-width="0.8" />
<path d="M211.5,227.6 L258.8,296.7" fill="none" stroke="#e02828" stroke-width="1.4" />
</g>
<text x="285.6" y="356.2" font-size="11.3" text-anchor="middle" font-weight="normal" fill="#d8d8d8" textLength="32.2" lengthAdjust="spacingAndGlyphs" >Japan</text>
<text x="241" y="377.2" font-size="8.5" text-anchor="middle" font-weight="normal" fill="#d8d8d8" textLength="19.9" lengthAdjust="spacingAndGlyphs" >2016</text>
<text x="279.5" y="377.2" font-size="8.5" text-anchor="middle" font-weight="normal" fill="#d8d8d8" >4</text>
<text x="309.8" y="377.2" font-size="8.5" text-anchor="middle" font-weight="normal" fill="#d8d8d8" textLength="8.7" lengthAdjust="spacingAndGlyphs" >20</text>
<clipPath id="cdd"><rect x="375.8" y="209.9" width="208.7" height="173.20000000000002"/></clipPath>
<g clip-path="url(#cdd)">
<g transform="scale(0.25)">
<rect x="1491" y="828" width="859" height="717" fill="#4a2a50"/>
<path d="M1496 828l5 0 5 0 5 0 5 0 5 0 5 0 5 0 5 0 5 0 5 0 5 0 5 0 5 0 5 0 5 0 5 0 5 0 5 0 5 0 5 0 5 0 5 0 5 0 5 0 5 0 5 0 5 0 5 0 5 0 5 0 5 0 5 0 5 0 5 0 5 0 5 0 5 0 5 0 5 0 5 0 5 0 5 0 5 0 5 0 5 0 5 0 5 0 5 0 5 0 5 0 5 0 5 0 5 0 5 0 5 0 5 0 5 0 5 0 5 0 5 0 5 0 5 0 5 0 5 0 5 0 5 0 5 0 5 0 5 0 5 0 5 0 5 0 5 0 5 0 5 0 5 0 5 0 5 0 5 0 5 0 5 0 5 0 5 0 5 0 5 0 5 0 5 0 5 0 5 0 5 0 5 0 5 0 5 0 5 0 5 0 5 0 5 0 5 0 5 0 5 0 5 0 5 0 5 0 5 0 5 0 5 0 5 0 5 0 5 0 5 0 5 0 5 0 5 0 5 0 5 0 5 0 5 0 5 0 5 0 5 0 5 0 5 0 5 0 5 0 5 0 5 0 5 0 5 0 5 0 5 0 5 0 5 0 5 0 5 0 5 0 5 0 5 0 5 0 5 0 5 0 5 0 5 0 5 0 5 0 5 0 5 0 5 0 5 0 5 0 5 0 5 0 5 0 5 0 5 0 5 0 5 0 5 0 5 0 5 0 5 0 5 0 5 0 5 0 5 0 5 0 5 0 5 0 5 0 5 0 5 0 0 5 0 5 0 5 0 5 0 5 0 5 0 5 0 5 0 5 0 5 0 5 0 5 0 5 0 5 0 5 0 5 0 5 0 5 0 5 0 5 0 5 0 5 0 5 0 5 0 5 0 5 0 5 0 5 0 5 0 5 0 5 0 5 0 5 0 5 0 5 0 5 0 5 0 5 0 5 0 5 0 5 0 5 0 5 0 5 0 5 0 5 0 5 0 5 0 5 0 5 0 5 0 5 0 5 0 5 0 5 0 5 0 5 0 5 0 5 0 5 0 5 0 5 0 5 0 5 0 5 0 5 0 5 0 5 0 5 0 5 0 5 0 5 0 5 0 5 0 5 0 5 0 5 0 5 0 5 0 5 0 5 0 5 0 5 0 5 0 5 0 5 0 5 0 5 0 5 0 5 0 5 0 5 0 5 0 5 0 5 0 5 0 5 0 5 0 5 0 5 0 5 0 5 0 5 0 5 0 5 0 5 0 5 0 5 0 5 0 5 0 5 0 5 0 5 0 5 0 5 0 5 0 5 0 5 0 5 0 5 0 5 0 5 0 5 0 5 0 5 0 5 0 5 0 5 0 5 0 5 0 5 0 5 0 5 0 5 0 5 0 5 0 5 0 5 0 5 0 5 0 5 0 5 0 5-5 0-5 0-5 0-5 0-5 0-5 0-5 0-5 0-5 0-5 0-5 0-5 0-5 0-5 0-5 0-5 0-5 0-5 0-5 0-5 0-5 0-5 0-5 0-5 0-5 0-5 0-5 0-5 0-5 0-5 0-5 0-5 0-5 0-5 0-5 0-5 0-5 0-5 0-5 0-5 0-5 0-5 0-5 0-5 0-5 0-5 0-5 0-5 0-5 0-5 0-5 0-5 0-5 0-5 0-5 0-5 0-5 0-5 0-5 0-5 0-5 0-5 0-5 0-5 0-5 0-5 0-5 0-5 0-5 0-5 0-5 0-5 0-5 0-5 0-5 0-5 0-5 0-5 0-5 0-5 0-5 0-5 0-5 0-5 0-5 0-5 0-5 0-5 0-5 0-5 0-5 0-5 0-5 0-5 0-5 0-5 0-5 0-5 0-5 0-5 0-5 0-5 0-5 0-5 0-5 0-5 0-5 0-5 0-5 0-5 0-5 0-5 0-5 0-5 0-5 0-5 0-5 0-5 0-5 0-5 0-5 0-5 0-5 0-5 0-5 0-5 0-5 0-5 0-5 0-5 0-5 0-5 0-5 0-5 0-5 0-5 0-5 0-5 0-5 0-5 0-5 0-5 0-5 0-5 0-5 0-5 0-5 0-5 0-5 0-5 0-5 0-5 0-5 0-5 0-5 0-5 0-5 0-5 0-5 0-5 0-5 0-5 0-5 0-5 0-5 0-5 0-5 0-5 0-5 0-5 0-5 0 0-5 0-5 0-5 0-5 0-5 0-5 0-5 0-5 0-5 0-5 0-5 0-5 0-5 0-5 0-5 0-5 0-5 0-5 0-5 0-5 0-5 0-5 0-5 0-5 0-5 0-5 0-5 0-5 0-5 0-5 0-5 0-5 0-5 0-5 0-5 0-5 0-5 0-5 0-5 0-5 0-5 0-5 0-5 0-5 0-5 0-5 0-5 0-5 0-5 0-5 0-5 0-5 0-5 0-5 0-5 0-5 0-5 0-5 0-5 0-5 0-5 0-5 0-5 0-5 0-5 0-5 0-5 0-5 0-5 0-5 0-5 0-5 0-5 0-5 0-5 0-5 0-5 0-5 0-5 0-5 0-5 0-5 0-5 0-5 0-5 0-5 0-5 0-5 0-5 0-5 0-5 0-5 0-5 0-5 0-5 0-5 0-5 0-5 0-5 0-5 0-5 0-5 0-5 0-5 0-5 0-5 0-5 0-5 0-5 0-5 0-5 0-5 0-5 0-5 0-5 0-5 0-5 0-5 0-5 0-5 0-5 0-5 0-5 0-5 0-5 0-5 0-5 0-5 0-5 0-5 0-5 0-5 0-5 0-5 0-5 0-5 0-5 0-5 0-5 0-5 0-5 0-5 0-5z" fill="#5a3078" fill-rule="evenodd" stroke="#111" stroke-width="3.4"/>
<path d="M1496 828l5 0 5 0 5 0 5 0 5 0 5 0 5 0 5 0 5 0 5 0 5 0 5 0 5 0 5 0 5 0 5 0 5 0 5 0 5 0 5 0 5 0 5 0 5 0 5 0 5 0 5 0 5 0 5 0 5 0 5 0 5 0 5 0 5 0 5 0 5 0 5 0 5 0 5 0 5 0 5 0 5 0 5 0 5 0 5 0 5 0 5 0 5 0 5 0 5 0 5 0 5 0 5 0 5 0 5 0 5 0 5 0 5 0 5 0 5 0 5 0 5 0 5 0 5 0 5 0 5 0 5 0 5 0 5 0 5 0 5 0 5 0 5 0 5 0 5 0 5 0 5 0 5 0 5 0 5 0 5 0 5 0 5 0 5 0 5 0 5 0 5 0 5 0 5 0 5 0 5 0 5 0 5 0 5 0 5 0 5 0 5 0 5 0 5 0 5 0 5 0 5 0 5 0 5 0 5 0 5 0 5 0 5 0 5 0 5 0 5 0 5 0 5 0 5 0 5 0 5 0 5 0 5 0 5 0 5 0 5 0 5 0 5 0 5 0 5 0 5 0 5 0 5 0 5 0 5 0 5 0 5 0 5 0 5 0 5 0 5 0 5 0 5 0 5 0 5 0 5 0 5 0 5 0 5 0 5 0 5 0 5 0 5 0 5 0 5 0 5 0 5 0 5 0 5 0 5 0 5 0 5 0 5 0 5 0 5 0 5 0 5 0 5 0 5 0 5 0 5 0 5 0 5 0 5 0 5 0 5 0 0 5 0 5 0 5 0 5 0 5 0 5 0 5 0 5 0 5 0 5 0 5 0 5 0 5 0 5 0 5 0 5 0 5 0 5 0 5 0 5 0 5 0 5 0 5 0 5 0 5 0 5 0 5 0 5 0 5 0 5 0 5 0 5 0 5 0 5 0 5 0 5 0 5 0 5 0 5 0 5 0 5 0 5 0 5 0 5 0 5 0 5 0 5 0 5 0 5 0 5 0 5 0 5 0 5 0 5 0 5 0 5 0 5 0 5 0 5 0 5 0 5 0 5 0 5 0 5 0 5 0 5 0 5 0 5 0 5 0 5 0 5 0 5 0 5 0 5 0 5 0 5 0 5 0 5 0 5 0 5 0 5 0 5 0 5 0 5 0 5 0 5 0 5 0 5 0 5 0 5 0 5 0 5 0 5 0 5 0 5 0 5 0 5 0 5 0 5 0 5 0 5 0 5 0 5 0 5 0 5 0 5 0 5 0 5 0 5 0 5 0 5 0 5 0 5 0 5 0 5 0 5 0 5 0 5 0 5 0 5 0 5 0 5 0 5 0 5 0 5 0 5 0 5 0 5 0 5 0 5 0 5 0 5 0 5 0 5 0 5 0 5 0 5 0 5 0 5 0 5 0 5 0 5 0 5-5 0-5 0-5 0-5 0-5 0-5 0-5 0-5 0-5 0-5 0-5 0-5 0-5 0-5 0-5 0-5 0-5 0-5 0-5 0-5 0-5 0-5 0-5 0-5 0-5 0-5 0-5 0-5 0-5 0-5 0-5 0-5 0-5 0-5 0-5 0-5 0-5 0-5 0-5 0-5 0-5 0-5 0-5 0-5 0-5 0-5 0-5 0-5 0-5 0-5 0-5 0-5 0-5 0-5 0-5 0-5 0-5 0-5 0-5 0-5 0-5 0-5 0-5 0-5 0-5 0-5 0-5 0-5 0-5 0-5 0-5 0-5 0-5 0-5 0-5 0-5 0-5 0-5 0-5 0-5 0-5 0-5 0-5 0-5 0-5 0-5 0-5 0-5 0-5 0-5 0-5 0-5 0-5 0-5 0-5 0-5 0-5 0-5 0-5 0-5 0-5 0-5 0-5 0-5 0-5 0-5 0-5 0-5 0-5 0-5 0-5 0-5 0-5 0-5 0-5 0-5 0-5 0-5 0-5 0-5 0-5 0-5 0-5 0-5 0-5 0-5 0-5 0-5 0-5 0-5 0-5 0-5 0-5 0-5 0-5 0-5 0-5 0-5 0-5 0-5 0-5 0-5 0-5 0-5 0-5 0-5 0-5 0-5 0-5 0-5 0-5 0-5 0-5 0-5 0-5 0-5 0-5 0-5 0-5 0-5 0-5 0-5 0-5 0-5 0-5 0-5 0-5 0-5 0-5 0-5 0-5 0 0-5 0-5 0-5 0-5 0-5 0-5 0-5 0-5 0-5 0-5 0-5 0-5 0-5 0-5 0-5 0-5 0-5 0-5 0-5 0-5 0-5 0-5 0-5 0-5 0-5 0-5 0-5 0-5 0-5 0-5 0-5 0-5 0-5 0-5 0-5 0-5 0-5 0-5 0-5 0-5 0-5 0-5 0-5 0-5 0-5 0-5 0-5 0-5 0-5 0-5 0-5 0-5 0-5 0-5 0-5 0-5 0-5 0-5 0-5 0-5 0-5 0-5 0-5 0-5 0-5 0-5 0-5 0-5 0-5 0-5 0-5 0-5 0-5 0-5 0-5 0-5 0-5 0-5 0-5 0-5 0-5 0-5 0-5 0-5 0-5 0-5 0-5 0-5 0-5 0-5 0-5 0-5 0-5 0-5 0-5 0-5 0-5 0-5 0-5 0-5 0-5 0-5 0-5 0-5 0-5 0-5 0-5 0-5 0-5 0-5 0-5 0-5 0-5 0-5 0-5 0-5 0-5 0-5 0-5 0-5 0-5 0-5 0-5 0-5 0-5 0-5 0-5 0-5 0-5 0-5 0-5 0-5 0-5 0-5 0-5 0-5 0-5 0-5 0-5 0-5 0-5 0-5 0-5z" fill="#6030a0" fill-rule="evenodd" stroke="#111" stroke-width="3.4"/>
<path d="M1496 828l5 0 5 0 5 0 5 0 5 0 5 0 5 0 5 0 5 0 5 0 5 0 5 0 5 0 5 0 5 0 5 0 5 0 5 0 5 0 5 0 5 0 5 0 5 0 5 0 5 0 5 0 5 0 5 0 5 0 5 0 5 0 5 0 5 0 5 0 5 0 5 0 5 0 5 0 5 0 5 0 5 0 5 0 5 0 5 0 5 0 5 0 5 0 5 0 5 0 5 0 5 0 5 0 5 0 5 0 5 0 5 0 5 0 5 0 5 0 5 0 5 0 5 0 5 0 5 0 5 0 5 0 5 0 5 0 5 0 5 0 5 0 5 0 5 0 5 0 5 0 5 0 5 0 5 0 5 0 5 0 5 0 5 0 5 0 5 0 5 0 5 0 5 0 5 0 5 0 5 0 5 0 5 0 5 0 5 0 5 0 5 0 5 0 5 0 5 0 5 0 5 0 5 0 5 0 5 0 5 0 5 0 5 0 5 0 5 0 5 0 5 0 5 0 5 0 5 0 5 0 5 0 5 0 5 0 5 0 5 0 5 0 5 0 5 0 5 0 5 0 5 0 5 0 5 0 5 0 5 0 5 0 5 0 5 0 5 0 5 0 5 0 5 0 5 0 5 0 5 0 5 0 5 0 5 0 5 0 5 0 5 0 5 0 5 0 5 0 5 0 5 0 5 0 5 0 5 0 5 0 5 0 5 0 5 0 5 0 5 0 5 0 5 0 5 0 5 0 5 0 5 0 5 0 5 0 5 0 5 0 0 5 0 5 0 5 0 5 0 5 0 5 0 5 0 5 0 5 0 5 0 5 0 5 0 5 0 5 0 5 0 5 0 5 0 5 0 5 0 5 0 5 0 5 0 5 0 5 0 5 0 5 0 5 0 5 0 5 0 5 0 5 0 5 0 5 0 5 0 5 0 5 0 5 0 5 0 5 0 5 0 5 0 5 0 5 0 5 0 5 0 5 0 5 0 5 0 5 0 5 0 5 0 5 0 5 0 5 0 5 0 5 0 5 0 5 0 5 0 5 0 5 0 5 0 5 0 5 0 5 0 5 0 5 0 5 0 5 0 5 0 5 0 5 0 5 0 5 0 5 0 5 0 5 0 5 0 5 0 5 0 5 0 5 0 5 0 5 0 5 0 5 0 5 0 5 0 5 0 5 0 5 0 5 0 5 0 5 0 5 0 5 0 5 0 5 0 5 0 5 0 5 0 5 0 5 0 5 0 5 0 5 0 5 0 5 0 5 0 5 0 5 0 5 0 5 0 5 0 5 0 5 0 5 0 5 0 5 0 5 0 5 0 5 0 5 0 5 0 5 0 5 0 5 0 5 0 5 0 5 0 5 0 5 0 5 0 5 0 5 0 5 0 5 0 5 0 5 0 5 0 5 0 5 0 5-5 0-5 0-5 0-5 0-5 0-5 0-5 0-5 0-5 0-5 0-5 0-5 0-5 0-5 0-5 0-5 0-5 0-5 0-5 0-5 0-5 0-5 0-5 0-5 0-5 0-5 0-5 0-5 0-5 0-5 0-5 0-5 0-5 0-5 0-5 0-5 0-5 0-5 0-5 0-5 0-5 0-5 0-5 0-5 0-5 0-5 0-5 0-5 0-5 0-5 0-5 0-5 0-5 0-5 0-5 0-5 0-5 0-5 0-5 0-5 0-5 0-5 0-5 0-5 0-5 0-5 0-5 0-5 0-5 0-5 0-5 0-5 0-5 0-5 0-5 0-5 0-5 0-5 0-5 0-5 0-5 0-5 0-5 0-5 0-5 0-5 0-5 0-5 0-5 0-5 0-5 0-5 0-5 0-5 0-5 0-5 0-5 0-5 0-5 0-5 0-5 0-5 0-5 0-5 0-5 0-5 0-5 0-5 0-5 0-5 0-5 0-5 0-5 0-5 0-5 0-5 0-5 0-5 0-5 0-5 0-5 0-5 0-5 0-5 0-5 0-5 0-5 0-5 0-5 0-5 0-5 0-5 0-5 0-5 0-5 0-5 0-5 0-5 0-5 0-5 0-5 0-5 0-5 0-5 0-5 0-5 0-5 0-5 0-5 0-5 0-5 0-5 0-5 0-5 0-5 0-5 0-5 0-5 0-5 0-5 0-5 0-5 0-5 0-5 0-5 0-5 0-5 0-5 0-5 0-5 0-5 0 0-5 0-5 0-5 0-5 0-5 0-5 0-5 0-5 0-5 0-5 0-5 0-5 0-5 0-5 0-5 0-5 0-5 0-5 0-5 0-5 0-5 0-5 0-5 0-5 0-5 0-5 0-5 0-5 0-5 0-5 0-5 0-5 0-5 0-5 0-5 0-5 0-5 0-5 0-5 0-5 0-5 0-5 0-5 0-5 0-5 0-5 0-5 0-5 0-5 0-5 0-5 0-5 0-5 0-5 0-5 0-5 0-5 0-5 0-5 0-5 0-5 0-5 0-5 0-5 0-5 0-5 0-5 0-5 0-5 0-5 0-5 0-5 0-5 0-5 0-5 0-5 0-5 0-5 0-5 0-5 0-5 0-5 0-5 0-5 0-5 0-5 0-5 0-5 0-5 0-5 0-5 0-5 0-5 0-5 0-5 0-5 0-5 0-5 0-5 0-5 0-5 0-5 0-5 0-5 0-5 0-5 0-5 0-5 0-5 0-5 0-5 0-5 0-5 0-5 0-5 0-5 0-5 0-5 0-5 0-5 0-5 0-5 0-5 0-5 0-5 0-5 0-5 0-5 0-5 0-5 0-5 0-5 0-5 0-5 0-5 0-5 0-5 0-5 0-5 0-5 0-5 0-5 0-5z" fill="#4a40a8" fill-rule="evenodd" stroke="#111" stroke-width="3.4"/>
<path d="M1496 828l5 0 5 0 5 0 5 0 5 0 5 0 5 0 5 0 5 0 5 0 5 0 5 0 5 0 5 0 5 0 5 0 5 0 5 0 5 0 5 0 5 0 5 0 5 0 5 0 5 0 5 0 5 0 5 0 5 0 5 0 5 0 5 0 5 0 5 0 5 0 5 0 5 0 5 0 5 0 5 0 5 0 5 0 5 0 5 0 5 0 5 0 5 0 5 0 5 0 5 0 5 0 5 0 5 0 5 0 5 0 5 0 5 0 5 0 5 0 5 0 5 0 5 0 5 0 5 0 5 0 5 0 5 0 5 0 5 0 5 0 5 0 5 0 5 0 5 0 5 0 5 0 5 0 5 0 5 0 5 0 5 0 5 0 5 0 5 0 5 0 5 0 5 0 5 0 5 0 5 0 5 0 5 0 5 0 5 0 5 0 5 0 5 0 5 0 5 0 5 0 5 0 5 0 5 0 5 0 5 0 5 0 5 0 5 0 5 0 5 0 5 0 5 0 5 0 5 0 5 0 5 0 5 0 5 0 5 0 5 0 5 0 5 0 5 0 5 0 5 0 5 0 5 0 5 0 5 0 5 0 5 0 5 0 5 0 5 0 5 0 5 0 5 0 5 0 5 0 5 0 5 0 5 0 5 0 5 0 5 0 5 0 5 0 5 0 5 0 5 0 5 0 5 0 5 0 5 0 5 0 5 0 5 0 5 0 5 0 5 0 5 0 5 0 5 0 5 0 5 0 5 0 5 0 5 0 5 0 5 0 0 5 0 5 0 5 0 5 0 5 0 5 0 5 0 5 0 5 0 5 0 5 0 5 0 5 0 5 0 5 0 5 0 5 0 5 0 5 0 5 0 5 0 5 0 5 0 5 0 5 0 5 0 5 0 5 0 5 0 5 0 5 0 5 0 5 0 5 0 5 0 5 0 5 0 5 0 5 0 5 0 5 0 5 0 5 0 5 0 5 0 5 0 5 0 5 0 5 0 5 0 5 0 5 0 5 0 5 0 5 0 5 0 5 0 5 0 5 0 5 0 5 0 5 0 5 0 5 0 5 0 5 0 5 0 5 0 5 0 5 0 5 0 5 0 5 0 5 0 5 0 5 0 5 0 5 0 5 0 5 0 5 0 5 0 5 0 5 0 5 0 5 0 5 0 5 0 5 0 5 0 5 0 5 0 5 0 5 0 5 0 5 0 5 0 5 0 5 0 5 0 5 0 5 0 5 0 5 0 5 0 5 0 5 0 5 0 5 0 5 0 5 0 5 0 5 0 5 0 5 0 5 0 5 0 5 0 5 0 5 0 5 0 5 0 5 0 5 0 5 0 5 0 5 0 5 0 5 0 5 0 5 0 5 0 5 0 5 0 5 0 5 0 5 0 5 0 5 0 5 0 5 0 5 0 5-5 0-5 0-5 0-5 0-5 0-5 0-5 0-5 0-5 0-5 0-5 0-5 0-5 0-5 0-5 0-5 0-5 0-5 0-5 0-5 0-5 0-5 0-5 0-5 0-5 0-5 0-5 0-5 0-5 0-5 0-5 0-5 0-5 0-5 0-5 0-5 0-5 0-5 0-5 0-5 0-5 0-5 0-5 0-5 0-5 0-5 0-5 0-5 0-5 0-5 0-5 0-5 0-5 0-5 0-5 0-5 0-5 0-5 0-5 0-5 0-5 0-5 0-5 0-5 0-5 0-5 0-5 0-5 0-5 0-5 0-5 0-5 0-5 0-5 0-5 0-5 0-5 0-5 0-5 0-5 0-5 0-5 0-5 0-5 0-5 0-5 0-5 0-5 0-5 0-5 0-5 0-5 0-5 0-5 0-5 0-5 0-5 0-5 0-5 0-5 0-5 0-5 0-5 0-5 0-5 0-5 0-5 0-5 0-5 0-5 0-5 0-5 0-5 0-5 0-5 0-5 0-5 0-5 0-5 0-5 0-5 0-5 0-5 0-5 0-5 0-5 0-5 0-5 0-5 0-5 0-5 0-5 0-5 0-5 0-5 0-5 0-5 0-5 0-5 0-5 0-5 0-5 0-5 0-5 0-5 0-5 0-5 0-5 0-5 0-5 0-5 0-5 0-5 0-5 0-5 0-5 0-5 0-5 0-5 0-5 0-5 0-5 0-5 0-5 0-5 0-5 0-5 0-5 0-5 0-5 0-5 0 0-5 0-5 0-5 0-5 0-5 0-5 0-5 0-5 0-5 0-5 0-5 0-5 0-5 0-5 0-5 0-5 0-5 0-5 0-5 0-5 0-5 0-5 0-5 0-5 0-5 0-5 0-5 0-5 0-5 0-5 0-5 0-5 0-5 0-5 0-5 0-5 0-5 0-5 0-5 0-5 0-5 0-5 0-5 0-5 0-5 0-5 0-5 0-5 0-5 0-5 0-5 0-5 0-5 0-5 0-5 0-5 0-5 0-5 0-5 0-5 0-5 0-5 0-5 0-5 0-5 0-5 0-5 0-5 0-5 0-5 0-5 0-5 0-5 0-5 0-5 0-5 0-5 0-5 0-5 0-5 0-5 0-5 0-5 0-5 0-5 0-5 0-5 0-5 0-5 0-5 0-5 0-5 0-5 0-5 0-5 0-5 0-5 0-5 0-5 0-5 0-5 0-5 0-5 0-5 0-5 0-5 0-5 0-5 0-5 0-5 0-5 0-5 0-5 0-5 0-5 0-5 0-5 0-5 0-5 0-5 0-5 0-5 0-5 0-5 0-5 0-5 0-5 0-5 0-5 0-5 0-5 0-5 0-5 0-5 0-5 0-5 0-5 0-5 0-5 0-5 0-5 0-5 0-5z" fill="#3848a8" fill-rule="evenodd" stroke="#111" stroke-width="3.4"/>
<path d="M1496 828l5 0 5 0 5 0 5 0 5 0 5 0 5 0 5 0 5 0 5 0 5 0 5 0 5 0 5 0 5 0 5 0 5 0 5 0 5 0 5 0 5 0 5 0 5 0 5 0 5 0 5 0 5 0 5 0 5 0 5 0 5 0 5 0 5 0 5 0 5 0 5 0 5 0 5 0 5 0 5 0 5 0 5 0 5 0 5 0 5 0 5 0 5 0 5 0 5 0 5 0 5 0 5 0 5 0 5 0 5 0 5 0 5 0 5 0 5 0 5 0 5 0 5 0 5 0 5 0 5 0 5 0 5 0 5 0 5 0 5 0 5 0 5 0 5 0 5 0 5 0 5 0 5 0 5 0 5 0 5 0 5 0 5 0 5 0 5 0 5 0 5 0 5 0 5 0 5 0 5 0 5 0 5 0 5 0 5 0 5 0 5 0 5 0 5 0 5 0 5 0 5 0 5 0 5 0 5 0 5 0 5 0 5 0 5 0 5 0 5 0 5 0 5 0 5 0 5 0 5 0 5 0 5 0 5 0 5 0 5 0 5 0 5 0 5 0 5 0 5 0 5 0 5 0 5 0 5 0 5 0 5 0 5 0 5 0 5 0 5 0 5 0 5 0 5 0 5 0 5 0 5 0 5 0 5 0 5 0 5 0 5 0 5 0 5 0 5 0 5 0 5 0 5 0 5 0 5 0 5 0 5 0 5 0 5 0 5 0 5 0 5 0 5 0 5 0 5 0 5 0 5 0 5 0 5 0 5 0 5 0 0 5 0 5 0 5 0 5 0 5 0 5 0 5 0 5 0 5 0 5 0 5 0 5 0 5 0 5 0 5 0 5 0 5 0 5 0 5 0 5 0 5 0 5 0 5 0 5 0 5 0 5 0 5 0 5 0 5 0 5 0 5 0 5 0 5 0 5 0 5 0 5 0 5 0 5 0 5 0 5 0 5 0 5 0 5 0 5 0 5 0 5 0 5 0 5 0 5 0 5 0 5 0 5 0 5 0 5 0 5 0 5 0 5 0 5 0 5 0 5 0 5 0 5 0 5 0 5 0 5 0 5 0 5 0 5 0 5 0 5 0 5 0 5 0 5 0 5 0 5 0 5 0 5 0 5 0 5 0 5 0 5 0 5 0 5 0 5 0 5 0 5 0 5 0 5 0 5 0 5 0 5 0 5 0 5 0 5 0 5 0 5 0 5 0 5 0 5 0 5 0 5 0 5 0 5 0 5 0 5 0 5 0 5 0 5 0 5 0 5 0 5 0 5 0 5 0 5 0 5 0 5 0 5 0 5 0 5 0 5 0 5 0 5 0 5 0 5 0 5 0 5 0 5 0 5 0 5 0 5 0 5 0 5 0 5 0 5 0 5 0 5 0 5 0 5 0 5 0 5 0 5 0 5 0 5-5 0-5 0-5 0-5 0-5 0-5 0-5 0-5 0-5 0-5 0-5 0-5 0-5 0-5 0-5 0-5 0-5 0-5 0-5 0-5 0-5 0-5 0-5 0-5 0-5 0-5 0-5 0-5 0-5 0-5 0-5 0-5 0-5 0-5 0-5 0-5 0-5 0-5 0-5 0-5 0-5 0-5 0-5 0-5 0-5 0-5 0-5 0-5 0-5 0-5 0-5 0-5 0-5 0-5 0-5 0-5 0-5 0-5 0-5 0-5 0-5 0-5 0-5 0-5 0-5 0-5 0-5 0-5 0-5 0-5 0-5 0-5 0-5 0-5 0-5 0-5 0-5 0-5 0-5 0-5 0-5 0-5 0-5 0-5 0-5 0-5 0-5 0-5 0-5 0-5 0-5 0-5 0-5 0-5 0-5 0-5 0-5 0-5 0-5 0-5 0-5 0-5 0-5 0-5 0-5 0-5 0-5 0-5 0-5 0-5 0-5 0-5 0-5 0-5 0-5 0-5 0-5 0-5 0-5 0-5 0-5 0-5 0-5 0-5 0-5 0-5 0-5 0-5 0-5 0-5 0-5 0-5 0-5 0-5 0-5 0-5 0-5 0-5 0-5 0-5 0-5 0-5 0-5 0-5 0-5 0-5 0-5 0-5 0-5 0-5 0-5 0-5 0-5 0-5 0-5 0-5 0-5 0-5 0-5 0-5 0-5 0-5 0-5 0-5 0-5 0-5 0-5 0-5 0-5 0-5 0-5 0 0-5 0-5 0-5 0-5 0-5 0-5 0-5 0-5 0-5 0-5 0-5 0-5 0-5 0-5 0-5 0-5 0-5 0-5 0-5 0-5 0-5 0-5 0-5 0-5 0-5 0-5 0-5 0-5 0-5 0-5 0-5 0-5 0-5 0-5 0-5 0-5 0-5 0-5 0-5 0-5 0-5 0-5 0-5 0-5 0-5 0-5 0-5 0-5 0-5 0-5 0-5 0-5 0-5 0-5 0-5 0-5 0-5 0-5 0-5 0-5 0-5 0-5 0-5 0-5 0-5 0-5 0-5 0-5 0-5 0-5 0-5 0-5 0-5 0-5 0-5 0-5 0-5 0-5 0-5 0-5 0-5 0-5 0-5 0-5 0-5 0-5 0-5 0-5 0-5 0-5 0-5 0-5 0-5 0-5 0-5 0-5 0-5 0-5 0-5 0-5 0-5 0-5 0-5 0-5 0-5 0-5 0-5 0-5 0-5 0-5 0-5 0-5 0-5 0-5 0-5 0-5 0-5 0-5 0-5 0-5 0-5 0-5 0-5 0-5 0-5 0-5 0-5 0-5 0-5 0-5 0-5 0-5 0-5 0-5 0-5 0-5 0-5 0-5 0-5 0-5 0-5 0-5 0-5z" fill="#2a50a8" fill-rule="evenodd" stroke="#111" stroke-width="3.4"/>
<path d="M1496 828l5 0 5 0 5 0 5 0 5 0 5 0 5 0 5 0 5 0 5 0 5 0 5 0 5 0 5 0 5 0 5 0 5 0 5 0 5 0 5 0 5 0 5 0 5 0 5 0 5 0 5 0 5 0 5 0 5 0 5 0 5 0 5 0 5 0 5 0 5 0 5 0 5 0 5 0 5 0 5 0 5 0 5 0 5 0 5 0 5 0 5 0 5 0 5 0 5 0 5 0 5 0 5 0 5 0 5 0 5 0 5 0 5 0 5 0 5 0 5 0 5 0 5 0 5 0 5 0 5 0 5 0 5 0 5 0 5 0 5 0 5 0 5 0 5 0 5 0 5 0 5 0 5 0 5 0 5 0 5 0 5 0 5 0 5 0 5 0 5 0 5 0 5 0 5 0 5 0 5 0 5 0 5 0 5 0 5 0 5 0 5 0 5 0 5 0 5 0 5 0 5 0 5 0 5 0 5 0 5 0 5 0 5 0 5 0 5 0 5 0 5 0 5 0 5 0 5 0 5 0 5 0 5 0 5 0 5 0 5 0 5 0 5 0 5 0 5 0 5 0 5 0 5 0 5 0 5 0 5 0 5 0 5 0 5 0 5 0 5 0 5 0 5 0 5 0 5 0 5 0 5 0 5 0 5 0 5 0 5 0 5 0 5 0 5 0 5 0 5 0 5 0 5 0 5 0 5 0 5 0 5 0 5 0 5 0 5 0 5 0 5 0 5 0 5 0 5 0 5 0 5 0 5 0 5 0 5 0 5 0 0 5 0 5 0 5 0 5 0 5 0 5 0 5 0 5 0 5 0 5 0 5 0 5 0 5 0 5 0 5 0 5 0 5 0 5 0 5 0 5 0 5 0 5 0 5 0 5 0 5 0 5 0 5 0 5 0 5 0 5 0 5 0 5 0 5 0 5 0 5 0 5 0 5 0 5 0 5 0 5 0 5 0 5 0 5 0 5 0 5 0 5 0 5 0 5 0 5 0 5 0 5 0 5 0 5 0 5 0 5 0 5 0 5 0 5 0 5 0 5 0 5 0 5 0 5 0 5 0 5 0 5 0 5 0 5 0 5 0 5 0 5 0 5 0 5 0 5 0 5 0 5 0 5 0 5 0 5 0 5 0 5 0 5 0 5 0 5 0 5 0 5 0 5 0 5 0 5 0 5 0 5 0 5 0 5 0 5 0 5 0 5 0 5 0 5 0 5 0 5 0 5 0 5 0 5 0 5 0 5 0 5 0 5 0 5 0 5 0 5 0 5 0 5 0 5 0 5 0 5 0 5 0 5 0 5 0 5 0 5 0 5 0 5 0 5 0 5 0 5 0 5 0 5 0 5 0 5 0 5 0 5 0 5 0 5 0 5 0 5 0 5 0 5 0 5 0 5 0 5 0 5 0 5 0 5-5 0-5 0-5 0-5 0-5 0-5 0-5 0-5 0-5 0-5 0-5 0-5 0-5 0-5 0-5 0-5 0-5 0-5 0-5 0-5 0-5 0-5 0-5 0-5 0-5 0-5 0-5 0-5 0-5 0-5 0-5 0-5 0-5 0-5 0-5 0-5 0-5 0-5 0-5 0-5 0-5 0-5 0-5 0-5 0-5 0-5 0-5 0-5 0-5 0-5 0-5 0-5 0-5 0-5 0-5 0-5 0-5 0-5 0-5 0-5 0-5 0-5 0-5 0-5 0-5 0-5 0-5 0-5 0-5 0-5 0-5 0-5 0-5 0-5 0-5 0-5 0-5 0-5 0-5 0-5 0-5 0-5 0-5 0-5 0-5 0-5 0-5 0-5 0-5 0-5 0-5 0-5 0-5 0-5 0-5 0-5 0-5 0-5 0-5 0-5 0-5 0-5 0-5 0-5 0-5 0-5 0-5 0-5 0-5 0-5 0-5 0-5 0-5 0-5 0-5 0-5 0-5 0-5 0-5 0-5 0-5 0-5 0-5 0-5 0-5 0-5 0-5 0-5 0-5 0-5 0-5 0-5 0-5 0-5 0-5 0-5 0-5 0-5 0-5 0-5 0-5 0-5 0-5 0-5 0-5 0-5 0-5 0-5 0-5 0-5 0-5 0-5 0-5 0-5 0-5 0-5 0-5 0-5 0-5 0-5 0-5 0-5 0-5 0-5 0-5 0-5 0-5 0-5 0-5 0-5 0-5 0 0-5 0-5 0-5 0-5 0-5 0-5 0-5 0-5 0-5 0-5 0-5 0-5 0-5 0-5 0-5 0-5 0-5 0-5 0-5 0-5 0-5 0-5 0-5 0-5 0-5 0-5 0-5 0-5 0-5 0-5 0-5 0-5 0-5 0-5 0-5 0-5 0-5 0-5 0-5 0-5 0-5 0-5 0-5 0-5 0-5 0-5 0-5 0-5 0-5 0-5 0-5 0-5 0-5 0-5 0-5 0-5 0-5 0-5 0-5 0-5 0-5 0-5 0-5 0-5 0-5 0-5 0-5 0-5 0-5 0-5 0-5 0-5 0-5 0-5 0-5 0-5 0-5 0-5 0-5 0-5 0-5 0-5 0-5 0-5 0-5 0-5 0-5 0-5 0-5 0-5 0-5 0-5 0-5 0-5 0-5 0-5 0-5 0-5 0-5 0-5 0-5 0-5 0-5 0-5 0-5 0-5 0-5 0-5 0-5 0-5 0-5 0-5 0-5 0-5 0-5 0-5 0-5 0-5 0-5 0-5 0-5 0-5 0-5 0-5 0-5 0-5 0-5 0-5 0-5 0-5 0-5 0-5 0-5 0-5 0-5 0-5 0-5 0-5 0-5 0-5 0-5 0-5 0-5z" fill="#2a56b0" fill-rule="evenodd" stroke="#111" stroke-width="3.4"/>
<path d="M1496 828l5 0 5 0 5 0 5 0 5 0 5 0 5 0 5 0 5 0 5 0 5 0 5 0 5 0 5 0 5 0 5 0 5 0 5 0 5 0 5 0 5 0 5 0 5 0 5 0 5 0 5 0 5 0 5 0 5 0 5 0 5 0 5 0 5 0 5 0 5 0 5 0 5 0 5 0 5 0 5 0 5 0 5 0 5 0 5 0 5 0 5 0 5 0 5 0 5 0 5 0 5 0 5 0 5 0 5 0 5 0 5 0 5 0 5 0 5 0 5 0 5 0 5 0 5 0 5 0 5 0 5 0 5 0 5 0 5 0 5 0 5 0 5 0 5 0 5 0 5 0 5 0 5 0 5 0 5 0 5 0 5 0 5 0 5 0 5 0 5 0 5 0 5 0 5 0 5 0 5 0 5 0 5 0 5 0 5 0 5 0 5 0 5 0 5 0 5 0 5 0 5 0 5 0 5 0 5 0 5 0 5 0 5 0 5 0 5 0 5 0 5 0 5 0 5 0 5 0 5 0 5 0 5 0 5 0 5 0 5 0 5 0 5 0 5 0 5 0 5 0 5 0 5 0 5 0 5 0 5 0 5 0 5 0 5 0 5 0 5 0 5 0 5 0 5 0 5 0 5 0 5 0 5 0 5 0 5 0 5 0 5 0 5 0 5 0 5 0 5 0 5 0 5 0 5 0 5 0 5 0 5 0 5 0 5 0 5 0 5 0 5 0 5 0 5 0 5 0 5 0 5 0 5 0 5 0 5 0 5 0 0 5 0 5 0 5 0 5 0 5 0 5 0 5 0 5 0 5 0 5 0 5 0 5 0 5 0 5 0 5 0 5 0 5 0 5 0 5 0 5 0 5 0 5 0 5 0 5 0 5 0 5 0 5 0 5 0 5 0 5 0 5 0 5 0 5 0 5 0 5 0 5 0 5 0 5 0 5 0 5 0 5 0 5 0 5 0 5 0 5 0 5 0 5 0 5 0 5 0 5 0 5 0 5 0 5 0 5 0 5 0 5 0 5 0 5 0 5 0 5 0 5 0 5 0 5 0 5 0 5 0 5 0 5 0 5 0 5 0 5 0 5 0 5 0 5 0 5 0 5 0 5 0 5 0 5 0 5 0 5 0 5 0 5 0 5 0 5 0 5 0 5 0 5 0 5 0 5 0 5 0 5 0 5 0 5 0 5 0 5 0 5 0 5 0 5 0 5 0 5 0 5 0 5 0 5 0 5 0 5 0 5 0 5 0 5 0 5 0 5 0 5 0 5 0 5 0 5 0 5 0 5 0 5 0 5 0 5 0 5 0 5 0 5 0 5 0 5 0 5 0 5 0 5 0 5 0 5 0 5 0 5 0 5 0 5 0 5 0 5 0 5 0 5 0 5 0 5 0 5 0 5 0 5 0 5-5 0-5 0-5 0-5 0-5 0-5 0-5 0-5 0-5 0-5 0-5 0-5 0-5 0-5 0-5 0-5 0-5 0-5 0-5 0-5 0-5 0-5 0-5 0-5 0-5 0-5 0-5 0-5 0-5 0-5 0-5 0-5 0-5 0-5 0-5 0-5 0-5 0-5 0-5 0-5 0-5 0-5 0-5 0-5 0-5 0-5 0-5 0-5 0-5 0-5 0-5 0-5 0-5 0-5 0-5 0-5 0-5 0-5 0-5 0-5 0-5 0-5 0-5 0-5 0-5 0-5 0-5 0-5 0-5 0-5 0-5 0-5 0-5 0-5 0-5 0-5 0-5 0-5 0-5 0-5 0-5 0-5 0-5 0-5 0-5 0-5 0-5 0-5 0-5 0-5 0-5 0-5 0-5 0-5 0-5 0-5 0-5 0-5 0-5 0-5 0-5 0-5 0-5 0-5 0-5 0-5 0-5 0-5 0-5 0-5 0-5 0-5 0-5 0-5 0-5 0-5 0-5 0-5 0-5 0-5 0-5 0-5 0-5 0-5 0-5 0-5 0-5 0-5 0-5 0-5 0-5 0-5 0-5 0-5 0-5 0-5 0-5 0-5 0-5 0-5 0-5 0-5 0-5 0-5 0-5 0-5 0-5 0-5 0-5 0-5 0-5 0-5 0-5 0-5 0-5 0-5 0-5 0-5 0-5 0-5 0-5 0-5 0-5 0-5 0-5 0-5 0-5 0-5 0-5 0-5 0-5 0 0-5 0-5 0-5 0-5 0-5 0-5 0-5 0-5 0-5 0-5 0-5 0-5 0-5 0-5 0-5 0-5 0-5 0-5 0-5 0-5 0-5 0-5 0-5 0-5 0-5 0-5 0-5 0-5 0-5 0-5 0-5 0-5 0-5 0-5 0-5 0-5 0-5 0-5 0-5 0-5 0-5 0-5 0-5 0-5 0-5 0-5 0-5 0-5 0-5 0-5 0-5 0-5 0-5 0-5 0-5 0-5 0-5 0-5 0-5 0-5 0-5 0-5 0-5 0-5 0-5 0-5 0-5 0-5 0-5 0-5 0-5 0-5 0-5 0-5 0-5 0-5 0-5 0-5 0-5 0-5 0-5 0-5 0-5 0-5 0-5 0-5 0-5 0-5 0-5 0-5 0-5 0-5 0-5 0-5 0-5 0-5 0-5 0-5 0-5 0-5 0-5 0-5 0-5 0-5 0-5 0-5 0-5 0-5 0-5 0-5 0-5 0-5 0-5 0-5 0-5 0-5 0-5 0-5 0-5 0-5 0-5 0-5 0-5 0-5 0-5 0-5 0-5 0-5 0-5 0-5 0-5 0-5 0-5 0-5 0-5 0-5 0-5 0-5 0-5 0-5 0-5 0-5 0-5z" fill="#3062b4" fill-rule="evenodd" stroke="#111" stroke-width="3.4"/>
<path d="M1496 828l5 0 5 0 5 0 5 0 5 0 5 0 5 0 5 0 5 0 5 0 5 0 5 0 5 0 5 0 5 0 5 0 5 0 5 0 5 0 5 0 5 0 5 0 5 0 5 0 5 0 5 0 5 0 5 0 5 0 5 0 5 0 5 0 5 0 5 0 5 0 5 0 5 0 5 0 5 0 5 0 5 0 5 0 5 0 5 0 5 0 5 0 5 0 5 0 5 0 5 0 5 0 5 0 5 0 5 0 5 0 5 0 5 0 5 0 5 0 5 0 5 0 5 0 5 0 5 0 5 0 5 0 5 0 5 0 5 0 5 0 5 0 5 0 5 0 5 0 5 0 5 0 5 0 5 0 5 0 5 0 5 0 5 0 5 0 5 0 5 0 5 0 5 0 5 0 5 0 5 0 5 0 5 0 5 0 5 0 5 0 5 0 5 0 5 0 5 0 5 0 5 0 5 0 5 0 5 0 5 0 5 0 5 0 5 0 5 0 5 0 5 0 5 0 5 0 5 0 5 0 5 0 5 0 5 0 5 0 5 0 5 0 5 0 5 0 5 0 5 0 5 0 5 0 5 0 5 0 5 0 5 0 5 0 5 0 5 0 5 0 5 0 5 0 5 0 5 0 5 0 5 0 5 0 5 0 5 0 5 0 5 0 5 0 5 0 5 0 5 0 5 0 5 0 5 0 5 0 5 0 5 0 5 0 5 0 5 0 5 0 5 0 5 0 5 0 5 0 5 0 5 0 5 0 5 0 5 0 5 0 0 5 0 5 0 5 0 5 0 5 0 5 0 5 0 5 0 5 0 5 0 5 0 5 0 5 0 5 0 5 0 5 0 5 0 5 0 5 0 5 0 5 0 5 0 5 0 5 0 5 0 5 0 5 0 5 0 5 0 5 0 5 0 5 0 5 0 5 0 5 0 5 0 5 0 5 0 5 0 5 0 5 0 5 0 5 0 5 0 5 0 5 0 5 0 5 0 5 0 5 0 5 0 5 0 5 0 5 0 5 0 5 0 5 0 5 0 5 0 5 0 5 0 5 0 5 0 5 0 5 0 5 0 5 0 5 0 5 0 5 0 5 0 5 0 5 0 5 0 5 0 5 0 5 0 5 0 5 0 5 0 5 0 5 0 5 0 5 0 5 0 5 0 5 0 5 0 5 0 5 0 5 0 5 0 5 0 5 0 5 0 5 0 5 0 5 0 5 0 5 0 5 0 5 0 5 0 5 0 5 0 5 0 5 0 5 0 5 0 5 0 5 0 5 0 5 0 5 0 5 0 5 0 5 0 5 0 5 0 5 0 5 0 5 0 5 0 5 0 5 0 5 0 5 0 5 0 5 0 5 0 5 0 5 0 5 0 5 0 5 0 5 0 5 0 5 0 5 0 5 0 5 0 5 0 5-5 0-5 0-5 0-5 0-5 0-5 0-5 0-5 0-5 0-5 0-5 0-5 0-5 0-5 0-5 0-5 0-5 0-5 0-5 0-5 0-5 0-5 0-5 0-5 0-5 0-5 0-5 0-5 0-5 0-5 0-5 0-5 0-5 0-5 0-5 0-5 0-5 0-5 0-5 0-5 0-5 0-5 0-5 0-5 0-5 0-5 0-5 0-5 0-5 0-5 0-5 0-5 0-5 0-5 0-5 0-5 0-5 0-5 0-5 0-5 0-5 0-5 0-5 0-5 0-5 0-5 0-5 0-5 0-5 0-5 0-5 0-5 0-5 0-5 0-5 0-5 0-5 0-5 0-5 0-5 0-5 0-5 0-5 0-5 0-5 0-5 0-5 0-5 0-5 0-5 0-5 0-5 0-5 0-5 0-5 0-5 0-5 0-5 0-5 0-5 0-5 0-5 0-5 0-5 0-5 0-5 0-5 0-5 0-5 0-5 0-5 0-5 0-5 0-5 0-5 0-5 0-5 0-5 0-5 0-5 0-5 0-5 0-5 0-5 0-5 0-5 0-5 0-5 0-5 0-5 0-5 0-5 0-5 0-5 0-5 0-5 0-5 0-5 0-5 0-5 0-5 0-5 0-5 0-5 0-5 0-5 0-5 0-5 0-5 0-5 0-5 0-5 0-5 0-5 0-5 0-5 0-5 0-5 0-5 0-5 0-5 0-5 0-5 0-5 0-5 0-5 0-5 0-5 0-5 0-5 0-5 0 0-5 0-5 0-5 0-5 0-5 0-5 0-5 0-5 0-5 0-5 0-5 0-5 0-5 0-5 0-5 0-5 0-5 0-5 0-5 0-5 0-5 0-5 0-5 0-5 0-5 0-5 0-5 0-5 0-5 0-5 0-5 0-5 0-5 0-5 0-5 0-5 0-5 0-5 0-5 0-5 0-5 0-5 0-5 0-5 0-5 0-5 0-5 0-5 0-5 0-5 0-5 0-5 0-5 0-5 0-5 0-5 0-5 0-5 0-5 0-5 0-5 0-5 0-5 0-5 0-5 0-5 0-5 0-5 0-5 0-5 0-5 0-5 0-5 0-5 0-5 0-5 0-5 0-5 0-5 0-5 0-5 0-5 0-5 0-5 0-5 0-5 0-5 0-5 0-5 0-5 0-5 0-5 0-5 0-5 0-5 0-5 0-5 0-5 0-5 0-5 0-5 0-5 0-5 0-5 0-5 0-5 0-5 0-5 0-5 0-5 0-5 0-5 0-5 0-5 0-5 0-5 0-5 0-5 0-5 0-5 0-5 0-5 0-5 0-5 0-5 0-5 0-5 0-5 0-5 0-5 0-5 0-5 0-5 0-5 0-5 0-5 0-5 0-5 0-5 0-5 0-5 0-5 0-5zM1619 938l-3 3-1 2-3 5-1 1-2 4-2 5-1 1-1 4-1 5 2 5 5 3 5 2 5 1 5 1 5 1 3 2 2 0 5 2 4 3 1 0 5 1 5 4 5 2 5 2 1 1 4 2 5 2 2 1 3 1 5 1 5 0 4-2-2-5-2-2-5-3-5-4-2-1-3-2-4-3-1-1-5-4-1 0-4-4-2-1-3-4-1-1-3-5-1-1-2-4-2-5-1-1-2-4-1-5-2-4-1-1-4-3-5-1-5 1-5 1z" fill="#3478c0" fill-rule="evenodd" stroke="#111" stroke-width="3.4"/>
<path d="M1496 828l5 0 5 0 5 0 5 0 5 0 5 0 5 0 5 0 5 0 5 0 5 0 5 0 5 0 5 0 5 0 5 0 5 0 5 0 5 0 5 0 5 0 5 0 5 0 5 0 5 0 5 0 5 0 5 0 5 0 5 0 5 0 5 0 5 0 5 0 5 0 5 0 5 0 5 0 5 0 5 0 5 0 5 0 5 0 5 0 5 0 5 0 5 0 5 0 5 0 5 0 5 0 5 0 5 0 5 0 5 0 5 0 5 0 5 0 5 0 5 0 5 0 5 0 5 0 5 0 5 0 5 0 5 0 5 0 5 0 5 0 5 0 5 0 5 0 5 0 5 0 5 0 5 0 5 0 5 0 5 0 5 0 5 0 5 0 5 0 5 0 5 0 5 0 5 0 5 0 5 0 5 0 5 0 5 0 5 0 5 0 5 0 5 0 5 0 5 0 5 0 5 0 5 0 5 0 5 0 5 0 5 0 5 0 5 0 5 0 5 0 5 0 5 0 5 0 5 0 5 0 5 0 5 0 5 0 5 0 5 0 5 0 5 0 5 0 5 0 5 0 5 0 5 0 5 0 5 0 5 0 5 0 5 0 5 0 5 0 5 0 5 0 5 0 5 0 5 0 5 0 5 0 5 0 5 0 5 0 5 0 5 0 5 0 5 0 5 0 5 0 5 0 5 0 5 0 5 0 5 0 5 0 5 0 5 0 5 0 5 0 5 0 5 0 5 0 5 0 5 0 5 0 5 0 5 0 5 0 5 0 0 5 0 5 0 5 0 5 0 5 0 5 0 5 0 5 0 5 0 5 0 5 0 5 0 5 0 5 0 5 0 5 0 5 0 5 0 5 0 5 0 5 0 5 0 5 0 5 0 5 0 5 0 5 0 5 0 5 0 5 0 5 0 5 0 5 0 5 0 5 0 5 0 5 0 5 0 5 0 5 0 5 0 5 0 5 0 5 0 5 0 5 0 5 0 5 0 5 0 5 0 5 0 5 0 5 0 5 0 5 0 5 0 5 0 5 0 5 0 5 0 5 0 5 0 5 0 5 0 5 0 5 0 5 0 5 0 5 0 5 0 5 0 5 0 5 0 5 0 5 0 5 0 5 0 5 0 5 0 5 0 5 0 5 0 5 0 5 0 5 0 5 0 5 0 5 0 5 0 5 0 5 0 5 0 5 0 5 0 5 0 5 0 5 0 5 0 5 0 5 0 5 0 5 0 5 0 5 0 5 0 5 0 5 0 5 0 5 0 5 0 5 0 5 0 5 0 5 0 5 0 5 0 5 0 5 0 5 0 5 0 5 0 5 0 5 0 5 0 5 0 5 0 5 0 5 0 5 0 5 0 5 0 5 0 5 0 5 0 5 0 5 0 5 0 5 0 5 0 5 0 5 0 5 0 5-5 0-5 0-5 0-5 0-5 0-5 0-5 0-5 0-5 0-5 0-5 0-5 0-5 0-5 0-5 0-5 0-5 0-5 0-5 0-5 0-5 0-5 0-5 0-5 0-5 0-5 0-5 0-5 0-5 0-5 0-5 0-5 0-5 0-5 0-5 0-5 0-5 0-5 0-5 0-5 0-5 0-5 0-5 0-5 0-5 0-5 0-5 0-5 0-5 0-5 0-5 0-5 0-5 0-5 0-5 0-5 0-5 0-5 0-5 0-5 0-5 0-5 0-5 0-5 0-5 0-5 0-5 0-5 0-5 0-5 0-5 0-5 0-5 0-5 0-5 0-5 0-5 0-5 0-5 0-5 0-5 0-5 0-5 0-5 0-5 0-5 0-5 0-5 0-5 0-5 0-5 0-5 0-5 0-5 0-5 0-5 0-5 0-5 0-5 0-5 0-5 0-5 0-5 0-5 0-5 0-5 0-5 0-5 0-5 0-5 0-5 0-5 0-5 0-5 0-5 0-5 0-5 0-5 0-5 0-5 0-5 0-5 0-5 0-5 0-5 0-5 0-5 0-5 0-5 0-5 0-5 0-5 0-5 0-5 0-5 0-5 0-5 0-5 0-5 0-5 0-5 0-5 0-5 0-5 0-5 0-5 0-5 0-5 0-5 0-5 0-5 0-5 0-5 0-5 0-5 0-5 0-5 0-5 0-5 0-5 0-5 0-5 0-5 0-5 0-5 0-5 0-5 0-5 0-5 0-5 0-5 0 0-5 0-5 0-5 0-5 0-5 0-5 0-5 0-5 0-5 0-5 0-5 0-5 0-5 0-5 0-5 0-5 0-5 0-5 0-5 0-5 0-5 0-5 0-5 0-5 0-5 0-5 0-5 0-5 0-5 0-5 0-5 0-5 0-5 0-5 0-5 0-5 0-5 0-5 0-5 0-5 0-5 0-5 0-5 0-5 0-5 0-5 0-5 0-5 0-5 0-5 0-5 0-5 0-5 0-5 0-5 0-5 0-5 0-5 0-5 0-5 0-5 0-5 0-5 0-5 0-5 0-5 0-5 0-5 0-5 0-5 0-5 0-5 0-5 0-5 0-5 0-5 0-5 0-5 0-5 0-5 0-5 0-5 0-5 0-5 0-5 0-5 0-5 0-5 0-5 0-5 0-5 0-5 0-5 0-5 0-5 0-5 0-5 0-5 0-5 0-5 0-5 0-5 0-5 0-5 0-5 0-5 0-5 0-5 0-5 0-5 0-5 0-5 0-5 0-5 0-5 0-5 0-5 0-5 0-5 0-5 0-5 0-5 0-5 0-5 0-5 0-5 0-5 0-5 0-5 0-5 0-5 0-5 0-5 0-5 0-5 0-5 0-5 0-5 0-5 0-5 0-5 0-5 0-5zM1789 863l-3 1-5 3-1 1-4 1-5 1-5 1-5 0-5 1-5 0-2 1-3 0-5 1-5 1-5 1-5 0-5 1-5 1-5 0-5 1-5 1-5 1-5 1-3 1-2 0-5 1-5 0-3 4 3 4 1 1 4 1 5 2 5 1 5 1 5 0 5 1 5 1 5 0 5 1 5 0 5 1 5 1 5 0 5 1 5 2 5 1 1 1 4 1 5 1 5 2 3 1 2 0 5 1 5 1 5 0 5 1 5 0 5 1 5 0 2 1 3 0 5 1 5 1 5 1 4 2 1 0 5 1 5 2 5 1 1 1 4 1 5 1 5 2 3 1 2 0 5 2 5 1 5 2 1 0 4 1 5 1 5 2 2 1 3 0 5 2 5 2 3 1 2 0 5 2 5 1 4 2 1 0 5 1 5 2 5 1 1 1 4 1 5 1 5 2 3 1 2 0 5 1 5 1 5 2 2 1 3 0 5 1 5-1 1 0 4-5 0-1 1-4 1-5-1-5-1-5-5-5 0-1-5-2-5-2-1 0-4-1-5-2-5-1-5-1-1 0-4-1-5-2-5-1-4-1-1-1-5-1-5-1-5-2-2 0-3-1-5-2-5-1-3-1-2-1-5-1-5-2-3-1-2-1-5-2-5-1-4-1-1-1-5-1-5 0-5-1-5-1-5-1-5-3-3-2-2-1-5-4 0-1-5-4-5-4-1-1-4-3-3-2-2-2-4-3-1-1-5-4-1 0-4-2-5-2-5-1-5 1-5 2zM1637 913l-1 0-5 0-5 0-5 1-5 1-5 1-5 1-2 1-3 0-5 2-5 2 0 1-5 2-3 3-2 1-4 4-1 1-3 4-2 3-1 2-3 5-1 2-1 3-1 5-1 5 1 5 2 1 5 3 2 1 3 0 5 1 5 2 5 1 1 1 4 1 5 1 5 2 4 1 1 0 5 1 5 2 5 1 3 1 2 0 5 2 5 2 3 1 2 1 5 2 4 2 1 1 5 2 4 2 1 1 5 3 3 1 2 1 5 3 5 1 5 1 5 1 5-1 5 0 2-1 3-3 2-2 2-5 0-5-1-5-2-5-1-2-2-3-2-5-1-1-3-4-2-3-2-2-3-4-1-1-4-5-4-5-1-1-3-4-2-3-1-2-3-5-1-4-1-1-2-5-2-3-1-2-4-4-1-1-4-2-5-3-5 0-4 0-1 0-5-1z" fill="#2cb0e8" fill-rule="evenodd" stroke="#111" stroke-width="3.4"/>
<path d="M1496 828l5 0 5 0 5 0 5 0 5 0 5 0 5 0 5 0 5 0 5 0 5 0 5 0 5 0 5 0 5 0 5 0 5 0 5 0 5 0 5 0 5 0 5 0 5 0 5 0 5 0 5 0 2 0-2 2-1 3-3 5-1 2-1 3-2 5-2 2-2 3-3 4-1 1-4 4 0 1-5 3-1 2-4 2-4 3-1 0-5 3-2 2-3 1-5 3 0 1-5 3-2 2-3 1-5 4-5 3-1 2-4 2-3 3-2 1-5 3 0 1-5 3-2 2-3 2-4 3-1 0-5 4 0 1-5 3-2 2-3 2-3 3-2 1-5 1-5-1-3-1-2-1 0-4 0-5 0-5 0-5 0-5 0-5 0-5 0-5 0-5 0-5 0-5 0-5 0-5 0-5 0-5 0-5 0-5 0-5 0-5 0-5 0-5zM1806 828l5 0 5 0 5 0 5 0 5 0 5 0 5 0 5 0 5 0 5 0 5 0 5 0 5 0 5 0 5 0 5 0 5 0 5 0 5 0 5 0 5 0 5 0 5 0 5 0 5 0 5 0 5 0 5 0 5 0 5 0 5 0 5 0 5 0 5 0 5 0 5 0 5 0 5 0 5 0 5 0 5 0 5 0 5 0 5 0 5 0 5 0 5 0 5 0 5 0 5 0 5 0 5 0 5 0 5 0 5 0 5 0 5 0 5 0 5 0 5 0 5 0 5 0 5 0 5 0 5 0 5 0 5 0 5 0 5 0 5 0 5 0 5 0 5 0 5 0 5 0 5 0 5 0 5 0 5 0 5 0 5 0 5 0 5 0 5 0 5 0 5 0 5 0 5 0 5 0 5 0 5 0 5 0 5 0 5 0 5 0 5 0 5 0 5 0 5 0 5 0 5 0 5 0 5 0 5 0 5 0 5 0 5 0 5 0 0 5 0 5 0 5 0 5 0 5 0 5 0 5 0 5 0 5 0 5 0 5 0 5 0 5 0 5 0 5 0 5 0 5 0 5 0 5 0 5 0 5 0 5 0 5 0 5 0 5 0 5 0 5 0 5 0 5 0 5 0 5 0 5 0 5 0 5 0 5 0 5 0 5 0 5 0 5 0 5 0 5 0 5 0 5 0 5 0 5 0 5 0 5 0 5 0 5 0 5 0 5 0 5 0 5 0 5 0 5 0 5 0 5 0 5 0 5 0 5 0 5 0 5 0 5 0 5 0 5 0 5 0 5 0 5 0 5 0 5 0 5 0 5 0 5 0 5 0 5 0 5 0 5 0 5 0 5 0 5 0 5 0 5 0 5 0 5 0 5 0 5 0 5 0 5 0 5 0 5 0 5 0 5 0 5 0 5 0 5 0 5 0 5 0 5 0 5 0 5 0 5 0 5 0 5 0 5 0 5 0 5 0 5 0 5 0 5 0 5 0 5 0 5 0 5 0 5 0 5 0 5 0 5 0 5 0 5 0 5 0 5 0 5 0 5 0 5 0 5 0 5 0 5 0 5 0 5 0 5 0 5 0 5 0 5 0 5 0 5 0 5 0 5 0 5 0 5 0 5 0 5 0 5 0 5-5 0-5 0-5 0-5 0-5 0-5 0-5 0-5 0-5 0-5 0-5 0-5 0-5 0-5 0-5 0-5 0-5 0-5 0-5 0-5 0-5 0-5 0-5 0-5 0-5 0-5 0-5 0-5 0-5 0-5 0-5 0-5 0-5 0-5 0-5 0-5 0-5 0-5 0-5 0-5 0-5 0-5 0-5 0-5 0-5 0-5 0-5 0-5 0-5 0-5 0-5 0-5 0-5 0-5 0-5 0-5 0-5 0-5 0-5 0-5 0-5 0-5 0-5 0-5 0-5 0-5 0-5 0-5 0-5 0-5 0-5 0-5 0-5 0-5 0-5 0-5 0-5 0-5 0-5 0-5 0-5 0-5 0-5 0-5 0-5 0-5 0-5 0-5 0-5 0-5 0-5 0-5 0-5 0-5 0-5 0-5 0-5 0-5 0-5 0-5 0-5 0-5 0-5 0-5 0-5 0-5 0-5 0-5 0-5 0-5 0-5 0-5 0-5 0-5 0-5 0-5 0-5 0-5 0-5 0-5 0-5 0-5 0-5 0-5 0-5 0-5 0-5 0-5 0-5 0-5 0-5 0-5 0-5 0-5 0-5 0-5 0-5 0-5 0-5 0-5 0-5 0-5 0-5 0-5 0-5 0-5 0-5 0-5 0-5 0-5 0-5 0-5 0-5 0-5 0-5 0-5 0-5 0-5 0-5 0-5 0-5 0-5 0-5 0-5 0-5 0-5 0-5 0-5 0-5 0-5 0-5 0 0-5 0-5 0-5 0-5 0-5 0-5 0-5 0-5 0-5 0-5 0-5 0-5 0-5 0-5 0-5 0-5 0-5 0-5 0-5 0-5 0-5 0-5 0-5 0-5 0-5 0-5 0-5 0-5 0-5 0-5 0-5 0-5 0-5 0-5 0-5 0-5 0-5 0-5 0-5 0-5 0-5 0-5 0-5 0-5 0-5 0-5 0-5 0-5 0-5 0-5 0-5 0-5 0-5 0-5 0-5 0-5 0-5 0-5 0-5 0-5 0-5 0-5 0-5 0-5 0-5 0-5 0-5 0-5 0-5 0-5 0-5 0-5 0-5 0-5 0-5 0-5 0-5 0-5 0-5 0-5 0-5 0-5 0-5 0-5 0-5 0-5 0-5 0-5 0-5 0-5 0-5 0-5 0-5 0-5 0-5 0-5 0-5 0-5 0-5 0-5 0-5 0-5 0-5 0-5 0-5 0-5 0-5 0-5 0-5 0-2 5-1 5-1 5-1 5 0 5-1 5-1 5-1 5 0 5-1 5 0 5 1 5 0 5 0 5 0 5 0 5 1 5 1 5 0 2 1 3 0 5 1 5 1 5 1 5 1 1 1 4 1 5 1 5 3 5 1 5 2 4 2 1 0 5 1 5 2 4 2 1 0 5 1 5 2 5 1 1 1 4 1 5 1 5 1 5 2 1 0 4 0 5 0 5 1 5 0 5-1 5-3 3-2 2-3 2-2 2-5 1-5 1-5 0-5-1-5 0-3 0-2-1-5-2-5-1-5-1-5 1-5 1-5 0-5 0-5-2-4-2-1 2-3 5-2 5 0 5 1 5 1 5 0 5-1 5-1 1 0 4-1 5-2 5 0 5 0 5 1 5 1 5 1 1 0 4 1 5 1 5 1 5 1 2 1 3 0 5 1 5 2 5 1 3 1 2 0 5 1 5 1 5 1 5 2 5 1 5 1 5 1 5 1 2 1 3 0 5 1 5 2 5 1 4 1 1 0 5 1 5 1 5 1 5 1 1 1 4 0 5 2 5 1 5 1 4 1 1 0 5 1 5 1 5 1 5 1 3 1 2 0 5 1 5 1 5 1 5 1 5 0 3 1 2 0 5 0 3 0 2-1 3-4 2-5 0-2 1-3 0-5 1-5 0-5 0-5-1-5-1-5 0-1-1-4-2-5-2-4-1-1-4-4-3-1-2-1-5-3-5-1-5-2-5-2-5-1-5-3-5-1-3-1-2-3-1-2-4-2-5-3-5-1-5 1-5 3-5-1-5-1-5-1-2 0-3-1-5-2-5-1-4-1-1-1-5-1-5-2-3-1-2-1-5-2-4-2-1-1-5-3-3-1-2-2-5-3-1 0-4-3-3-2-2-2-5-3-5-4-2-1-3-3-3-2-2-2-5-3-5-4-3-1-2-1-5-3-5-1zM2034 1058l-3 1-4 4-1 1-2 4-2 5-1 5 1 5 2 5 2 3 1 2 4 3 3 2 2 1 5 1 5 1 5-1 5-1 3-1 2-2 5-3 0-1 3-4 2-5 0-2 1-3-1-4 0-1-2-5-3-5-5-4-2-1-3-2-5-1-5-1-5 1-5 1zM1706 935l5 0 3 3-3 0-5 1-1-1z" fill="#50c4e4" fill-rule="evenodd" stroke="#111" stroke-width="3.4"/>
<path d="M1856 828l5 0 5 0 5 0 5 0 5 0 5 0 5 0 5 0 5 0 5 0 5 0 5 0 5 0 5 0 5 0 5 0 5 0 5 0 5 0 5 0 5 0 5 0 5 0 5 0 5 0 5 0 5 0 5 0 5 0 5 0 5 0 5 0 5 0 5 0 5 0 5 0 5 0 5 0 1 0 3 5 1 2 2 3 3 3 2 2 3 2 5 1 5 0 5-2 5-1 0-1 5-2 4-2 1-1 5-3 3-1 2-2 5-2 4-1 1 0 5 0 5 0 5 0 5 0 5 0 5 0 5 0 5 0 5 0 5 0 5 0 5 0 5 0 5 0 5 0 5 0 5 0 5 0 5 0 5 0 5 0 2 0 3 1 5 3 1 1 4 2 3 3 2 2 3 3 2 2 3 3 2 2 3 3 2 2 5 2 5-1 3-3 2-3 1-2 2-5 1-5 0-5-1-5 2 0 5 0 5 0 5 0 5 0 5 0 5 0 5 0 5 0 5 0 5 0 5 0 5 0 5 0 5 0 5 0 0 5 0 5 0 5 0 5 0 5 0 5 0 5 0 5 0 5 0 5 0 5 0 5 0 5 0 5 0 5 0 5 0 5 0 5 0 5 0 5 0 5 0 5 0 5 0 5 0 5 0 5 0 5 0 5 0 5 0 5 0 5 0 5 0 5 0 5 0 5 0 5 0 5 0 5 0 5 0 5 0 5 0 5 0 5 0 5 0 5 0 5 0 5 0 5 0 5 0 5 0 5 0 5 0 5 0 5 0 5 0 5 0 5 0 5 0 5 0 5 0 5 0 5 0 5 0 5 0 5 0 5 0 5 0 5 0 5 0 5 0 5 0 5 0 5 0 5 0 5 0 5 0 5 0 5 0 5 0 5 0 5 0 5 0 5 0 5 0 5 0 5 0 5 0 5 0 5 0 5 0 5 0 5 0 5 0 5 0 5 0 5 0 5 0 5 0 5 0 5 0 5 0 5 0 5 0 5 0 5 0 5 0 5 0 5 0 5 0 5 0 5 0 5 0 5 0 5 0 5 0 5 0 5 0 5 0 5 0 5 0 5 0 5 0 5 0 5 0 5 0 5 0 5 0 5 0 5 0 5 0 5 0 5 0 5 0 5 0 5 0 5 0 5 0 5 0 5 0 5 0 5 0 5 0 5-5 0-5 0-5 0-5 0-5 0-5 0-5 0-5 0-5 0-5 0-5 0-5 0-5 0-5 0-5 0-5 0-5 0-5 0-5 0-5 0-5 0-5 0-5 0-5 0-5 0-5 0-5 0-5 0-5 0-5 0-5 0-5 0-5 0-5 0-5 0-5 0-5 0-5 0-5 0-5 0-5 0-5 0-5 0-5 0-5 0-5 0-5 0-5 0-5 0-5 0-5 0-5 0-5 0-5 0-5 0-5 0-5 0-5 0-5 0-5 0-5 0-5 0-5 0-5 0-5 0-5 0-5 0-5 0-5 0-5 0-5 0-5 0-5 0-5 0-5 0-5 0-5 0-5 0-5 0-5 0-5 0-5 0-5 0-5 0-5 0-5 0-5 0-5 0-5 0-5 0-5 0-5 0-5 0-5 0-5 0-5 0-5 0-5 0-5 0-5 0-5 0-5 0-5 0-5 0-5 0-5 0-5 0-5 0-5 0-5 0-5 0-5 0-5 0-5 0-5 0-5 0-5 0-5 0-5 0-5 0-5 0-5 0-5 0-5 0-5 0-5 0-5 0-5 0-5 0-5 0-5 0-5 0-5 0-5 0-5 0-5 0-5 0-5 0-5 0-5 0-5 0-5 0-5 0-5 0-5 0-5 0-5 0-5 0-5 0-5 0-5 0-5 0-5 0-5 0-5 0-5 0-5 0-5 0-5 0-5 0-5 0-5 0-5 0-5 0-5 0-5 0-5 0-5 0-5 0-5 0-5 0 0-5 0-5 0-5 0-5 0-5 0-5 0-5 0-5 0-5 0-5 0-5 0-5 0-5 0-5 0-5 0-5 0-5 0-5 0-5 0-5 0-5 0-5 0-5 0-5 0-5 0-5 0-5 0-5 0-5 0-5 0-5 0-5 0-5 0-5 0-5 0-5 0-5 0-5 0-5 0-5 0-5 0-5 0-5 0-5 0-5 0-5 0-5 0-5 0-5 0-5 0-5 0-5 0-5 0-5 0-5 0-5 0-5 0-5 0-5 0-5 0-5 0-5 0-5 0-5 0-5 0-5 0-5 0-5 0-5 0-5 0-5 0-5 0-5 0-5 0-5 0-5 0-5 0-5 0-5 0-5 0-5 0-5 0-5 0-5 0-5 0-5 0-5 0-5 0-5 0-5 0-5 0-5 0-5 0-5 0-5 0-5 0-5 0-5 0-5 0-5 0-5 0-5 0-5 0-5 0-3 5-2 1 0 4-2 5-3 1 0 4-3 5-2 1 0 4-2 5-1 5-2 5 0 2 0 3-1 5 0 5 0 5 0 5 0 5 1 1 0 4 0 5 1 5 0 5 1 5 1 5 1 4 1 1 0 5 1 5 1 5 1 5 1 1 1 4 1 5 1 5 1 5 1 1 1 4 1 5 1 5 1 4 2 1 0 5 1 5 2 5 1 5 0 2 1 3 1 5 0 5 1 5 0 5 0 5 0 5-1 3-1 2-2 5-3 1 0 4-5 0-1 3-4 1-5 1-5 1-5 1-5 1-5 2-5 0-1 2-4 3-4 2-1 3-3 2-2 3-3 2-2 3-5 5-5 1 0 4-2 5-1 5 0 5 1 5 0 5 1 3 1 2 0 5 1 5 1 5 1 5 1 5 1 5 1 5 1 5 1 5 1 5 0 1 1 4 0 5 1 5 1 5 1 5 1 2 1 3 0 5 1 5 2 5 1 5 1 5 1 5 1 5 1 5 1 5 1 5 1 5 0 5 1 5 1 5 1 5 0 4 1 1 0 5 0 5 1 5 1 5 0 5 1 5 0 5 1 5 0 4 1 1 0 5 0 5 1 4-1 1-1 2-4 1-5 0-5 1-5 1-5 0-5 0-3 0-2 1-5 0-5-1-5 0-5 0-5-1-5-1-5-1-5-1-5-1-2-2-3-3-4-1-1-4-4-2-1-3-2-5-3-2 0-3-1-5-2-5-1-5-1-2 0-3-1-5-1-5-1-5-1-5-1-5-2-5-1-5-2-1 0-4-1-5-2-5-2-5-2-5-2-4-1-1-1-5-2-5-2-1 0-4-2-5-2-2-1-3-2-5-3-5-4-3-1-2-2-5-3-5-5-1 0-4-4-1-1zM2024 1043l-3 1-5 3-1 1-4 3-2 2-3 3-1 2-3 5-1 2 0 3-1 5-1 5 1 5 1 5 2 5 3 4 1 1 4 5 5 3 2 2 3 1 5 3 3 1 2 0 5 1 5 1 5 0 5 0 5-1 5-1 1 0 4-2 5-3 2 0 3-3 3-2 2-2 3-3 2-4 1-1 2-5 2-5 0-5 0-5-1-5-2-5-2-3-1-2-4-5-5-4-1-1-4-3-5-2-5-2-5-1-5-1-5-1-5 1-5 0-5 1-5 2zM1542 1193l2 5 2 1 3 4 2 1 4 4 1 0 5 3 2 2 3 1 5 3 2 1 3 0 5 3 2 2 3 2 4 3 1 1 5 2 2 2 3 3 1 2 4 4 1 1 4 3 4 2 1 0 3 0 2-1 2-4 1-5-1-5-2-2-5-3-5-2-5-1-3-2-2-2-2-3-1-5-1-5-1-3-1-2-4-4-2-1-3-1-5-1-5 0-5 0-5-1-5-2-5-3-5-1-5 0z" fill="#58c0c8" fill-rule="evenodd" stroke="#111" stroke-width="3.4"/>
<path d="M1906 828l5 0 5 0 5 0 5 0 5 0 5 0 5 0 5 0 5 0 5 0 5 0 5 0 5 0 5 0 5 0 5 0 5 0 5 0 5 0 5 0 5 0 5 0 5 0 5 0 5 0 0 1 2 4 3 5 3 5 2 3 1 2 4 4 1 1 4 3 3 2 2 1 5 1 5 0 5-1 2-1 3-1 5-2 5-1 3-1 2-1 5-2 5-2 0-1 5-2 4-2 1-1 5-2 5-2 2 0 3-1 5-1 5 0 5 0 5 0 5 1 5 0 5 0 5 0 5 0 5 0 5 0 4 1 1 0 5 0 5 1 5 1 5 0 5 1 5 1 1 1 4 1 5 3 1 1 4 4 1 1 4 4 1 1 4 4 1 1 4 5 4 5 1 0 5 0 1 0 4-3 2-2 3-4 1-1 3-5 1-3 1-2 2-5 1-5 1-5 0-5 0-2 0-3 5 0 5 0 5 0 5 0 5 0 5 0 5 0 5 0 5 0 5 0 5 0 5 0 5 0 5 0 0 5 0 5 0 5 0 5 0 5 0 5 0 5 0 5 0 5 0 5 0 5 0 5 0 5 0 5 0 5 0 5 0 5 0 5 0 5 0 5 0 5 0 5 0 5 0 5 0 5 0 5 0 5 0 5 0 5 0 5 0 5 0 5 0 5 0 5 0 5 0 5 0 5 0 5 0 5 0 5 0 5 0 5 0 5 0 5 0 5 0 5 0 5 0 5 0 5 0 5 0 5 0 5 0 5 0 5 0 5 0 5 0 5 0 5 0 5 0 5 0 5 0 5 0 5 0 5 0 5 0 5 0 5 0 5 0 5 0 5 0 5 0 5 0 5 0 5 0 5 0 5 0 5 0 5 0 5 0 5 0 5 0 5 0 5 0 5 0 5 0 5 0 5 0 5 0 5 0 5 0 5 0 5 0 5 0 5 0 5 0 5 0 5 0 5 0 5 0 5 0 5 0 5 0 5 0 5 0 5 0 5 0 5 0 5 0 5 0 5 0 5 0 5 0 5 0 5 0 5 0 5 0 5 0 5 0 5 0 5 0 5 0 5 0 5 0 5 0 5 0 5 0 5 0 5 0 5 0 5 0 5 0 5 0 5 0 5 0 5 0 5 0 5 0 5 0 5 0 5 0 5 0 5 0 5-5 0-5 0-5 0-5 0-5 0-5 0-5 0-5 0-5 0-5 0-5 0-5 0-5 0-5 0-5 0-5 0-5 0-5 0-5 0-5 0-5 0-5 0-5 0-5 0-5 0-5 0-5 0-5 0-5 0-5 0-5 0-5 0-5 0-5 0-5 0-5 0-5 0-5 0-5 0-5 0-5 0-5 0-5 0-5 0-5 0-5 0-5 0-5 0-5 0-5 0-5 0-5 0-5 0-5 0-5 0-5 0-5 0-5 0-5 0-5 0-5 0-5 0-5 0-5 0-5 0-5 0-5 0-5 0-5 0-5 0-5 0-5 0-5 0-5 0-5 0-5 0-5 0-5 0-5 0-5 0-5 0-5 0-5 0-5 0-5 0-5 0-5 0-5 0-5 0-5 0-5 0-5 0-5 0-5 0-5 0-5 0-5 0-5 0-5 0-5 0-5 0-5 0-5 0-5 0-5 0-5 0-5 0-5 0-5 0-5 0-5 0-5 0-5 0-5 0-5 0-5 0-5 0-5 0-5 0-5 0-5 0-5 0-5 0-5 0-5 0-5 0-5 0-5 0-5 0-5 0-5 0-5 0-5 0-5 0-5 0-5 0-5 0-5 0-5 0-5 0-5 0-5 0-5 0-5 0-5 0-5 0-5 0-5 0-5 0-5 0-5 0-5 0-5 0-5 0-5 0-5 0-5 0-5 0-5 0-5 0-5 0-5 0-5 0-5 0-5 0-5 0-5 0-5 0-5 0-5 0-5 0 0-5 0-5 0-5 0-5 0-5 0-5 0-5 0-5 0-5 0-5 0-5 0-5 0-5 0-5 0-5 0-5 0-5 0-5 0-5 0-5 0-5 0-5 0-5 0-5 0-5 0-5 0-5 0-5 0-5 0-5 0-5 0-5 0-5 0-5 0-5 0-5 0-5 0-5 0-5 0-5 0-5 0-5 0-5 0-5 0-5 0-5 0-5 0-5 0-5 0-5 0-5 0-5 0-5 0-5 0-5 0-5 0-5 0-5 0-5 0-5 0-5 0-5 0-5 0-5 0-5 0-5 0-5 0-5 0-5 5 0 5 0 5 0 5 1 5 0 5 2 5 1 1 1 4 1 5 2 3 2 2 1 5 2 3 2 2 0 5 4 3 1 2 0 5 3 2 2 3 0 5 2 3 3 2 2 4 3 1 1 5 2 2 2 3 3 2 2 3 2 2 3 3 2 3 3 2 1 3 4 2 3 2 2 3 3 3 2 2 2 3 3 2 1 5 1 5-2 1 0 3-5 1-2 1-3 2-5 0-5 1-5-1-5-1-5-1-5-1-1-2-4-3-5-3-5-2-2-3-3-2-3-3-2-2-2-3-3-2-2-4-3-1-1-5-4-5-4-2-1-3-3-4-2-1-1-5-3-1-1-4-2-5-3-5-3-4-2-1-1-5-2-4-2-1-1-5-2-5-2-5-2-5-2-3-1-2-1-5-2-5-1-5-1-1 0-4-1-5-1-5-1-5 1-5 0-5 0 0-3 0-5 0-5 0-5 0-5 0-5 0-5 0-5 0-5 0-5 0-5 0-5 0-5 0-5 0-5 0-5 0-5 0-5 0-5 0-5 0-5 0-2 5-2 3-1 2-1 5-3 2-1 3-2 5-2 3-1 2-1 5-2 5-2 2 0 3-1 5-1 5-1 5 0 5-1 5 0 5-1 5 0 5 0 5 0 5 0 5 0 5 0 5 0 5 1 5 0 5 1 5 1 5 0 5 1 2 1 3 0 5 1 5 1 5 1 4 2 1 0 5 1 5 1 5 2 4 1 1 0 5 1 5 1 5 1 5 0 5 0 5 0 5-1 5 0 5-1 3-1 2-1 5-3 2-1 3-3 3-2 2-4 1-1 3-5 1-4 1-1 1-5 1-5 2-5 1 0 3-5 1-2 3-3 2-3 4-2 1-1 5-2 5-1 5 0 5 0 5 0 5 1 5 0 5 1 5 1 5 0 2 1 3 0 5 1 5 1 5 1 5 0 5 1 2 1 3 0 5 1 5 1 5 1 5 1 5 0 2 1 3 0 5 1 5 1 5 0 5 1 5 1 5 1 5 0 5 1 5 1 5 1 5 1 5 0 2 1 3 0 5 1 5 0 5 1 5 1 5 1 4 1 1 0 5 0 5 1 5 1 5 0 5 0 5 0 5 0 5-1 3-1 2-2 5-3 1 0 3-5 1-5 0-5 0-2 1-3 0-5 1-5 0-5 0-5 0-5 1-5-1-5 0-5 0-5 0-5 0-5-1-5 0-5 0-5-1-3 0-2-1-5-2-5-2-5-3-5-2-2-4-3-1-1-5-3-1-1-4-2-5-2-4-1-1-1 0 1-2 5-3 1-5 3-5 0-5 0-5-1-5-1-5-1-5-1-2 0-3-1-5-2-5-2-1 0-4-3-3-2-2-5 1-5-1-4 0-1-5-3-5-2-1 0-4-4-2-1-3-3-3-2-2-2-4-3zM1976 858l0 1 5 3 1-4-1-1-5 0zM2079 888l-3 1-2 4 2 1 4 4 1 0 5 1 5 0 5 0 2-1-1-5-1-1-5-3-4-1-1-1-5 0zM2022 1028l-1 0-5 1-5 2-4 2-1 0-5 3-2 2-3 1-3 4-2 2-2 3-3 4-1 1-2 5-2 4 0 1-1 5 0 5 0 5 1 4 0 1 2 5 2 5 1 2 2 3 3 4 0 1 5 5 5 5 5 3 2 2 3 1 5 3 1 1 4 1 5 2 5 2 5 1 5 1 5 0 5 0 5 0 5 0 5-1 5-1 0-1 5-1 5-2 2-1 3-2 5-3 5-5 1 0 4-5 0-1 3-4 2-5 0-2 1-3 1-5 0-5-1-5-1-5 0-1-1-4-3-5-1-3-2-2-3-5-5-5-5-5-5-3-3-2-2-2-5-2-2-1-3-1-5-2-5-2-3 0-2-1-5-1-5 0-5 0-5 0-5 1z" fill="#5cc0a8" fill-rule="evenodd" stroke="#111" stroke-width="3.4"/>
<path d="M1946 828l5 0 5 0 5 0 5 0 5 0 5 0 5 0 5 0 5 0 5 0 5 0 5 0 2 0 3 4 0 1 3 5 2 5 0 4 0 1-2 5-3 1-5 2-3 2-2 0-5 0-2-5-3-4-4-1-1-1-5-1-5-1-5 2-1 1-1 5-1 5-1 5 0 5-1 0-5 0-3 0 3-3 2-2 1-5 0-5-3-5-1 0-4-1-3 1-2 0-1-5-1-5-2-5-1-3-1-2zM2281 828l5 0 5 0 5 0 5 0 5 0 5 0 5 0 5 0 5 0 5 0 5 0 5 0 5 0 0 5 0 5 0 5 0 5 0 5 0 5 0 5 0 5 0 5 0 5 0 5 0 5 0 5 0 5 0 5 0 5 0 5 0 5 0 5 0 5 0 5 0 5 0 5 0 5 0 5 0 5 0 5 0 5 0 5 0 5 0 5 0 5 0 5 0 5 0 5 0 5 0 5 0 5 0 5 0 5 0 5 0 5 0 5 0 5 0 5 0 5 0 5 0 5 0 5 0 5 0 5 0 5 0 5 0 5 0 5 0 5 0 5 0 5 0 5 0 5 0 5 0 5 0 5 0 5 0 5 0 5 0 5 0 5 0 5 0 5 0 5 0 5 0 5 0 5 0 5 0 5 0 5 0 5 0 5 0 5 0 5 0 5 0 5 0 5 0 5 0 5 0 5 0 5 0 5 0 5 0 5 0 5 0 5 0 5 0 5 0 5 0 5 0 5 0 5 0 5 0 5 0 5 0 5 0 5 0 5 0 5 0 5 0 5 0 5 0 5 0 5 0 5 0 5 0 5 0 5 0 5 0 5 0 5 0 5 0 5 0 5 0 5 0 5 0 5 0 5 0 5 0 5 0 5 0 5 0 5 0 5 0 5 0 5 0 5 0 5 0 5 0 5 0 5 0 5 0 5 0 5 0 5 0 5-5 0-5 0-5 0-5 0-5 0-5 0-5 0-5 0-5 0-5 0-5 0-5 0-5 0-5 0-5 0-5 0-5 0-5 0-5 0-5 0-5 0-5 0-5 0-5 0-5 0-5 0-5 0-5 0-5 0-5 0-5 0-5 0-5 0-5 0-5 0-5 0-5 0-5 0-5 0-5 0-5 0-5 0-5 0-5 0-5 0-5 0-5 0-5 0-5 0-5 0-5 0-5 0-5 0-5 0-5 0-5 0-5 0-5 0-5 0-5 0-5 0-5 0-5 0-5 0-5 0-5 0-5 0-5 0-5 0-5 0-5 0-5 0-5 0-5 0-5 0-5 0-5 0-5 0-5 0-5 0-5 0-5 0-5 0-5 0-5 0-5 0-5 0-5 0-5 0-5 0-5 0-5 0-5 0-5 0-5 0-5 0-5 0-5 0-5 0-5 0-5 0-5 0-5 0-5 0-5 0-5 0-5 0-5 0-5 0-5 0-5 0-5 0-5 0-5 0-5 0-5 0-5 0-5 0-5 0-5 0-5 0-5 0-5 0-5 0-5 0-5 0-5 0-5 0-5 0-5 0-5 0-5 0-5 0-5 0-5 0-5 0-5 0-5 0-5 0-5 0-5 0-5 0-5 0-5 0-5 0-5 0-5 0-5 0-5 0-5 0-5 0-5 0-5 0-5 0-5 0-5 0-5 0-5 0-5 0-5 0-5 0-5 0-5 0-5 0-5 0-5 0-5 0-5 0-5 0-5 0-5 0 0-5 0-5 0-5 0-5 0-5 0-5 0-5 0-5 0-5 0-5 0-5 0-5 0-5 0-5 0-5 0-5 0-5 0-5 0-5 0-5 0-5 0-5 0-5 0-5 0-5 0-5 0-5 0-5 0-5 0-5 0-4 1-1 2-5 2-3 2-2 3-4 2-1-2-2-5-3-1 0-4-2 0-3 0-5 0-5 0-5 0-5 0-5 0-5 0-5 0-5 0-5 0-5 0-5 0-5 0-5 0-5 0-5 0-5 0-5 0-5 0-5 0-5 0-5 0-5 0-5 0-5 0-5 0-5 0-5 0-5 0-5 0-5 0-4 5 0 5 0 5 0 5 0 5 0 5 1 5 1 5 1 3 1 2 0 5 2 5 2 3 1 2 0 5 3 5 2 5 4 5 0 0 1 5 3 2 2 3 3 3 2 2 1 5 3 1 1 4 4 1 1 4 3 2 2 3 3 2 2 3 5 3 5 2 3 2 2 2 5 1 2 2 3 2 5 1 5 0 5 2 5 1 5 2 2 1-2 2-5 2-4 1-1 4-4 2-1 3-2 5-3 5-4 2-1 3-5 1 0 2-5 2-4 1-1 2-5 1-5 1-4 1-1 0-5-1-5-2-5-3-5-3-5-2-3-2-2-3-4-1-1-4-5-4-5-1-1-5-4-5-4-1-1-4-3-3-2-2-1-5-4-1 0-4-3-3-2-2-2-5-3-5-5-5-5-1 0-4-5-4-5-1-1-2-4-3-5-4-5-1-1-5-4-1 0-4-2-5-2-5-1-5-2-5 0-5-1-5-1-5 0-5 0-5-1-5 0-5 1-5 0-5 0-5 0-5-1 0-5 0-5 0-5 0-5 0-5 0-5 0-5 0-5 0-5 0-5 0-5 0-5 0-5 0-4 4-1 1-1 5-2 5-1 4-1 1-1 5-2 5-1 3-1 2-1 5-2 5-2 2 0 3-2 5-1 5-2 2 0 3-1 5-1 5-1 5-1 5 0 5-1 4 0 1 0 5-1 5 0 5 0 5-1 5 0 5 0 5 0 5 0 5 0 5 1 5 0 5 0 2 1 3 0 5 1 5 1 5 1 5 1 3 1 2 0 5 1 5 1 5 1 5 0 5 0 5 0 5 0 5 0 5-1 5-1 4-1 1-1 5-2 4-2 1-1 5-4 1 0 4-4 1-1 4-4 2-1 3-4 2-1 3-4 2-1 3-3 5-2 5-2 5-1 5 0 5 0 5 0 5 0 5 0 5 1 5 0 5 1 5 1 1 0 4 0 5 1 5 0 5 1 5 0 5 1 5 0 5 1 5 1 1 0 4 0 5 1 5 0 5 1 5 0 5 1 5 0 5 0 5 1 5 0 1 1 4 0 5 0 5 0 5 1 5 0 5 1 5 2 0 1 3 5 2 5 1 0 4-2 5-3 2 0 3-2 5-2 5-1 5-1 5 0 5-1 5 2-5 1-5 2-1 2-4 2-1 3-3 5-1 1-1 4-3 5-1 0-4 5-1 0-5 3-5 1-5-2-2-2-3-4-5 3 0 1-3 5-1 5-1 2 0 3 0 5 0 5 0 3 0 2 1 5 2 5 2 5 2 5 3 4 0 1 4 5 1 2 3 3 2 2 2 3 3 2 3 3 2 2 4 3 1 1 5 3 1 1 4 2 5 3 5 2 5 2 1 1 4 1 5 2 5 1 1 1 4 1 5 1 5 0 5 1 5 0 5 0 5 0 5 0 5-1 5-1 5-1 5-2 5-2 3-1 2-1 5-3 2-1 3-3 3-2 2-3 2-2 3-4 1-1 3-5 1-3 1-2 2-5 1-5 0-5 0-5 0-5-1-5-1-5-2-4 0-1-3-5-2-4 0-1-4-5-1-2-2-3-3-3-2-2-3-3-2-2-3-3-3-2-2-2-5-3-5-3-4-2-1-1-5-2-4-2-1-1-5-1-5-2-5-1-5-2-5-2-5-1-1 0 1-2 0-3 2-5 1-5 0-5 0-5 0-5 0-5 0-5 0-5 0-5 0-5 0-5 0-5 0-5 0-5 0-5 0-5 1-5 1-5 3-5 2-4 2-1 3-2 5-1 5 0 5 1 5 0 5 1 1 1 4 0 5 1 5 1 5 1 5 1 3 1 2 0 5 1 5 1 5 1 5 1 2 1 3 0 5 1 5 0 5 0 5 1 5 0 5 0 5 0 5 0 5 0 5 0 5 0 5-1 5 0 5-1 5-2 5-2 5-1 1 0 4-3 5-2 2 0 3-2 5-3 1 0 4-3 3-2 2-2 4-3 1-2 4-3 1-2 3-3 2-3 2-2 3-4 1-1 3-5 1-2 2-3 2-5 1-4 1-1 1-5 1-5 1-5 0-5 1-5zM1671 1343l-5 1-5 2-4 2-1 0-5 3-4 2-1 0-5 3-3 2-2 1-5 3-3 1-2 1-5 1-3-2-2-5-3-5-2-3-1 3-4 1-5 2-2 2-3 2-5 2 0 1-5 4-4 1-1 0-5 2-5 1-5 1-4 1-1 0-5 1-5 0-5 1-5 0-5 2 0 1 0 5 3 5 2 4 1 1 4 4 1 1 4 2 5 0 1-2 1-5 3-4 2-1 3-3 5-2 1 0 4-2 5-2 3-1 2-1 5-1 5 0 5-1 1 3-1 0-4 5-1 1-3 4-2 4 0 1-3 5-2 4 0 1-4 5-1 2-5 2-1 1 1 0 3 5 2 1 5 2 4 2 1 0 5 1 5 1 5-1 5 0 5-1 1 0 4-1 5-1 5-2 4-1 1-1 5-1 5-3 1 0 4-2 5-3 5-4 1-1 4-5 3-5 2-3 2-2 3-4 1-1 4-3 5-2 5-2 5-3 1 0 4-4 1-1 3-5 1-5-1-5-4-5-5-3-5-2-4 0-1-1-5 0-5 0-5 1zM2146 847l5 0 5 0 5 0 5 0 5 0 2 1 3 0 5 1 5 2 2 2 3 3 2 2 2 5 0 5-1 5 0 5-2 5-1 0-3 5-2 1-5 3-1 1-4 1-5 1-5 1-5 1-5 0-5 0-5 0-5 0-5-1-5-1-5-2-5-4-1-1-4-5-3-5-2-5 0-5 3-5 2-4 1-1 4-4 2-1 3-2 5-2 5-1 5 0 1 0z" fill="#5ec088" fill-rule="evenodd" stroke="#111" stroke-width="3.4"/>
<path d="M2286 828l5 0 5 0 5 0 5 0 5 0 5 0 5 0 5 0 5 0 5 0 5 0 5 0 0 5 0 5 0 5 0 5 0 5 0 5 0 5 0 5 0 5 0 5 0 5 0 5 0 5 0 5 0 5 0 5 0 5 0 5 0 5 0 5 0 5 0 5 0 5 0 5 0 5 0 5 0 5 0 5 0 5 0 5 0 5 0 5 0 5 0 5 0 5 0 5 0 5 0 5 0 5 0 5 0 5 0 5 0 5 0 5 0 5 0 5 0 5 0 5 0 5 0 5 0 5 0 5 0 5 0 5 0 5 0 5 0 5 0 5 0 5 0 5 0 5 0 5 0 5 0 5 0 5 0 5 0 5 0 5 0 5 0 5 0 5 0 5 0 5 0 5 0 5 0 5 0 5 0 5 0 5 0 5 0 5 0 5 0 5 0 5 0 5 0 5 0 5 0 5 0 5 0 5 0 5 0 5 0 5 0 5 0 5 0 5 0 5 0 5 0 5 0 5 0 5 0 5 0 5 0 5 0 5 0 5 0 5 0 5 0 5 0 5 0 5 0 5 0 5 0 5 0 5 0 5 0 5 0 5 0 5 0 5 0 5 0 5 0 5 0 5 0 5 0 5 0 5 0 5 0 5 0 5 0 5 0 5 0 5 0 5 0 5 0 5 0 5 0 5 0 5 0 5 0 5 0 5 0 5-5 0-5 0-5 0-5 0-5 0-5 0-5 0-5 0-5 0-5 0-5 0-5 0-5 0-5 0-5 0-5 0-5 0-5 0-5 0-5 0-5 0-5 0-5 0-5 0-5 0-5 0-5 0-5 0-5 0-5 0-5 0-5 0-5 0-5 0-5 0-5 0-5 0-5 0-5 0-5 0-5 0-5 0-5 0-5 0-5 0-5 0-5 0-5 0-5 0-5 0-5 0-5 0-5 0-5 0-5 0-5 0-5 0-5 0-5 0-5 0-5 0-5 0-5 0-5 0-5 0-5 0-5 0-5 0-5 0-5 0-5 0-5 0-5 0-5 0-5 0-5 0-5 0-5 0-5 0-5 0-5 0-5 0-5 0-5 0-5 0-5 0-5 0-5 0-5 0-5 0-5 0-5 0-5 0-5 0-5 0-5 0-5 0-5 0-5 0-5 0-5 0-5 0-5 0-5 0-5 0-5 0-5 0-5 0-5 0-5 0-5 0-5 0-5 0-5 0-5 0-5 0-5 0-5 0-5 0-5 0-5 0-5 0-5 0-5 0-5 0-5 0-5 0-5 0-5 0-5 0-5 0-5 0-5 0-5 0-5 0-5 0-5 0-5 0-5 0-5 0-5 0-5 0-5 0-5 0-5 0-5 0-5 0-5 0-5 0-5 0-5 0-5 0-5 0-5 0-5 0-5 0-5 0-5 0-5 0-5 0-5 0-5 0-5 0-5 0-5 0-5 0-5 0-5 0-5 0-5 0-5 0 0-5 0-5 0-5 0-5 0-5 0-5 0-5 0-5 0-5 0-5 0-5 0-5 0-5 0-5 0-5 0-5 0-5 0-5 5-5 1 0 4-4 2-1 3-3 5-1 5 2 2 2 3 5 4 5 1 1 4 4 1 1 5 3 2 1 3 1 5 3 3 1 2 1 5 1 5 2 2 1 3 0 5 1 5 1 5 1 5 0 5 1 5-1 5 0 5-1 5 0 5-1 5-1 3 0 2-1 5-1 5 0 5-1 5 0 5 0 5-1 5 0 5 0 5 0 5-1 5 0 2 0 3-1 5-2 4-2 1-2 2-3 0-5 0-5 2-5 1-3 3-2 2-2 5-3 5-5 3-5 2-4 1-1 1-5 1-5 1-5 1-5 0-5 0-2 0-3 1-5-1-5 0-4 0-1-1-5-1-5-1-5-1-5-1-1-1-4-2-5-2-4-1-1-3-5-1-2-2-3-3-4-1-1-4-4-2-1-3-2-5-3-5-2-5-1-5 2 0 1-5 5-5 3-3 2-2 0-5 2-2-2 2-5 4-5 1-1 4-4 1-2 4-3 1-2 3-3 2-3 1-2 3-5 1-3 1-2 3-5 1-5 2-5 2-5 1-5 0-3 1-2 0-5 0-5 0-5-1-5-1-5-1-5-1-5-2-5-2-5-3-4 0-1-5-5-5-4-1-1-4-3-3-2-2-2-5-3-1 0-4-3-5-2-5-3-4-2-1-1-5-2-3-2-2-1-5-4-1 0-4-3-3-2-2-2-4-3-1-1-4-4-1-1-3-4-2-3-1-2-2-5-2-5-4-5-1-1-5-4-5-3-4-2-1-1-5-2-5-2-2 0-3-1-5-1-5 0-5 0-5 0-5 0-5 0-5 0-5 0-5 1-4 1-1 0-5 0-5 0-1 0-4-4 0-1 0-5 0-5 0-5 0-2 2-3 3-3 5-2 5-2 5-2 5-1 5-2 5-1 5 0 5-1 5-1 0-1 5-1 5-1 5-2 2 0 3-2 5-1 5-2 2 0 3-1 5-1 5-1 5-1 5-1 3 0 2-1 5-1 5 0 5-1 5-1 5 0 5-1 4 0 1-1 5 0 5 0 5-1 5 0 5 0 5 0 5 0 5 0 5 0 5 0 5 1 5 0 5-1 5 1 5-1 5 0 5 0 5 0 5-1 5-2 2 0 3-2 5-3 1 0 4-3 4-2 1-2 5-3 1 0 4-3 4-2 1-1 5-3 4-1 1-1 5-1 5-1 5 0 5 0 5 1 5 0 5 1 4 1 1 0 5 0 5 1 5 0 5 0 5 1 5 0 5 1 5 1 5 1 5 1 5 2 5 1 1 1 4 1 5 1 5 1 5 0 5-1 5-1 5-1 0-1 5-1 5-2 5-1 1 0 4-1 5-1 5-1 5 1 4 2 1 1 2 4 0 5-2 4 0 1-5 5-5 4-2 1-3 3-2 2-3 3-1 2-4 5-4 5-1 2-2 3-2 5-1 0-2 5-1 5 0 5-1 5 1 5 1 5 1 5 1 5 2 5 1 5 2 4 0 1 3 5 2 5 0 1 2 4 3 5 0 1 3 4 2 4 1 1 4 5 4 5 1 0 5 4 1 1 4 2 5 2 1 1 4 1 5 1 5 1 5 1 3 1 2 0 5 0 5 0 5 0 5 0 5-1 5-1 5-1 5-1 5-1 2 0 3-1 5-2 5-1 5-1 0-1 5-1 5-2 4-1 1-1 5-2 5-2 1 0 4-1 5 0 1 1 0 5 4 1 5-1 0-5 0-1-5-2-2-2 2-2 3-3 2-1 4-4 1-1 5-4 0-1 4-4 1-2 3-3 2-3 2-2 3-5 0-1 3-4 2-5 0-2 2-3 2-5 1-5 1-5 1-5 0-5 0-5-1-5-1-5-1-5-2-5-2-4 0-1-3-5-2-4-1-1-4-5-5-4-1-1-4-3-3-2-2-1-5-3-2-1-3-2-5-1-5-2-1 0-4-1-5-2-4-2-1-1-5-1-5-2-5-1-5-4-2-1-2-5-1-2-1-3-1-5 0-5-1-5 0-5 0-5 0-5 1-5 0-5-1-5 0-5 0-5 0-5 1-5 1-5 1-4 1-1 3-5 1-2 5-3 2 0 3-1 5-1 5 1 5 0 1 1 4 0 5 1 5 1 5 1 5 1 2 1 3 0 5 1 5 1 5 1 5 1 2 1 3 0 5 1 5 0 5 0 5 1 5 0 5 0 5 0 5 0 5 0 5 0 5 0 5-1 5-1 4 0 1-1 5-1 5-2 5-1 1 0 4-2 5-2 3-1 2-1 5-3 2-1 3-2 5-3 0-1 5-4 1 0 4-5 1 0 4-5 4-5 1-2 3-3 2-4 1-1 3-5 1-4 1-1 1-5 2-5 1-5 1-5 1-5 1-5 1-5zM2151 857l5-2 5 0 5 0 5 1 3 2 2 1 4 4 1 1 1 4-1 5-3 5-2 2-3 3-2 1-5 1-5 1-5 0-5-1-5-2-5-5-2-5 0-5 2-3 2-2 3-3 3-2zM1976 1031l5 0 2 2 0 5-2 3-2 2-3 1-4-1-1-1-3-4 3-3 2-2zM1496 1217l5 0 5 0 5 0 5 0 5 1 5 0 5 1 5 2 5 1 2 1 3 1 5 2 5 1 0 1 5 3 4 2 1 0 5 3 3 2 2 1 5 4 5 4 1 1 4 4 1 1 4 3 1 2 3 5 1 1 2 4 3 5 3 5 1 5 1 3 1 2 1 5 0 5 0 5 0 5 0 5-1 5-1 1-2 4-2 5-1 2-1 3-3 5 0 5-1 1-5 3-2 1-3 0-5 2-4 3-1 0-5 2-5 2-2 1-3 1-5 0-5 3-1 1-4 0-5 1-5 2-5 2-5-1-5-3-5-1-5 0-3 0-2-1-5-1-5-1-5-2-2 0-3-1 0-4 0-5 0-5 0-5 0-5 0-5 0-5 0-5 0-5 0-5 0-5 0-5 0-5 0-5 0-5 0-5 0-5 0-5 0-5 0-5 0-5 0-5 0-5 0-5 0-5 0-5 0-5 0-5 0-1zM1651 1328zM1631 1337l5-2 3 3-3 2-3 3-2 0-3 0 2-5zM1511 1382l5-2 5 2 1 1 1 5-1 5-1 2-2 3-3 2-5 0-2-2-3-5 0-2 1-3 3-5z" fill="#62be68" fill-rule="evenodd" stroke="#111" stroke-width="3.4"/>
<path d="M2291 828l5 0 5 0 5 0 5 0 5 0 5 0 5 0 5 0 5 0 5 0 5 0 0 5 0 5 0 5 0 5 0 5 0 5 0 5 0 5 0 5 0 5 0 5 0 5 0 5 0 5 0 5 0 5 0 5 0 5 0 5 0 5 0 5 0 5 0 5 0 5 0 5 0 5 0 5 0 5 0 5 0 5 0 5 0 5 0 5 0 5 0 5 0 5 0 5 0 5 0 5 0 5 0 5 0 5 0 5 0 5 0 5 0 5 0 5 0 5 0 5 0 5 0 5 0 5 0 5 0 5 0 5 0 5 0 5 0 5 0 5 0 5 0 5 0 5 0 5 0 5 0 5 0 5 0 5 0 5 0 5 0 5 0 5 0 5 0 5 0 5 0 5 0 5 0 5 0 5 0 5 0 5 0 5 0 5 0 5 0 5 0 5 0 5 0 5 0 5 0 5 0 5 0 5 0 5 0 5 0 5 0 5 0 5 0 5 0 5 0 5 0 5 0 5 0 5 0 5 0 5 0 5 0 5 0 5 0 5 0 5 0 5 0 5 0 5 0 5 0 5 0 5 0 5 0 5 0 5 0 5 0 5 0 5 0 5 0 5 0 5 0 5 0 5 0 5 0 5 0 5 0 5 0 5 0 5 0 5 0 5 0 5 0 5 0 5 0 5 0 5 0 5 0 5 0 5 0 5-5 0-5 0-5 0-5 0-5 0-5 0-5 0-5 0-5 0-5 0-5 0-5 0-5 0-5 0-5 0-5 0-5 0-5 0-5 0-5 0-5 0-5 0-5 0-5 0-5 0-5 0-5 0-5 0-5 0-5 0-5 0-5 0-5 0-5 0-5 0-5 0-5 0-5 0-5 0-5 0-5 0-5 0-5 0-5 0-5 0-5 0-5 0-5 0-5 0-5 0-5 0-5 0-5 0-5 0-5 0-5 0-5 0-5 0-5 0-5 0-5 0-5 0-5 0-5 0-5 0-5 0-5 0-5 0-5 0-5 0-5 0-5 0-5 0-5 0-5 0-5 0-5 0-5 0-5 0-5 0-5 0-5 0-5 0-5 0-5 0-5 0-5 0-5 0-5 0-5 0-5 0-5 0-5 0-5 0-5 0-5 0-5 0-5 0-5 0-5 0-5 0-5 0-5 0-5 0-5 0-5 0-5 0-5 0-5 0-5 0-5 0-5 0-5 0-5 0-5 0-5 0-5 0-5 0-5 0-5 0-5 0-5 0-5 0-5 0-5 0-5 0-5 0-5 0-5 0-5 0-5 0-5 0-5 0-5 0-5 0-5 0-5 0-5 0-5 0-5 0-5 0-5 0-5 0-5 0-5 0-5 0-5 0-5 0-5 0-5 0-5 0-5 0-5 0-5 0-5 0-5 0-5 0-5 0-5 0-5 0-5 0-5 0-5 0-5 0-5 0-5 0-5 0-5 0-5 0-5 0-5 0 0-5 0-5 0-5 0-5 0-5 0-5 0-5 0-5 0-5 0-5 0-5 5 0 5 0 5 0 5 1 5 0 5 1 5 0 5 1 5 0 5 0 5 1 5 0 5 0 5 0 5 0 5 0 5-1 5 0 5 0 5 0 5-1 5 0 5-1 5 0 5-1 5 0 3 0 2-1 5 0 5-1 5 0 5 0 5-1 5 0 5 0 5 0 5 0 5-1 5 0 5 0 5-1 4 0 1-1 5 0 5-2 5-2 2 0 3-2 4-3 1-1 4-4 1-2 2-3 2-5 1-2 1-3 2-5 1-5 1-4 1-1 1-5 1-5 1-5 0-5 1-5 0-3 0-2 1-5 0-5 0-5 0-5 0-5 0-5 0-5 0-5-1-4 0-1-1-5-1-5-1-5-1-5-1-2-1-3-1-5-1-5-1-5-1-1-3-4-2-2-5-3-5-4-1-1-4-4-1-1-2-5 0-5 1-5 1-5 0-5 1-5 0-4 0-1 1-5 0-5 0-5 0-5 0-5-1-5 0-3 0-2 0-5-1-5-1-5-1-5-1-5-1-3-1-2-2-5-2-2-3-3-2-2-5-3-5-3-5-2-5-3-4-2-1-1-5-2-5-2-5-3-4-2-1-1-5-3-3-1-2-1-5-4-1 0-4-3-3-2-2-2-4-3-1-1-4-4-1-2-3-3-2-4-1-1-2-5-2-5-2-5-3-4-1-1-4-4-5-1-5-2-5-2-3-1-2-2-5-3-2-5 2-4 1-1 4-3 5-1 4-1 1-1 5-1 5-2 5-1 1 0 4-2 5-1 5-2 2 0 3-1 5-2 5-2 2 0 3-2 5-1 5-2 3 0 2-1 5-1 5-1 5-1 5-1 3 0 2-1 5-1 5-1 5 0 5-1 5 0 5 0 5-1 5 1 5 0 5 0 5-1 2 0 3-1 5-2 5-2 0-1 5-3 3-1 2-2 5-3 1 0 4-3 4-2 1-1 5-2 5-2 1 0 4-1 5-1 5 0 5 0 5 1 1 1 4 1 5 1 5 1 5 1 5 0 5 0 3 1 2 0 5 0 5 1 5 1 5 2 2 1 3 2 3 3 2 2 2 3 3 5 0 1 2 4 1 5 2 5 3 5 2 2 2 3 3 3 1 2 4 5 0 1 2 4 2 5 1 2 1 3 1 5 2 5 1 5 0 3 1 2 1 5 1 5 0 5 1 5 1 4 0 1 1 5 1 5 0 5 2 5 1 4 0 1 3 5 2 3 2 2 3 2 5 3 5 2 5 2 3 1 2 0 5 2 5 1 5 2 5 1 5 1 5 1 5 1 2 1 3 0 5 1 5 1 5 1 5 0 5 1 5 0 4 1 1 0 5 0 5 0 5 0 4 0 1 0 5-1 5-1 5-1 5-1 4-1 1-1 5-2 5-2 1 0 4-2 5-2 2-1 3-2 5-3 1 0 4-4 4-1 1-1 5-4 1 0 4-3 4-2 1-2 4-3 1-2 3-3 2-3 2-2 3-4 1-1 3-5 1-2 2-3 2-5 1-2 1-3 2-5 1-5 1-5 0-5 0-5 0-5 0-5-1-5 0-5-1-5 0-5-1-5-1-5-1-3 0-2-2-5-2-5-1-2-1-3-3-5-1-1-3-4-2-2-3-3-2-2-4-3-1-1-5-3-2-1-3-3-5-2-2 0-3-2-5-1-5-2-3 0-2-1-5-1-5-1-5-1-5 0-5-1-1 0-4-3-2-2-3-4 0-1-2-5-1-5-1-5 0-5 0-5 0-5 0-5 0-5 0-5 0-5 0-5 0-5 1-5 2-5 1-3 2-2 3-4 4-1 1-1 5-1 5 0 5 0 5 1 2 1 3 0 5 1 5 1 5 1 5 1 1 1 4 0 5 1 5 1 5 1 5 1 5 0 2 1 3 0 5 0 5 1 5 0 5 0 5 0 5 0 5 0 5 0 5-1 5 0 2 0 3-1 5-1 5-1 5-1 4-1 1-1 5-2 5-2 2 0 3-2 5-2 2-1 3-2 5-3 0-1 5-4 1 0 4-4 2-1 3-4 1-1 4-5 4-5 1-2 2-3 3-5 0-1 2-4 2-5 1-4 1-1 1-5 1-5 1-5 1-5 0-1 1-4 1-5zM1946 1027l5 0 1 1 0 5-1 1-5 3-5 0-2-4 2-3 3-2zM1496 1225l5 0 5 0 5 0 5 1 5 1 5 0 1 1 4 1 5 1 5 2 3 1 2 1 5 2 4 2 1 0 5 3 3 2 2 1 5 4 5 4 1 1 4 4 1 1 4 5 4 5 1 2 2 3 2 5 1 1 2 4 1 5 1 5 1 5 0 5-1 5-1 5-1 5-2 2-1 3-3 5-1 0-3 5-2 1-4 4-1 1-5 3-1 1-4 2-5 2-2 1-3 1-5 1-5 2-4 1-1 0-5 0-5 1-5 0-5-1-5 0-5 0-5-1-5-2-5-1-4-1-1-1-5-1 0-3 0-5 0-5 0-5 0-5 0-5 0-5 0-5 0-5 0-5 0-5 0-5 0-5 0-5 0-5 0-5 0-5 0-5 0-5 0-5 0-5 0-5 0-5 0-5 0-2z" fill="#5cba4c" fill-rule="evenodd" stroke="#111" stroke-width="3.4"/>
<path d="M2291 830l1-2 4 0 5 0 5 0 5 0 5 0 5 0 5 0 5 0 5 0 5 0 5 0 0 5 0 5 0 5 0 5 0 5 0 5 0 5 0 5 0 5 0 5 0 5 0 5 0 5 0 5 0 5 0 5 0 5 0 5 0 5 0 5 0 5 0 5 0 5 0 5 0 5 0 5 0 5 0 5 0 5 0 5 0 5 0 5 0 5 0 5 0 5 0 5 0 5 0 5 0 5 0 5 0 5 0 5 0 5 0 5 0 5 0 5 0 5 0 5 0 5 0 5 0 5 0 5 0 5 0 5 0 5 0 5 0 5 0 5 0 5 0 5 0 5 0 5 0 5 0 5 0 5 0 5 0 5 0 5 0 5 0 5 0 5 0 5 0 5 0 5 0 5 0 5 0 5 0 5 0 5 0 5 0 5 0 5 0 5 0 5 0 5 0 5 0 5 0 5 0 5 0 5 0 5 0 5 0 5 0 5 0 5 0 5 0 5 0 5 0 5 0 5 0 5 0 5 0 5 0 5 0 5 0 5 0 5 0 5 0 5 0 5 0 5 0 5 0 5 0 5 0 5 0 5 0 5 0 5 0 5 0 5 0 5 0 5 0 5 0 5 0 5 0 5 0 5 0 5 0 5 0 5 0 5 0 5 0 5 0 5 0 5 0 5 0 5 0 5 0 5 0 5 0 5 0 5 0 5-5 0-5 0-5 0-5 0-5 0-5 0-5 0-5 0-5 0-5 0-5 0-5 0-5 0-5 0-5 0-5 0-5 0-5 0-5 0-5 0-5 0-5 0-5 0-5 0-5 0-5 0-5 0-5 0-5 0-5 0-5 0-5 0-5 0-5 0-5 0-5 0-5 0-5 0-5 0-5 0-5 0-5 0-5 0-5 0-5 0-5 0-5 0-5 0-5 0-5 0-5 0-5 0-5 0-5 0-5 0-5 0-5 0-5 0-5 0-5 0-5 0-5 0-5 0-5 0-5 0-5 0-5 0-5 0-5 0-5 0-5 0-5 0-5 0-5 0-5 0-5 0-5 0-5 0-5 0-5 0-5 0-5 0-5 0-5 0-5 0-5 0-5 0-5 0-5 0-5 0-5 0-5 0-5 0-5 0-5 0-5 0-5 0-5 0-5 0-5 0-5 0-5 0-5 0-5 0-5 0-5 0-5 0-5 0-5 0-5 0-5 0-5 0-5 0-5 0-5 0-5 0-5 0-5 0-5 0-5 0-5 0-5 0-5 0-5 0-5 0-5 0-5 0-5 0-5 0-5 0-5 0-5 0-5 0-5 0-5 0-5 0-5 0-5 0-5 0-5 0-5 0-5 0-5 0-5 0-5 0-5 0-5 0-5 0-5 0-5 0-5 0-5 0-5 0-5 0-5 0-5 0-5 0-5 0-5 0-5 0-5 0-5 0-5 0-5 0-5 0-5 0-5 0-5 0-5 0-5 0-5 0 0-5 0-5 0-5 0-5 0-5 0-5 0-1 5-2 5-1 5-1 5 0 5 1 5 0 5 0 5 0 5 1 5 0 5 0 5 0 5 0 5 0 5 0 5 0 5 0 5 0 5 0 5 0 5-1 5 0 5 0 5 0 5-1 5 0 2 0 3-1 5 0 5-1 5 0 5 0 5-1 5-1 5 0 5-1 5 0 3 0 2-1 5 0 5-1 5 0 5-1 5 0 5-1 5-1 2 0 3-1 5-2 5-2 1 0 4-3 3-2 2-2 3-3 2-3 2-2 3-5 0-2 2-3 2-5 1-5 2-5 1-5 1-5 1-5 1-5 1-5 0-5 1-5 0-5 1-5 0-5 0-5 0-5 0-5 0-5 0-5 0-5 0-5-1-5 0-5-1-5-1-5-1-5-1-5-1-5-1-5-1-5-1-3-1-2-1-5-2-5-1-3-2-2-3-3-5-2-5-5 0-1 1-4 0-5 1-5 0-5 0-5 0-5-1-5 0-5 0-5 0-5-1-5 0-4 0-1 0-5 0-5-1-5 0-5-1-5-1-5-2-5-2-5-3-5-5-5-1 0-4-3-4-2-1-1-5-2-4-2-1-1-5-2-4-2-1-1-5-3-2-1-3-2-5-3-5-3-3-2-2-1-5-4-1 0-4-3-3-2-2-2-4-3-1-1-5-4-4-5-1-1-3-4-2-3-1-2-3-5-1-3 0-2-1-5 1-4 1-1 3-5 1-2 4-3 1-1 5-4 1 0 4-3 5-2 0-1 5-2 5-2 3 0 2-1 5-2 5-1 5-1 1 0 4-1 5-1 5-1 5-2 4 0 1-1 5 0 5-1 5 0 5 0 5 0 5-1 5-1 5-1 1 0 4-2 5-2 2-1 3-2 5-3 0-1 5-3 3-1 2-2 5-2 3-1 2-1 5-1 5-1 5 0 5 1 4 2 1 0 5 2 5 2 3 1 2 0 5 0 5 1 5 0 5 0 5 2 5 2 5 3 1 2 4 4 0 1 3 5 2 3 1 2 3 5 1 2 2 3 3 5 0 1 3 4 2 5 2 5 2 5 1 4 0 1 2 5 1 5 1 5 0 5 1 4 0 1 1 5 1 5 1 5 1 5 0 5 1 5 0 1 1 4 0 5 1 5 2 5 1 5 3 5 2 2 3 3 2 1 5 3 2 1 3 1 5 1 5 2 3 1 2 0 5 1 5 1 5 1 5 1 4 1 1 0 5 1 5 1 5 0 5 1 5 1 5 0 1 1 4 0 5 1 5 0 5 1 5 0 5 0 5 0 5 0 5 0 5 0 5 0 5 0 5 0 5-1 5 0 5-1 2 0 3-1 5-1 5-2 5-1 2 0 3-2 2 2 3 2 3 3 2 1 5 1 5-1 5-1 1 0 4-3 3-2 2-3 2-2 3-5 0-1 1-4 0-5 0-5 4-4 1-1 4-5 1 0 3-5 1-2 2-3 3-5 0-1 3-4 1-5 1-5 1-5 1-5 0-5 1-5 0-5 0-5 0-5-1-5 0-5 0-5-1-5 0-5-1-5 0-2 0-3-1-5 0-5-1-5-2-5-1-4 0-1-2-5-2-5-1-1-2-4-3-4 0-1-4-5-1-1-4-4-1-1-5-4-5-4-2-1-3-2-5-2-2-1-3-1-5-2-5-2-5-1-5-2-5 0-5-1-5 0-5 0-5 0-5 0-2-1-3-2-2-3-3-5-1-5 0-5 0-5 0-5 0-5 0-5 0-5 0-5 0-5 1-5 0-1 1-4 3-5 1-2 4-3 1-1 5-2 5 0 5 0 5 1 5 1 2 1 3 0 5 1 5 1 5 1 5 1 2 1 3 0 5 1 5 1 5 1 5 0 5 1 5 0 5 0 5 0 4 1 1 0 5 0 5 0 5 0 1 0 4-1 5 0 5 0 5-1 5-1 5-1 5-1 5-2 5-2 5-1 0-1 5-2 5-2 1 0 4-3 4-2 1-1 5-4 1 0 4-4 2-1 3-4 2-1 3-4 1-1 4-5 0-1 3-4 2-3 1-2 3-5 1-4 1-1 1-5 2-5 1-5 0-1 1-4 1-5 1-5 1-5zM2116 1181l5 0 5 0 4 2 1 2 5 3-5 4 0 1-5 4 0 1-5 2-4 3-1 0-5 3-5 1-3 1-2 1-2-1-2-5 0-5 2-5 2-2 3-3 2-2 5-3 1 0zM1496 1235l5-1 5 0 5 1 5 0 5 1 5 1 3 1 2 0 5 2 5 2 2 1 3 1 5 3 2 1 3 2 5 3 5 4 1 1 4 4 1 1 4 5 4 5 1 2 1 3 3 5 1 4 0 1 1 5 1 5-1 5-1 5-1 5-3 5-1 1-2 4-3 2-2 3-3 2-4 3-1 0-5 3-4 2-1 0-5 1-5 2-5 1-5 0-5 0-5 0-5 0-5-1-5-1-5-1-5-1-5-2-5-2 0-1 0-5 0-5 0-5 0-5 0-5 0-5 0-5 0-5 0-5 0-5 0-5 0-5 0-5 0-5 0-5 0-5 0-5 0-5 0-5 0-3z" fill="#60b844" fill-rule="evenodd" stroke="#111" stroke-width="3.4"/>
<path d="M2296 828l5 0 5 0 5 0 5 0 5 0 5 0 5 0 5 0 5 0 5 0 0 5 0 5 0 5 0 5 0 5 0 5 0 5 0 5 0 5 0 5 0 5 0 5 0 5 0 5 0 5 0 5 0 5 0 5 0 5 0 5 0 5 0 5 0 5 0 5 0 5 0 5 0 5 0 5 0 5 0 5 0 5 0 5 0 5 0 5 0 5 0 5 0 5 0 5 0 5 0 5 0 5 0 5 0 5 0 5 0 5 0 5 0 5 0 5 0 5 0 5 0 5 0 5 0 5 0 5 0 5 0 5 0 5 0 5 0 5 0 5 0 5 0 5 0 5 0 5 0 5 0 5 0 5 0 5 0 5 0 5 0 5 0 5 0 5 0 5 0 5 0 5 0 5 0 5 0 5 0 5 0 5 0 5 0 5 0 5 0 5 0 5 0 5 0 5 0 5 0 5 0 5 0 5 0 5 0 5 0 5 0 5 0 5 0 5 0 5 0 5 0 5 0 5 0 5 0 5 0 5 0 5 0 5 0 5 0 5 0 5 0 5 0 5 0 5 0 5 0 5 0 5 0 5 0 5 0 5 0 5 0 5 0 5 0 5 0 5 0 5 0 5 0 5 0 5 0 5 0 5 0 5 0 5 0 5 0 5 0 5 0 5 0 5 0 5 0 5 0 5 0 5 0 5 0 5-5 0-5 0-5 0-5 0-5 0-5 0-5 0-5 0-5 0-5 0-5 0-5 0-5 0-5 0-5 0-5 0-5 0-5 0-5 0-5 0-5 0-5 0-5 0-5 0-5 0-5 0-5 0-5 0-5 0-5 0-5 0-5 0-5 0-5 0-5 0-5 0-5 0-5 0-5 0-5 0-5 0-5 0-5 0-5 0-5 0-5 0-5 0-5 0-5 0-5 0-5 0-5 0-5 0-5 0-5 0-5 0-5 0-5 0-5 0-5 0-5 0-5 0-5 0-5 0-5 0-5 0-5 0-5 0-5 0-5 0-5 0-5 0-5 0-5 0-5 0-5 0-5 0-5 0-5 0-5 0-5 0-5 0-5 0-5 0-5 0-5 0-5 0-5 0-5 0-5 0-5 0-5 0-5 0-5 0-5 0-5 0-5 0-5 0-5 0-5 0-5 0-5 0-5 0-5 0-5 0-5 0-5 0-5 0-5 0-5 0-5 0-5 0-5 0-5 0-5 0-5 0-5 0-5 0-5 0-5 0-5 0-5 0-5 0-5 0-5 0-5 0-5 0-5 0-5 0-5 0-5 0-5 0-5 0-5 0-5 0-5 0-5 0-5 0-5 0-5 0-5 0-5 0-5 0-5 0-5 0-5 0-5 0-5 0-5 0-5 0-5 0-5 0-5 0-5 0-5 0-5 0-2 0 2-1 5 0 5-1 5-1 5-2 4 0 1-1 5-1 5-1 5-1 5-1 4 0 1-1 5 0 5-1 5-1 5-1 5-1 1 0 4-1 5-1 5-1 5-1 5-1 2 0 3-1 5-1 5-1 5-2 3 0 2-1 5-1 5 0 5 0 5 0 5 0 5 0 5 0 5 0 5 0 5-1 5-2 2 0 3-3 3-2 2-3 2-2 3-5 0-1 2-4 3-5 0-1 2-4 2-5 1-3 1-2 2-5 1-5 1-3 1-2 1-5 1-5 0-5 0-5 1-5 0-5 0-5 0-5 0-5 0-5 0-5 0-5 1-5 0-5 0-5 0-2 0-3 0-1 0-4-1-5-1-5-2-5-1-3-1-2-2-5-2-5-1-5-2-5-2-4 0-1-3-5-2-3-1-2-4-4 0-1-3-5 0-5-1-5 0-5 0-5 0-5 1-5 0-5 0-5 0-5-1-5 0-5 0-5 0-5-1-5 0-5 0-5-1-5-1-5 0-5-1-5-2-4 0-1 0-5-1-5-4-5-4-5-1-1-3-4-2-3-2-2-3-3-3-2-2-2-4-3-1-1-5-4-1 0-4-3-3-2-2-1-5-4-1 0-4-3-3-2-2-2-5-3-1 0-4-3-3-2-2-2-3-3-2-2-3-3-2-3-1-2-3-5-1-4 0-1 0-2 1-3 3-5 1-1 5-4 5-4 3-1 2-2 5-3 1 0 4-2 5-3 1 0 4-2 5-2 3-1 2-1 5-2 5-1 5 0 5-1 5 0 5 0 3 0 2-1 5-1 5-3 1 0 4-3 5-2 0-1 5-3 3-1 2-2 5-3 1 0 4-2 5-2 5 0 5 0 5 2 5 2 5 1 5 2 5 1 5 0 5 1 1 0 4 0 5 2 5 3 5 5 4 5 1 2 1 3 3 5 1 2 2 3 2 5 1 1 2 4 2 5 1 4 1 1 1 5 1 5 1 5 1 5 0 3 0 2 1 5 1 5 0 5 1 5 1 5 0 5 1 5 0 5 0 5 0 4 0 1 0 5 1 5 1 5 2 5 1 3 1 2 4 4 1 1 4 2 4 3 1 0 5 2 5 2 4 1 1 0 5 1 5 1 5 1 5 1 1 1 4 0 5 1 5 1 5 1 5 1 5 0 1 1 4 0 5 1 5 0 5 1 5 0 5 1 5 0 5 0 5 1 5 0 5 0 5 0 5 0 5 0 5 0 5 0 5 0 5 0 5 0 5 0 5 0 5 0 5 0 5 1 5 0 5 1 5 1 5-1 5 0 3-1 2-1 5-2 3-2 2-1 5-4 1 0 4-4 2-1 3-3 2-2 3-4 2-1 3-4 1-1 4-5 0-1 4-4 1-2 3-3 2-3 3-2 2-2 5-3 0-1 5-3 3-1 2-1 5-3 3-1 2-2 4-3 1-1 2-4 1-5 1-5 1-5 0-5 1-5 1-5 1-5 2-5 0-1 2-4 2-5 1-3 1-2 2-5 2-5 0-1 2-4 1-5 2-5 0-3 1-2 0-5 1-5-1-5-1-5-2-5-3-4-1-1-4-5-5-4-1-1-4-3-4-2-1-1-5-2-5-2-1 0-4-2-5 0-5-1-5 0-5 1-5-1-5 0-5-2-1 0-4-1-5-3-3-1-2-1-5-2-5-2-5-2-5-2-2-1-3-1-5-2-5-2-5-2-5-2-5-1-5-1-5 0-5 0-4 1-1 0-1 0-4-1-5-3-1-1-1-5-1-5 1-5 0-5 0-5 0-5 0-5 0-5 0-5 1-5 1-4 1-1 3-5 1-1 5-3 5-1 5 1 5 1 5 1 5 1 1 1 4 1 5 1 5 0 5 1 5 1 3 1 2 0 5 1 5 1 5 0 5 1 5 0 5 0 5 0 5 1 5 0 5 0 5 0 5-1 5 0 5 0 5-1 5-1 5-1 1 0 4-1 5-2 5-1 3-1 2-1 5-2 5-2 0-1 5-2 4-2 1-1 5-3 1-1 4-4 2-1 3-3 2-2 3-3 2-2 3-4 1-1 4-5 0-1 3-4 2-5 2-5 2-5 1-4 1-1 1-5 1-5 1-5 1-5 0-2 1-3 2-5zM2111 1186l5 0 4 2 1 5-5 5-5 2-5-1-1-1 0-5 1-2 3-3zM1496 1244l5 0 5-1 5 1 5 0 5 1 5 1 4 2 1 0 5 2 5 2 1 1 4 2 4 3 1 1 5 4 5 5 4 5 1 2 2 3 2 5 1 3 1 2 0 5 0 5 0 5-1 1-1 4-3 5-1 1-3 4-2 1-4 4-1 0-5 2-5 2 0 1-5 1-5 1-5 0-5 1-5-1-5 0-5-1-5-1-1 0-4-2-5-1-4-2-1-1 0-4 0-5 0-5 0-5 0-5 0-5 0-5 0-5 0-5 0-5 0-5 0-5 0-5 0-5 0-5 0-3zM1511 1537l5-1 5 0 5 1 5 1 5 1 5 1 5 1 5 1 5 1-5 0-5 0-5 0-5 0-5 0-5 0-5 0-5 0-5 0-5 0-5 0-5 0 0-1 5-2 5-2 2 0z" fill="#6cbc40" fill-rule="evenodd" stroke="#111" stroke-width="3.4"/>
<path d="M2301 828l1 0 4 0 5 0 5 0 5 0 5 0 5 0 5 0 5 0 5 0 0 5 0 5 0 5 0 5 0 5 0 5 0 5 0 5 0 5 0 5 0 5 0 5 0 5 0 5 0 5 0 5 0 5 0 5 0 5 0 5 0 5 0 5 0 5 0 5 0 5 0 5 0 5 0 5 0 5 0 5 0 5 0 5 0 5 0 5 0 5 0 5 0 5 0 5 0 5 0 5 0 5 0 5 0 5 0 5 0 5 0 5 0 5 0 5 0 5 0 5 0 5 0 5 0 5 0 5 0 5 0 5 0 5 0 5 0 5 0 5 0 5 0 5 0 5 0 5 0 5 0 5 0 5 0 5 0 5 0 5 0 5 0 5 0 5 0 5 0 5 0 5 0 5 0 5 0 5 0 5 0 5 0 5 0 5 0 5 0 5 0 5 0 5 0 5 0 5 0 5 0 5 0 5 0 5 0 5 0 5 0 5 0 5 0 5 0 5 0 5 0 5 0 5 0 5 0 5 0 5 0 5 0 5 0 5 0 5 0 5 0 5 0 5 0 5 0 5 0 5 0 5 0 5 0 5 0 5 0 5 0 5 0 5 0 5 0 5 0 5 0 5 0 5 0 5 0 5 0 5 0 5 0 5 0 5 0 5 0 5 0 5 0 5 0 5 0 5 0 5 0 5 0 5 0 5-5 0-5 0-5 0-5 0-5 0-5 0-5 0-5 0-5 0-5 0-5 0-5 0-5 0-5 0-5 0-5 0-5 0-5 0-5 0-5 0-5 0-5 0-5 0-5 0-5 0-5 0-5 0-5 0-5 0-5 0-5 0-5 0-5 0-5 0-5 0-5 0-5 0-5 0-5 0-5 0-5 0-5 0-5 0-5 0-5 0-5 0-5 0-5 0-5 0-5 0-5 0-5 0-5 0-5 0-5 0-5 0-5 0-5 0-5 0-5 0-5 0-5 0-5 0-5 0-5 0-5 0-5 0-5 0-5 0-5 0-5 0-5 0-5 0-5 0-5 0-5 0-5 0-5 0-5 0-5 0-5 0-5 0-5 0-5 0-5 0-5 0-5 0-5 0-5 0-5 0-5 0-5 0-5 0-5 0-5 0-5 0-5 0-5 0-5 0-5 0-5 0-5 0-5 0-5 0-5 0-5 0-5 0-5 0-5 0-5 0-5 0-5 0-5 0-5 0-5 0-5 0-4 0 4-2 5-3 0-1 5-4 4-5 1-3 2-2 2-5 1-3 1-2 2-5 2-5 0-1 3-4 2-4 2-1 3-4 2-1 3-4 2-1 3-3 3-2 2-3 3-2 2-3 2-2 3-4 1-1 3-5 1-2 2-3 3-4 1-1 4-5 0-1 3-4 2-3 1-2 2-5 2-5 0-2 1-3 1-5 2-5 1-2 1-3 2-5 2-5 0-1 2-4 1-5 1-5 1-5 0-1 1-4 1-5 1-5 1-5 1-5 0-1 1-4 2-5 1-5 1-3 1-2 2-5 1-5 1-3 1-2 1-5 1-5 1-5 1-5 0-5-1-5-2-5-2-4-1-1-4-3-5-1-4-1-1 0-5-1-5 0-5 0-5 0-1 1-4 0-5 2-5 2-3 1-2 1-5 2-5 1 0 1-5 1-5 2-5 1-3 1 2 5 1 1 2 4-2 5-5 4-1 1-4 1-5-1-3 0-2-1-4-4 1-5 2-5 1-2 5-3 5 0 3 0-3-2-1-3-4-3-2-2-3-4-1-1-2-5-2-3-1-2-1-5-2-5-1-5-1-5-1-5-1-5 0-5-1-5-1-2-1-3-1-5 0-5-2-5 0-5-1-3 0-2-3-5-1-5-1-1-3-4-2-5-4-5-1-1-5-4-4-5-1-1-4-4-1-1-4-4-1-1-5-4-5-5-4-5-1-1-3-4-2-3-2-2-3-5 0-1-1-4 1-5 0-1 2-4 3-4 2-1 3-3 3-2 2-2 5-3 2 0 3-2 5-1 5-1 5 0 4-1 1-1 5-2 3-2 2-1 5-4 1 0 4-3 4-2 1-1 5-3 3-1 2-2 5-2 5 0 5 0 5 2 5 1 3 1 2 0 5 1 5 1 5 0 5 1 5 1 1 1 4 3 1 2 4 5 0 1 2 4 2 5 1 2 2 3 2 5 1 3 1 2 2 5 1 5 1 5 0 1 1 4 1 5 0 5 1 5 0 5 1 5 0 5 0 5 1 5 0 5 0 4 0 1 0 5 0 5 0 5 0 1 0 4 0 5 1 5 0 5 2 5 2 3 1 2 4 4 1 1 4 3 4 2 1 0 5 2 5 1 4 2 1 0 5 1 5 1 5 1 5 1 5 1 5 1 5 0 5 1 5 1 5 1 5 0 3 1 2 0 5 1 5 0 5 1 5 0 5 1 5 0 5 0 5 1 5 0 5 0 5 0 4 1 1 0 5 0 5 0 5 0 5 0 5 0 5 0 5 0 5 1 5 0 5 0 5 0 5 2 4 2 1 0 5 3 5 1 2 1 3 0 2 0 3-1 5-2 3-2 2-2 5-3 0-1 5-4 1 0 4-4 2-1 3-3 3-2 2-2 5-3 0-1 5-4 1 0 4-3 3-2 2-2 4-3 1-1 5-4 0-1 5-4 0-1 5-4 5-5 1 0 4-4 2-1 3-3 2-2 3-4 1-1 4-5 0-1 3-4 2-4 1-1 2-5 2-5 1 0 2-5 2-3 2-2 3-5 4-5 1-1 4-4 1-2 2-3 3-5 1 0 2-5 2-4 1-1 2-5 2-5 2-5 3-5 0-2 1-3 2-5 2-5 0-3 1-2 1-5 1-5 1-5 1-5 0-3 1-2 1-5 0-5 1-5-1-5-2-4-2-1-3-2-5 0-5 1-4 1-1 0-5 1-5 1-5 0-5-1-5 0-5-1-2 0-3-1-5 0-5-1-5 0-5-1-5 0-5 0-5-1-5 0-5 0-5 0-5 0-5 0-5-1-1 0-4-1-5-1-5-2-5-1-1 0-4-2-5-1-5-2-5-2-5-3-1 0-4-3-4-2-1-1-5-3-5 0-5 0-5 1-5 1-5 0-3-3 0-5 0-5 0-5 0-5 0-5 0-5 0-5 1-5 1-5 1-4 1-1 4-4 5-1 5 1 5 1 5 2 5 0 1 1 4 1 5 1 5 1 5 1 5 0 2 1 3 1 5 0 5 1 5 0 5 1 5 0 5 0 5 1 5 0 5 0 5 0 5 0 5 0 5-1 5 0 5-1 5-1 5-1 1 0 4-1 5-1 5-2 4-1 1-1 5-1 5-3 2 0 3-2 5-3 1 0 4-3 3-2 2-2 4-3 1-2 4-3 1-2 3-3 2-2 3-3 2-3 2-2 3-5 0-1 3-4 2-5 0-1 2-4 1-5 2-5 0-3 1-2 1-5 1-5 1-5 1-5 0-1 3-4zM2111 1191l3 2-3 1-1-1zM1496 1254l5-1 5 0 5 0 5 0 5 2 5 1 4 2 1 0 5 3 3 2 2 1 5 4 4 5 1 1 2 4 3 5 0 1 1 4 0 5 0 5-1 1-1 4-4 5-5 4 0 1-5 2-5 2-2 1-3 0-5 1-5 0-5 0-5-1-1 0-4-1-5-2-5-2-5-3 0-2 0-5 0-5 0-5 0-5 0-5 0-5 0-5 0-5 0-5 0-5 0-3zM1811 1395l5-1 5 2 2 2 3 5 0 3 1 2-1 5-2 5-3 3-5 1-5-1-2-3-3-5 0-5 0-5 3-5zM1681 1542l5-1 5-1 5-1 5 0 5 0 5 1 5 1 5 1 4 1-4 0-5 0-5 0-5 0-5 0-5 0-5 0-5 0-5 0-1 0z" fill="#80c040" fill-rule="evenodd" stroke="#111" stroke-width="3.4"/>
<path d="M2306 832l4-4 1 0 5 0 5 0 5 0 5 0 5 0 5 0 5 0 0 5 0 5 0 5 0 5 0 5 0 5 0 5 0 5 0 5 0 5 0 5 0 5 0 5 0 5 0 5 0 5 0 5 0 5 0 5 0 5 0 5 0 5 0 5 0 5 0 5 0 5 0 5 0 5 0 5 0 5 0 5 0 5 0 5 0 5 0 5 0 5 0 5 0 5 0 5 0 5 0 5 0 5 0 5 0 5 0 5 0 5 0 5 0 5 0 5 0 5 0 5 0 5 0 5 0 5 0 5 0 5 0 5 0 5 0 5 0 5 0 5 0 5 0 5 0 5 0 5 0 5 0 5 0 5 0 5 0 5 0 5 0 5 0 5 0 5 0 5 0 5 0 5 0 5 0 5 0 5 0 5 0 5 0 5 0 5 0 5 0 5 0 5 0 5 0 5 0 5 0 5 0 5 0 5 0 5 0 5 0 5 0 5 0 5 0 5 0 5 0 5 0 5 0 5 0 5 0 5 0 5 0 5 0 5 0 5 0 5 0 5 0 5 0 5 0 5 0 5 0 5 0 5 0 5 0 5 0 5 0 5 0 5 0 5 0 5 0 5 0 5 0 5 0 5 0 5 0 5 0 5 0 5 0 5 0 5 0 5 0 5 0 5 0 5 0 5 0 5 0 5 0 5 0 5-5 0-5 0-5 0-5 0-5 0-5 0-5 0-5 0-5 0-5 0-5 0-5 0-5 0-5 0-5 0-5 0-5 0-5 0-5 0-5 0-5 0-5 0-5 0-5 0-5 0-5 0-5 0-5 0-5 0-5 0-5 0-5 0-5 0-5 0-5 0-5 0-5 0-5 0-5 0-5 0-5 0-5 0-5 0-5 0-5 0-5 0-5 0-5 0-5 0-5 0-5 0-5 0-5 0-5 0-5 0-5 0-5 0-5 0-5 0-5 0-5 0-5 0-5 0-5 0-5 0-5 0-5 0-5 0-5 0-5 0-5 0-5 0-5 0-5 0-5 0-5 0-5 0-5 0-5 0-5 0-5 0-5 0-5 0-5 0-5 0-5 0-5 0-5 0-5 0-5 0-5 0-5 0-5 0-5 0-5 0-5 0-5 0-5 0-5 0-5 0-5 0-5 0-5 0-5 0-5 0-5 0-5 0-5 0-1 0 1-2 3-3 2-3 2-2 3-4 1-1 4-5 1 0 4-5 0-1 5-4 0-1 4-4 1-1 4-4 1-2 4-3 1-2 3-3 2-3 2-2 3-5 1 0 3-5 1-2 2-3 3-5 0-1 2-4 3-5 0-2 2-3 1-5 2-5 0-1 1-4 1-5 1-5 1-5 1-5 1-5 1-5 1-5 1-5 1-5 0-2 1-3 1-5 1-5 1-5 1-4 1-1 1-5 1-5 2-5 0-2 1-3 2-5 1-5 1-4 1-1 1-5 1-5 2-5 0-4 1-1 1-5 0-5 1-5 0-5 0-5-1-5-1-5-1-4 0-1-2-5-3-5-4-5-1-1-5-4-5-4-4-1-1-1-5-2-5 0-5-1-5 0-5 0-5 0-5 1-5 1-5 1-1 1-4 0-5 2-5 1-5 0-5 1-5 0-5-1-5-1-4-2-1-1-5-3-1-1-4-5-3-5-2-5-1-5-1-5-3-4 0-1-2-5 0-5-2-5-1-3 0-2-1-5-2-5-1-5-1-2-1-3-1-5 1-5 1-4 0-1 0-1-3-4-2-4-2-1-3-4-1-1-4-4-1-1-4-5 0-1-4-4-1-2-2-3-3-4-1-1-1-5-1-5 2-5 1-2 3-3 2-2 5-3 5-2 5-3 1 0 4-3 4-2 1-1 5-4 1 0 4-3 4-2 1-1 5-2 5-2 4 0 1-1 5 0 4 1 1 0 5 0 5 1 5 0 5 0 5 0 5 1 3 3 2 5 2 5 1 5 2 4 0 1 2 5 2 5 1 2 1 3 1 5 1 5 1 5 1 5 0 4 0 1 1 5 0 5 1 5 0 5 0 5 1 5 0 5 0 5-1 5 0 5-1 5 0 5-1 2 0 3 0 5 0 5 1 5 3 5 1 2 2 3 3 3 2 2 3 3 3 2 2 2 5 2 2 1 3 2 5 2 5 0 2 1 3 1 5 1 5 1 5 0 5 1 5 1 1 0 4 0 5 1 5 1 5 0 5 1 5 0 5 1 5 0 5 0 3 1 2 0 5 0 5 0 5 1 5 0 5 0 5 0 5 1 5 0 5 0 5 0 5 0 5 1 5 0 5 0 5 0 5 0 5 2 5 5 0 3 0 2-1 5-4 4 0 1-5 4 0 1-5 3-2 2-3 2-3 3-2 1-3 4-2 3-1 2-1 5 1 5 1 3 1 2 4 5 5 3 3 2 2 0 5 1 5-1 1 0 4-3 3-2 2-2 5-3 0-1 5-4 5-5 5-5 5-5 0-1 5-4 5-5 1 0 4-4 2-1 3-2 5-3 0-1 5-4 1 0 2-5 1-5 1-3 1-2 3-5 1-2 3-3 2-3 2-2 3-4 2-1 3-3 4-2 1-1 5-3 2-1 3-2 5-2 3-1 2-2 5-2 5-1 0-1 5 0 5 0 5 0 5-4 3-5 2-2 2-3 2-5-1-5 0-5 1-5 1-5 3-5 2-5 4-5 1-2 3-3 2-4 2-1 3-4 2-1 3-4 2-1 3-3 3-2 2-2 4-3 1-2 3-3 2-3 2-2 2-5 1-3 1-2 2-5 2-5 1 0 2-5 2-5 0-1 2-4 2-5 1-3 1-2 1-5 1-5 1-5 0-5 1-5 0-3 0-2 1-5 0-5 1-5 0-5 0-5 1-5 0-5-1-5 0-5-1-5-1-5-1-5-2-5-1-5-1-2-3-3-2-2-5-2-4-1-1-1-1 1-1 5-1 5-2 5-3 5-2 1-5 4-5 2-5 2-4 1-1 0-5 1-5 1-5 0-5 1-5 0-5 1-5 0-5 0-5 0-5 0-5 1-5-1-5 0-5 0-5-1-5 0-5 0-5-1-5-1-5 0-5-1-1 0-4-1-5-2-5-2-1 0-4-3-4-2-1-1-2-4 1-5 1-2 4-3 1-1 5-4 2 0 3-3 5-1 3-1 2-2 5-2 5-1 5-1 5-1 5 0 5 0 5 1 5 0 5 1 5 0 5 1 5 0 5 1 5 1 5 0 5 0 5 1 5 0 5 0 5 1 2 0 3 0 5 0 5 0 5 1 5 0 5 1 2-2 0-5-2-5 0-1-1-4-2-5-2-4 0-1 0-4 0-1 4-5 1-2 3-3 2-2 3-3 2-2 3-3 2-3 2-2 3-4 2-1 3-5 1 0 4-5 0-1 3-4 2-5 0-2 2-3 1-5 2-5 0-3 1-2 1-5 1-5 0-5 1-5 1-4 1-1 4-5zM1776 1173l-2 5 1 5 1 5 0 1 3 4 1 5 1 5 0 1 5 4 1 0 1-5 1-5-1-5 0-5-1-5-1-1-2-4-3-3-4-2-1-1zM2071 936l5 1 3 1 2 1 5 3 1 1-1 3 0 2-5 2-5 3-5 4-5-2 0-2-1-5 1-5 0-2 3-3zM1501 1262l5 0 5 0 4 1 1 0 5 1 5 2 2 2 3 2 4 3 1 1 3 4 2 4 0 1 1 5 0 5-1 1-1 4-4 3-1 2-4 2-5 1-5 1-5 0-5 0-5-1-5-2-2-1-3-2-4-3-1-1 0-4 0-5 0-5 0-5 0-5 0-5 0-1 5-3 5-1z" fill="#92c342" fill-rule="evenodd" stroke="#111" stroke-width="3.4"/>
<path d="M2326 828l1 0 4 0 5 0 5 0 5 0 0 5 0 5 0 5 0 5 0 5 0 5 0 5 0 5 0 5 0 5 0 5 0 5 0 5 0 5 0 5 0 5 0 5 0 5 0 5 0 5 0 5 0 5 0 5 0 5 0 5 0 5 0 5 0 5 0 5 0 5 0 5 0 5 0 5 0 5 0 5 0 5 0 5 0 5 0 5 0 5 0 5 0 5 0 5 0 5 0 5 0 5 0 5 0 5 0 5 0 5 0 5 0 5 0 5 0 5 0 5 0 5 0 5 0 5 0 5 0 5 0 5 0 5 0 5 0 5 0 5 0 5 0 5 0 5 0 5 0 5 0 5 0 5 0 5 0 5 0 5 0 5 0 5 0 5 0 5 0 5 0 5 0 5 0 5 0 5 0 5 0 5 0 5 0 5 0 5 0 5 0 5 0 5 0 5 0 5 0 5 0 5 0 5 0 5 0 5 0 5 0 5 0 5 0 5 0 5 0 5 0 5 0 5 0 5 0 5 0 5 0 5 0 5 0 5 0 5 0 5 0 5 0 5 0 5 0 5 0 5 0 5 0 5 0 5 0 5 0 5 0 5 0 5 0 5 0 5 0 5 0 5 0 5 0 5 0 5 0 5 0 5 0 5 0 5 0 5 0 5 0 5 0 5 0 5-5 0-5 0-5 0-5 0-5 0-5 0-5 0-5 0-5 0-5 0-5 0-5 0-5 0-5 0-5 0-5 0-5 0-5 0-5 0-5 0-5 0-5 0-5 0-5 0-5 0-5 0-5 0-5 0-5 0-5 0-5 0-5 0-5 0-5 0-5 0-5 0-5 0-5 0-5 0-5 0-5 0-5 0-5 0-5 0-5 0-5 0-5 0-5 0-5 0-5 0-5 0-5 0-5 0-5 0-5 0-5 0-5 0-5 0-5 0-5 0-5 0-5 0-5 0-5 0-5 0-5 0-5 0-5 0-5 0-5 0-5 0-5 0-5 0-5 0-5 0-5 0-5 0-5 0-5 0-5 0-5 0-5 0-5 0-5 0-5 0-5 0-5 0-5 0-5 0-5 0-5 0-5 0-5 0-5 0-5 0-5 0-5 0-5 0-5 0-5 0-2 0 2-3 2-2 3-4 2-1 3-5 1 0 4-5 0-1 4-4 1-2 3-3 2-4 1-1 4-5 0-1 3-4 2-5 1 0 2-5 2-4 1-1 2-5 2-5 0-1 2-4 1-5 2-5 0-2 1-3 1-5 1-5 1-5 0-5 1-5 0-3 0-2 1-5 1-5 0-5 1-5 1-5 1-5 0-2 1-3 2-5 1-5 1-4 1-1 2-5 2-5 0-2 2-3 2-5 1-3 1-2 3-5 1-4 1-1 2-5 2-5 1 0 2-5 2-5 4-5 1-2 5-1 5 2 1 1 4 2 3 3 2 1 5 2 3 2 2 0 5 2 5 1 5 0 5 1 3 1 2 0 5 1 5 2 4 2 1 0 5 3 4 2 1 0 5 3 4 2 1 0 5 2 5 1 5 0 5 0 5-2 5-1 0-1 5-2 3-2 2-2 5-3 5-4 2-1 3-4 2-1 3-4 2-1 3-4 1-1 4-4 1-1 4-4 2-1 3-3 3-2 2-2 5-3 0-1 5-3 2-1 3-3 3-2 2-5 1 0 1-5 2-5 1-2 2-3 3-5 1 0 4-5 1 0 4-4 2-1 3-3 5-2 0-1 5-2 4-2 1-1 5-3 3-1 2-1 5-3 2-1 3-2 5-2 4-1 1-1 5 0 5-2 3-2 1-5 0-5 0-5 1-5 0-2 2-3 2-5 1-3 2-2 2-5 1-2 3-3 2-4 1-1 4-5 5-5 5-5 5-5 1 0 4-4 1-1 4-5 1 0 3-5 1-2 2-3 2-5 1-3 1-2 3-5 1-4 1-1 2-5 2-5 3-5 2-5 0-2 1-3 2-5 1-5 1-5 0-4 1-1 1-5 3-5 0-2 1-3-1-4 0-1-2-5 0-5 0-5 1-5 0-5 0-5 0-5 1-5 0-4 0-1 1-5 1-5 2-5 1-5 2-5 1-5 0-5 0-5 0-5-2-5-1-3-1-2-4-5-5-4-2-1-3-2-5-3-1 0-1-5 2-5 0-1 4-4 1-1 5-3 3-1 2-1 5-2 4-2 1-5-2-5-2-5 0-5 0-5 2-5 1-5 1-5 1-5-1-3 0-2 0-5 0-2 2-3 3-5 5-5 1 0zM2151 971l5-2 5 0 5-1 5 1 5 0 5 1 5 1 5 0 5 1 5 0 2 1 3 1 5 1 5 2 2 1 3 5-5 3-1 2-4 1-5 2-2 2-3 0-5 1-5 1-5 0-5 1-5 0-5 0-5 0-5 0-5-2-5-1-1 0-4-3-4-2-1-2-4-3 4-5 5-4 2-1zM1776 1090l5 0 5 0 5 2 3 1 2 1 5 2 3 2 2 1 5 4 5 5 4 5 1 1 2 4 3 5 3 5 2 5 0 1 1 4 2 5 1 5 0 5 1 5 0 3 0 2 1 5 0 5 0 5 0 5 0 5 0 5-1 5 0 5-1 5-2 5-2 3-1 2-4 3-5 1-2 1-3 0-5 0-5 0-4 0 1-5 1-5-1-5-1-5-1-5 0-5-1-5-1-5-3-5 0-1-3-4-2-2-2-3-3-3-4-2-1-1-5-1-5-1-3-2-1-5-1-2-1-3 0-5 0-5 0-5 0-5 0-5 0-5 1-5 0-3 1-2 0-5 2-5 2-4 2-1zM1786 1221l5 0 5 1 5 1-5 2-4 3-1 0-5-3-1-2zM1506 1272l5-1 5 1 1 1 4 2 3 3 2 3 1 2 0 5-1 1-2 4-3 1-5 2-5-1-5-1-3-1-2-2-3-3-2-5 0-1 1-4 4-5 1 0z" fill="#acc944" fill-rule="evenodd" stroke="#111" stroke-width="3.4"/>
<path d="M2346 834l0 4 0 5 0 5 0 5 0 5 0 5 0 5 0 5 0 5 0 5 0 5 0 5 0 5 0 5 0 5 0 5 0 5 0 5 0 5 0 5 0 5 0 5 0 5 0 5 0 5 0 5 0 5 0 5 0 5 0 5 0 5 0 5 0 5 0 5 0 5 0 5 0 5 0 5 0 5 0 5 0 5 0 5 0 5 0 5 0 5 0 5 0 5 0 5 0 5 0 5 0 5 0 5 0 5 0 5 0 5 0 5 0 5 0 5 0 5 0 5 0 5 0 5 0 5 0 5 0 5 0 5 0 5 0 5 0 5 0 5 0 5 0 5 0 5 0 5 0 5 0 5 0 5 0 5 0 5 0 5 0 5 0 5 0 5 0 5 0 5 0 5 0 5 0 5 0 5 0 5 0 5 0 5 0 5 0 5 0 5 0 5 0 5 0 5 0 5 0 5 0 5 0 5 0 5 0 5 0 5 0 5 0 5 0 5 0 5 0 5 0 5 0 5 0 5 0 5 0 5 0 5 0 5 0 5 0 5 0 5 0 5 0 5 0 5 0 5 0 5 0 5 0 5 0 5 0 5 0 5 0 5 0 5 0 5 0 5 0 5 0 5 0 5 0 5 0 5 0 5 0 5 0 5-5 0-5 0-5 0-5 0-5 0-5 0-5 0-5 0-5 0-5 0-5 0-5 0-5 0-5 0-5 0-5 0-5 0-5 0-5 0-5 0-5 0-5 0-5 0-5 0-5 0-5 0-5 0-5 0-5 0-5 0-5 0-5 0-5 0-5 0-5 0-5 0-5 0-5 0-5 0-5 0-5 0-5 0-5 0-5 0-5 0-5 0-5 0-5 0-5 0-5 0-5 0-5 0-5 0-5 0-5 0-5 0-5 0-5 0-5 0-5 0-5 0-5 0-5 0-5 0-5 0-5 0-5 0-5 0-5 0-5 0-5 0-5 0-5 0-5 0-5 0-5 0-5 0-5 0-5 0-5 0-5 0-5 0-5 0-5 0-5 0-5 0-5 0-5 0-5 0-5 0-5 0-5 0-5 0-2 0 2-4 2-1 3-5 4-5 1-3 2-2 3-5 3-5 2-4 1-1 3-5 1-3 1-2 3-5 1-4 1-1 2-5 1-5 1-3 1-2 1-5 1-5 2-5 0-4 0-1 1-5 1-5 0-5 0-5 0-5 0-5 1-5 0-5 0-5 1-5 1-5 0-1 2-4 2-5 1-3 2-2 3-5 1 0 4-5 5-5 1 0 4-3 4-2 1-1 5-2 5-2 1 0 4-2 5-1 5-1 5-1 2 0 3-1 5 0 5 0 1 1 4 2 5 2 1 1 4 1 5 2 5 2 5 1 5 0 5 0 5 0 5-1 1 0 4-2 5-1 5-2 0-1 5-2 4-2 1-1 5-4 1 0 4-3 3-2 2-2 4-3 1-2 4-3 1-2 4-3 1-2 4-3 1-2 4-3 1-2 4-3 1-1 5-4 1 0 4-4 2-1 3-2 4-3 1-1 5-4 0-1 3-4 2-5 0-1 2-4 2-5 1-2 2-3 3-3 2-2 3-3 4-2 1-1 5-3 4-1 1-1 5-3 4-1 1-1 5-3 4-1 1-1 5-2 4-2 1-1 5-3 3-1 2-1 5-3 2-1 3-4 1-1 0-5 1-5 1-5 2-5 0-1 2-4 2-5 1-3 1-2 3-5 1-2 3-3 2-3 2-2 3-4 2-1 3-3 2-2 3-3 3-2 2-2 3-3 2-2 3-3 2-4 1-1 3-5 1-2 2-3 2-5 1-3 1-2 2-5 2-5 1 0 2-5 2-5 2-5 2-5 1-3 1-2 1-5 2-5 0-5 1-5 0-1 1-4 0-5 1-5 1-5 0-5 0-5 0-5 1-5 0-5 0-5 0-5 0-5 1-5 0-4 0-1 2-5 1-5 1-5 1-4 1-1 1-5 1-5 0-5 1-5 1-5 0-5 0-2 1-3 0-5 1-5 0-5 1-5 1-5 1-5 0-3 1-2 0-5 0-5 1-5 0-5 0-5 0-5 1-5 1-5 1-5 2-5 1-5 2-5 0-1 1-4 2-5zM1786 1129l5-1 5 3 2 2 2 5 0 5-4 5-5 1-5-1-1 0-4-3-1-2 0-5 1-3 1-2z" fill="#d0d646" fill-rule="evenodd" stroke="#111" stroke-width="3.4"/>
<path d="M2346 930l0 3 0 5 0 5 0 5 0 5 0 5 0 5 0 5 0 5 0 5 0 5 0 5 0 5 0 5 0 5 0 5 0 5 0 5 0 5 0 5 0 5 0 5 0 5 0 5 0 5 0 5 0 5 0 5 0 5 0 5 0 5 0 5 0 5 0 5 0 5 0 5 0 5 0 5 0 5 0 5 0 5 0 5 0 5 0 5 0 5 0 5 0 5 0 5 0 5 0 5 0 5 0 5 0 5 0 5 0 5 0 5 0 5 0 5 0 5 0 5 0 5 0 5 0 5 0 5 0 5 0 5 0 5 0 5 0 5 0 5 0 5 0 5 0 5 0 5 0 5 0 5 0 5 0 5 0 5 0 5 0 5 0 5 0 5 0 5 0 5 0 5 0 5 0 5 0 5 0 5 0 5 0 5 0 5 0 5 0 5 0 5 0 5 0 5 0 5 0 5 0 5 0 5 0 5 0 5 0 5 0 5 0 5 0 5 0 5 0 5 0 5 0 5 0 5 0 5 0 5 0 5 0 5 0 5 0 5 0 5 0 5 0 5 0 5-5 0-5 0-5 0-5 0-5 0-5 0-5 0-5 0-5 0-5 0-5 0-5 0-5 0-5 0-5 0-5 0-5 0-5 0-5 0-5 0-5 0-5 0-5 0-5 0-5 0-5 0-5 0-5 0-5 0-5 0-5 0-5 0-5 0-5 0-5 0-5 0-5 0-5 0-5 0-5 0-5 0-5 0-5 0-5 0-5 0-5 0-5 0-5 0-5 0-5 0-5 0-5 0-5 0-5 0-5 0-5 0-5 0-5 0-5 0-5 0-5 0-5 0-5 0-5 0-5 0-5 0-5 0-5 0-5 0-5 0-5 0-5 0-5 0-5 0-5 0-5 0-5 0-5 0-5 0-5 0-5 0-5 0-5 0-5 0-5 0-5 0-5 0-1 0 1-2 2-3 3-5 1 0 3-5 1-3 2-2 3-5 0-2 2-3 3-5 0-1 2-4 3-5 0-1 2-4 2-5 1-3 1-2 2-5 2-5 2-5 2-5 1-4 1-1 2-5 1-5 1-2 2-3 2-5 1-2 3-3 2-3 3-2 2-2 5-3 1 0 4-2 5-3 1 0 4-3 4-2 1-1 5-4 1 0 4-4 2-1 3-2 5-3 0-1 5-2 4-2 1-1 5-2 5-1 3-1 2-1 5-2 5-2 1 0 4-2 5-3 1 0 4-2 5-3 5-4 3-1 2-2 4-3 1-1 5-4 1 0 4-3 3-2 2-2 4-3 1-2 4-3 1-2 4-3 1-2 3-3 2-2 3-3 2-2 4-3 1-1 5-4 1 0 4-4 2-1 3-3 4-2 1-2 4-3 1-1 3-4 2-4 1-1 2-5 2-5 3-5 2-3 3-2 2-2 5-3 1 0 4-3 5-2 0-1 5-2 5-2 0-1 5-2 5-2 5-3 5-2 0-1 5-2 5-2 0-1 5-3 2-1 3-3 2-2 2-5 1-5 0-3 1-2 1-5 1-5 2-5 0-1 2-4 3-5 0-1 3-4 2-3 2-2 3-4 2-1 3-3 2-2 3-3 3-2 2-3 3-2 2-3 2-2 3-4 1-1 3-5 1-2 2-3 3-5 0-2 2-3 2-5 1-3 1-2 3-5 1-4 1-1 2-5 2-5 2-5 2-5 1-5 2-5 1-5 1-5 0-5 1-5 0-1 1-4 2-5 0-5 0-5 0-5 0-5 0-5 0-5 0-5 1-5 0-5 1-5 0-1 1-4 1-5 1-5 1-5 1-4 1-1 1-5 1-5 0-5 1-5 1-4 1-1 1-5 1-5 1-5 1-5z" fill="#f0e040" fill-rule="evenodd" stroke="#111" stroke-width="3.4"/>
<path d="M2346 1011l0 2 0 5 0 5 0 5 0 5 0 5 0 5 0 5 0 5 0 5 0 5 0 5 0 5 0 5 0 5 0 5 0 5 0 5 0 5 0 5 0 5 0 5 0 5 0 5 0 5 0 5 0 5 0 5 0 5 0 5 0 5 0 5 0 5 0 5 0 5 0 5 0 5 0 5 0 5 0 5 0 5 0 5 0 5 0 5 0 5 0 5 0 5 0 5 0 5 0 5 0 5 0 5 0 5 0 5 0 5 0 5 0 5 0 5 0 5 0 5 0 5 0 5 0 5 0 5 0 5 0 5 0 5 0 5 0 5 0 5 0 5 0 5 0 5 0 5 0 5 0 5 0 5 0 5 0 5 0 5 0 5 0 5 0 5 0 5 0 5 0 5 0 5 0 5 0 5 0 5 0 5 0 5 0 5 0 5 0 5 0 5 0 5 0 5 0 5 0 5 0 5 0 5 0 5 0 5 0 5 0 5 0 5-5 0-5 0-5 0-5 0-5 0-5 0-5 0-5 0-5 0-5 0-5 0-5 0-5 0-5 0-5 0-5 0-5 0-5 0-5 0-5 0-5 0-5 0-5 0-5 0-5 0-5 0-5 0-5 0-5 0-5 0-5 0-5 0-5 0-5 0-5 0-5 0-5 0-5 0-5 0-5 0-5 0-5 0-5 0-5 0-5 0-5 0-5 0-5 0-5 0-5 0-5 0-5 0-5 0-5 0-5 0-5 0-5 0-5 0-5 0-5 0-5 0-5 0-5 0-5 0-5 0-5 0-5 0-5 0-5 0-5 0-5 0-5 0-5 0-5 0-5 0-5 0-5 0-5 0-5 0-5 0-5 0-1 0 1-2 2-3 3-5 4-5 1-3 2-2 3-5 0-2 2-3 3-5 3-5 2-4 1-1 3-5 1-2 2-3 3-5 3-5 2-3 2-2 3-5 1 0 4-5 0-1 4-4 1-2 4-3 1-2 4-3 1-2 4-3 1-1 5-4 0-1 5-4 5-5 1 0 4-4 2-1 3-3 3-2 2-2 5-3 0-1 5-3 2-1 3-3 4-2 1-1 5-4 1 0 4-3 3-2 2-2 4-3 1-1 5-4 1 0 4-4 2-1 3-3 3-2 2-2 4-3 1-2 4-3 1-1 5-4 0-1 5-4 0-1 5-4 0-1 5-4 5-5 1 0 4-4 1-1 4-4 2-1 3-3 3-2 2-2 4-3 1-1 4-4 1-1 4-4 1-2 3-3 2-4 1-1 4-5 0-1 4-4 1-2 4-3 1-1 5-4 2 0 3-3 5-2 0-1 5-2 4-2 1-1 5-2 4-2 1-1 5-3 3-1 2-2 5-3 5-4 1-1 4-4 1-1 3-5 1-2 2-3 2-5 1-4 1-1 1-5 2-5 1-3 1-2 3-5 1-3 2-2 3-5 5-5 0-1 4-4 1-2 4-3 1-2 3-3 2-3 2-2 3-4 1-1 3-5 1-2 3-3 2-5 3-5 2-5 3-5 2-5 0-1 2-4 2-5 1-3 1-2 2-5 2-5 2-5 2-5 1-5 0-1 1-4 1-5 2-5 1-5 0-4 1-1 0-5 1-5 1-5 0-5 0-5 0-5 1-5 0-5 0-5 1-5z" fill="#f8b030" fill-rule="evenodd" stroke="#111" stroke-width="3.4"/>
<path d="M2346 1104l0 4 0 5 0 5 0 5 0 5 0 5 0 5 0 5 0 5 0 5 0 5 0 5 0 5 0 5 0 5 0 5 0 5 0 5 0 5 0 5 0 5 0 5 0 5 0 5 0 5 0 5 0 5 0 5 0 5 0 5 0 5 0 5 0 5 0 5 0 5 0 5 0 5 0 5 0 5 0 5 0 5 0 5 0 5 0 5 0 5 0 5 0 5 0 5 0 5 0 5 0 5 0 5 0 5 0 5 0 5 0 5 0 5 0 5 0 5 0 5 0 5 0 5 0 5 0 5 0 5 0 5 0 5 0 5 0 5 0 5 0 5 0 5 0 5 0 5 0 5 0 5 0 5 0 5 0 5 0 5 0 5 0 5 0 5 0 5 0 5 0 5 0 5 0 5-5 0-5 0-5 0-5 0-5 0-5 0-5 0-5 0-5 0-5 0-5 0-5 0-5 0-5 0-5 0-5 0-5 0-5 0-5 0-5 0-5 0-5 0-5 0-5 0-5 0-5 0-5 0-5 0-5 0-5 0-5 0-5 0-5 0-5 0-5 0-5 0-5 0-5 0-5 0-5 0-5 0-5 0-5 0-5 0-5 0-5 0-5 0-5 0-5 0-5 0-5 0-5 0-5 0-5 0-5 0-5 0-5 0-5 0-5 0-5 0-5 0-5 0-5 0-5 0-5 0-5 0-5 0-5 0-5 0-5 0-5 0-5 0-5 0-5 0-5 0-1 0 1-2 3-3 2-4 1-1 3-5 1-2 3-3 2-4 1-1 3-5 1-2 3-3 2-4 1-1 4-5 0-1 4-4 1-3 2-2 3-4 1-1 4-5 5-5 0-1 4-4 1-2 4-3 1-2 3-3 2-2 3-3 2-2 3-3 2-2 3-3 2-2 3-3 2-2 4-3 1-2 4-3 1-2 4-3 1-1 5-4 0-1 5-4 5-5 1 0 4-4 1-1 4-4 2-1 3-4 2-1 3-3 2-2 3-3 3-2 2-3 3-2 2-2 3-3 2-2 3-3 2-2 4-3 1-2 4-3 1-2 4-3 1-1 4-4 1-1 5-4 0-1 5-4 1 0 4-5 1 0 4-4 1-1 4-4 2-1 3-4 1-1 4-5 1 0 4-5 5-5 5-5 1 0 4-4 2-1 3-3 4-2 1-1 5-3 2-1 3-2 5-3 0-1 5-3 3-1 2-2 5-3 0-1 5-4 1 0 4-4 2-1 3-4 1-1 4-5 0-1 3-4 2-4 1-1 3-5 1-4 1-1 3-5 1-4 1-1 3-5 1-3 2-2 3-5 0-1 3-4 2-3 2-2 3-4 1-1 4-5 0-1 3-4 2-3 2-2 3-5 3-5 2-3 1-2 3-5 1-3 2-2 2-5 1-3 1-2 3-5 1-4 1-1 2-5 2-5 2-5 2-5z" fill="#f89030" fill-rule="evenodd" stroke="#111" stroke-width="3.4"/>
<path d="M2346 1144l0 4 0 5 0 5 0 5 0 5 0 5 0 5 0 5 0 5 0 5 0 5 0 5 0 5 0 5 0 5 0 5 0 5 0 5 0 5 0 5 0 5 0 5 0 5 0 5 0 5 0 5 0 5 0 5 0 5 0 5 0 5 0 5 0 5 0 5 0 5 0 5 0 5 0 5 0 5 0 5 0 5 0 5 0 5 0 5 0 5 0 5 0 5 0 5 0 5 0 5 0 5 0 5 0 5 0 5 0 5 0 5 0 5 0 5 0 5 0 5 0 5 0 5 0 5 0 5 0 5 0 5 0 5 0 5 0 5 0 5 0 5 0 5 0 5 0 5 0 5 0 5 0 5 0 5 0 5 0 5-5 0-5 0-5 0-5 0-5 0-5 0-5 0-5 0-5 0-5 0-5 0-5 0-5 0-5 0-5 0-5 0-5 0-5 0-5 0-5 0-5 0-5 0-5 0-5 0-5 0-5 0-5 0-5 0-5 0-5 0-5 0-5 0-5 0-5 0-5 0-5 0-5 0-5 0-5 0-5 0-5 0-5 0-5 0-5 0-5 0-5 0-5 0-5 0-5 0-5 0-5 0-5 0-5 0-5 0-5 0-5 0-5 0-5 0-5 0-5 0-5 0-5 0-5 0-5 0-5 0-5 0-5 0-5 0-5 0 0-1 3-4 2-3 2-2 3-5 1 0 3-5 1-2 3-3 2-4 1-1 4-5 4-5 1-2 3-3 2-3 2-2 3-4 1-1 4-5 4-5 1-1 4-4 1-2 3-3 2-3 2-2 3-3 2-2 3-4 2-1 3-4 1-1 4-5 1 0 4-5 1 0 4-5 5-5 0-1 5-4 0-1 5-4 0-1 5-4 0-1 4-4 1-1 4-4 1-1 4-4 1-1 4-4 1-1 4-4 1-1 4-4 1-1 4-4 1-1 4-4 1-1 4-4 1-1 4-4 1-1 5-4 0-1 5-4 0-1 5-4 5-5 1 0 4-5 1 0 4-5 1 0 4-5 1 0 4-5 1 0 4-4 1-1 4-4 2-1 3-3 3-2 2-2 4-3 1-1 5-4 1 0 4-3 3-2 2-2 5-3 0-1 5-4 1 0 4-4 2-1 3-3 3-2 2-3 3-2 2-3 2-2 3-4 1-1 4-5 0-1 3-4 2-4 1-1 3-5 1-2 2-3 3-5 0-1 3-4 2-4 1-1 3-5 1-2 2-3 3-5 1 0 3-5 1-2 2-3 3-5 1 0 3-5 1-2 2-3 3-5 0-1 3-4 2-4 1-1 2-5 2-4 1-1 2-5z" fill="#f06830" fill-rule="evenodd" stroke="#111" stroke-width="3.4"/>
<path d="M2346 1178l0 5 0 5 0 5 0 5 0 5 0 5 0 5 0 5 0 5 0 5 0 5 0 5 0 5 0 5 0 5 0 5 0 5 0 5 0 5 0 5 0 5 0 5 0 5 0 5 0 5 0 5 0 5 0 5 0 5 0 5 0 5 0 5 0 5 0 5 0 5 0 5 0 5 0 5 0 5 0 5 0 5 0 5 0 5 0 5 0 5 0 5 0 5 0 5 0 5 0 5 0 5 0 5 0 5 0 5 0 5 0 5 0 5 0 5 0 5 0 5 0 5 0 5 0 5 0 5 0 5 0 5 0 5 0 5 0 5 0 5 0 5 0 5 0 5-5 0-5 0-5 0-5 0-5 0-5 0-5 0-5 0-5 0-5 0-5 0-5 0-5 0-5 0-5 0-5 0-5 0-5 0-5 0-5 0-5 0-5 0-5 0-5 0-5 0-5 0-5 0-5 0-5 0-5 0-5 0-5 0-5 0-5 0-5 0-5 0-5 0-5 0-5 0-5 0-5 0-5 0-5 0-5 0-5 0-5 0-5 0-5 0-5 0-5 0-5 0-5 0-5 0-5 0-5 0-5 0-5 0-5 0-5 0-5 0-5 0-5 0-5 0 4-5 1-2 3-3 2-4 1-1 4-5 0-1 4-4 1-2 3-3 2-4 1-1 4-5 4-5 1-1 3-4 2-3 2-2 3-4 1-1 4-5 1 0 4-5 0-1 4-4 1-2 3-3 2-3 2-2 3-4 2-1 3-4 1-1 4-5 5-5 0-1 4-4 1-1 4-4 1-2 3-3 2-2 3-3 2-3 2-2 3-3 2-2 3-4 2-1 3-4 2-1 3-4 1-1 4-4 1-1 4-4 1-1 4-5 1 0 4-5 1 0 4-4 1-1 4-4 1-1 4-4 1-1 4-4 2-1 3-4 2-1 3-4 2-1 3-3 2-2 3-3 3-2 2-3 3-2 2-2 4-3 1-1 5-4 0-1 5-4 1 0 4-4 2-1 3-3 3-2 2-2 4-3 1-1 5-4 0-1 5-4 0-1 5-4 0-1 5-4 0-1 4-4 1-2 3-3 2-3 2-2 3-5 1 0 3-5 1-2 2-3 3-5 4-5 1-3 2-2 3-5 0-1 3-4 2-4 1-1 3-5 1-2 2-3 3-5 3-5 2-3 2-2 3-5 0-1 3-4z" fill="#e84028" fill-rule="evenodd" stroke="#111" stroke-width="3.4"/>
<path d="M2346 1210l0 3 0 5 0 5 0 5 0 5 0 5 0 5 0 5 0 5 0 5 0 5 0 5 0 5 0 5 0 5 0 5 0 5 0 5 0 5 0 5 0 5 0 5 0 5 0 5 0 5 0 5 0 5 0 5 0 5 0 5 0 5 0 5 0 5 0 5 0 5 0 5 0 5 0 5 0 5 0 5 0 5 0 5 0 5 0 5 0 5 0 5 0 5 0 5 0 5 0 5 0 5 0 5 0 5 0 5 0 5 0 5 0 5 0 5 0 5 0 5 0 5 0 5 0 5 0 5 0 5 0 5 0 5-5 0-5 0-5 0-5 0-5 0-5 0-5 0-5 0-5 0-5 0-5 0-5 0-5 0-5 0-5 0-5 0-5 0-5 0-5 0-5 0-5 0-5 0-5 0-5 0-5 0-5 0-5 0-5 0-5 0-5 0-5 0-5 0-5 0-5 0-5 0-5 0-5 0-5 0-5 0-5 0-5 0-5 0-5 0-5 0-5 0-5 0-5 0-5 0-5 0-5 0-5 0-5 0-5 0-5 0-5 0-5 0-5 0 0-1 4-4 1-2 2-3 3-4 1-1 4-5 0-1 4-4 1-2 3-3 2-4 1-1 4-5 4-5 1-2 3-3 2-3 2-2 3-4 1-1 4-5 0-1 4-4 1-2 3-3 2-3 2-2 3-4 1-1 4-5 5-5 0-1 4-4 1-2 3-3 2-3 2-2 3-3 2-2 3-4 1-1 4-5 1 0 4-5 5-5 0-1 5-4 0-1 4-4 1-1 4-4 1-2 4-3 1-2 4-3 1-2 4-3 1-2 4-3 1-2 4-3 1-2 4-3 1-2 4-3 1-2 4-3 1-1 5-4 0-1 5-4 0-1 5-4 5-5 1 0 4-4 2-1 3-4 2-1 3-3 3-2 2-3 3-2 2-2 3-3 2-2 4-3 1-2 3-3 2-2 3-3 2-3 3-2 2-3 2-2 3-4 1-1 4-5 0-1 3-4 2-3 2-2 3-5 4-5 1-3 2-2 3-5 3-5 2-3 2-2 3-5 0-1 3-4 2-4 1-1 3-5z" fill="#e84028" fill-rule="evenodd" stroke="#111" stroke-width="3.4"/>
</g>
<path d="M442.0,386.0 L445.9,383.9 L451.8,376.5 L459.6,368.6 L465.5,360.8 L469.4,352.9 L471.4,345.1 L470.4,339.2 L471.4,335.3 L477.3,333.3 L485.1,330.4 L492.0,330.4 L490.0,333.3 L487.1,336.3 L482.2,338.2 L480.2,342.2 L481.2,347.1 L480.2,352.9 L485.1,355.9 L491.0,354.9 L494.9,352.0 L500.8,349.0 L508.6,346.1 L515.0,344.0 L520.0,342.3 L526.1,337.8 L532.2,331.7 L539.8,325.6 L542.8,319.5 L547.4,316.5 L555.0,312.7 L561.0,308.9 L562.6,302.8 L565.6,296.7 L573.2,289.1 L577.8,280.0 L581.0,272.0 L582.5,262.0 L583.0,252.0 L578.0,248.9 L576.6,246.5 L580.0,244.6 L582.5,238.0 L582.0,221.0 L583.5,212.0 L586.0,212.0 L586.0,386.0 Z" fill="url(#landp)"/>
<path d="M530.6,302.0 L533.7,304.3 L532.9,308.9 L535.2,310.4 L534.4,314.2 L529.1,316.5 L526.1,319.5 L523.0,320.3 L522.3,316.5 L524.6,313.4 L523.0,310.4 L526.1,308.1 L529.1,305.8 Z" fill="url(#landp)"/>
<path d="M467.4,226.9 L514.4,296" fill="none" stroke="#e02828" stroke-width="1.4" />
</g>
<text x="541.7" y="356.7" font-size="11.5" text-anchor="middle" font-weight="normal" fill="#dcdcdc" >Japan</text>
<text x="497" y="377.2" font-size="8.5" text-anchor="middle" font-weight="normal" fill="#dcdcdc" >2016</text>
<text x="535.5" y="377.2" font-size="8.5" text-anchor="middle" font-weight="normal" fill="#dcdcdc" >4</text>
<text x="566" y="377.2" font-size="8.5" text-anchor="middle" font-weight="normal" fill="#dcdcdc" >20</text>
<path d="M35,23.8 H335 M35,164.9 H335" stroke="#000" stroke-width="2" fill="none"/>
<path d="M41,23.8 V164.9 M329.1,23.8 V164.9" stroke="#000" stroke-width="2" fill="none"/>
<path d="M47.2,23.0 v-2.4 M47.2,165.70000000000002 v2.4 M61.0,23.0 v-1.1 M61.0,165.70000000000002 v1.1 M74.7,23.0 v-1.1 M74.7,165.70000000000002 v1.1 M88.4,23.0 v-1.1 M88.4,165.70000000000002 v1.1 M102.2,23.0 v-1.1 M102.2,165.70000000000002 v1.1 M116.0,23.0 v-2.4 M116.0,165.70000000000002 v2.4 M129.7,23.0 v-1.1 M129.7,165.70000000000002 v1.1 M143.4,23.0 v-1.1 M143.4,165.70000000000002 v1.1 M157.2,23.0 v-1.1 M157.2,165.70000000000002 v1.1 M170.9,23.0 v-1.1 M170.9,165.70000000000002 v1.1 M184.7,23.0 v-2.4 M184.7,165.70000000000002 v2.4 M198.5,23.0 v-1.1 M198.5,165.70000000000002 v1.1 M212.2,23.0 v-1.1 M212.2,165.70000000000002 v1.1 M225.9,23.0 v-1.1 M225.9,165.70000000000002 v1.1 M239.7,23.0 v-1.1 M239.7,165.70000000000002 v1.1 M253.4,23.0 v-2.4 M253.4,165.70000000000002 v2.4 M267.2,23.0 v-1.1 M267.2,165.70000000000002 v1.1 M280.9,23.0 v-1.1 M280.9,165.70000000000002 v1.1 M294.7,23.0 v-1.1 M294.7,165.70000000000002 v1.1 M308.4,23.0 v-1.1 M308.4,165.70000000000002 v1.1 M322.2,23.0 v-2.4 M322.2,165.70000000000002 v2.4 " stroke="#000" stroke-width="1.3" fill="none"/>
<path d="M40,23.8 h-5 M330.1,23.8 h5 M40,26.6 h-2 M330.1,26.6 h2 M40,29.4 h-2 M330.1,29.4 h2 M40,32.2 h-2 M330.1,32.2 h2 M40,35.1 h-2 M330.1,35.1 h2 M40,37.9 h-2 M330.1,37.9 h2 M40,40.7 h-2 M330.1,40.7 h2 M40,43.5 h-2 M330.1,43.5 h2 M40,46.3 h-2 M330.1,46.3 h2 M40,49.1 h-2 M330.1,49.1 h2 M40,51.9 h-5 M330.1,51.9 h5 M40,54.8 h-2 M330.1,54.8 h2 M40,57.6 h-2 M330.1,57.6 h2 M40,60.4 h-2 M330.1,60.4 h2 M40,63.2 h-2 M330.1,63.2 h2 M40,66.0 h-2 M330.1,66.0 h2 M40,68.8 h-2 M330.1,68.8 h2 M40,71.6 h-2 M330.1,71.6 h2 M40,74.5 h-2 M330.1,74.5 h2 M40,77.3 h-2 M330.1,77.3 h2 M40,80.1 h-5 M330.1,80.1 h5 M40,82.9 h-2 M330.1,82.9 h2 M40,85.7 h-2 M330.1,85.7 h2 M40,88.5 h-2 M330.1,88.5 h2 M40,91.3 h-2 M330.1,91.3 h2 M40,94.1 h-2 M330.1,94.1 h2 M40,97.0 h-2 M330.1,97.0 h2 M40,99.8 h-2 M330.1,99.8 h2 M40,102.6 h-2 M330.1,102.6 h2 M40,105.4 h-2 M330.1,105.4 h2 M40,108.2 h-5 M330.1,108.2 h5 M40,111.0 h-2 M330.1,111.0 h2 M40,113.8 h-2 M330.1,113.8 h2 M40,116.7 h-2 M330.1,116.7 h2 M40,119.5 h-2 M330.1,119.5 h2 M40,122.3 h-2 M330.1,122.3 h2 M40,125.1 h-2 M330.1,125.1 h2 M40,127.9 h-2 M330.1,127.9 h2 M40,130.7 h-2 M330.1,130.7 h2 M40,133.5 h-2 M330.1,133.5 h2 M40,136.4 h-5 M330.1,136.4 h5 M40,139.2 h-2 M330.1,139.2 h2 M40,142.0 h-2 M330.1,142.0 h2 M40,144.8 h-2 M330.1,144.8 h2 M40,147.6 h-2 M330.1,147.6 h2 M40,150.4 h-2 M330.1,150.4 h2 M40,153.2 h-2 M330.1,153.2 h2 M40,156.1 h-2 M330.1,156.1 h2 M40,158.9 h-2 M330.1,158.9 h2 M40,161.7 h-2 M330.1,161.7 h2 M40,164.5 h-5 M330.1,164.5 h5 " stroke="#000" stroke-width="1.1" fill="none"/>
<text x="47.2" y="17.5" font-size="10.5" text-anchor="middle" font-weight="bold" fill="#000" textLength="19.2" lengthAdjust="spacingAndGlyphs" >38.5</text>
<text x="116.0" y="17.5" font-size="10.5" text-anchor="middle" font-weight="bold" fill="#000" textLength="19.2" lengthAdjust="spacingAndGlyphs" >39.0</text>
<text x="184.7" y="17.5" font-size="10.5" text-anchor="middle" font-weight="bold" fill="#000" textLength="19.2" lengthAdjust="spacingAndGlyphs" >39.5</text>
<text x="253.4" y="17.5" font-size="10.5" text-anchor="middle" font-weight="bold" fill="#000" textLength="19.2" lengthAdjust="spacingAndGlyphs" >40.0</text>
<text x="322.2" y="17.5" font-size="10.5" text-anchor="middle" font-weight="bold" fill="#000" textLength="19.2" lengthAdjust="spacingAndGlyphs" >40.5</text>
<text x="31.8" y="30.3" font-size="9.8" text-anchor="end" font-weight="bold" fill="#000" >0</text>
<text x="31.8" y="55.4" font-size="9.8" text-anchor="end" font-weight="bold" fill="#000" >100</text>
<text x="31.8" y="83.6" font-size="9.8" text-anchor="end" font-weight="bold" fill="#000" >200</text>
<text x="31.8" y="111.7" font-size="9.8" text-anchor="end" font-weight="bold" fill="#000" >300</text>
<text x="31.8" y="139.9" font-size="9.8" text-anchor="end" font-weight="bold" fill="#000" >400</text>
<text x="31.8" y="165.6" font-size="9.8" text-anchor="end" font-weight="bold" fill="#000" >500</text>
<path d="M385,23.8 H685 M385,164.9 H685" stroke="#000" stroke-width="2" fill="none"/>
<path d="M391,23.8 V164.9 M679.1,23.8 V164.9" stroke="#000" stroke-width="2" fill="none"/>
<path d="M397.2,23.0 v-2.4 M397.2,165.70000000000002 v2.4 M411.0,23.0 v-1.1 M411.0,165.70000000000002 v1.1 M424.7,23.0 v-1.1 M424.7,165.70000000000002 v1.1 M438.4,23.0 v-1.1 M438.4,165.70000000000002 v1.1 M452.2,23.0 v-1.1 M452.2,165.70000000000002 v1.1 M465.9,23.0 v-2.4 M465.9,165.70000000000002 v2.4 M479.7,23.0 v-1.1 M479.7,165.70000000000002 v1.1 M493.4,23.0 v-1.1 M493.4,165.70000000000002 v1.1 M507.2,23.0 v-1.1 M507.2,165.70000000000002 v1.1 M520.9,23.0 v-1.1 M520.9,165.70000000000002 v1.1 M534.7,23.0 v-2.4 M534.7,165.70000000000002 v2.4 M548.5,23.0 v-1.1 M548.5,165.70000000000002 v1.1 M562.2,23.0 v-1.1 M562.2,165.70000000000002 v1.1 M575.9,23.0 v-1.1 M575.9,165.70000000000002 v1.1 M589.7,23.0 v-1.1 M589.7,165.70000000000002 v1.1 M603.5,23.0 v-2.4 M603.5,165.70000000000002 v2.4 M617.2,23.0 v-1.1 M617.2,165.70000000000002 v1.1 M630.9,23.0 v-1.1 M630.9,165.70000000000002 v1.1 M644.7,23.0 v-1.1 M644.7,165.70000000000002 v1.1 M658.4,23.0 v-1.1 M658.4,165.70000000000002 v1.1 M672.2,23.0 v-2.4 M672.2,165.70000000000002 v2.4 " stroke="#000" stroke-width="1.3" fill="none"/>
<path d="M390,23.8 h-5 M680.1,23.8 h5 M390,26.6 h-2 M680.1,26.6 h2 M390,29.4 h-2 M680.1,29.4 h2 M390,32.2 h-2 M680.1,32.2 h2 M390,35.1 h-2 M680.1,35.1 h2 M390,37.9 h-2 M680.1,37.9 h2 M390,40.7 h-2 M680.1,40.7 h2 M390,43.5 h-2 M680.1,43.5 h2 M390,46.3 h-2 M680.1,46.3 h2 M390,49.1 h-2 M680.1,49.1 h2 M390,51.9 h-5 M680.1,51.9 h5 M390,54.8 h-2 M680.1,54.8 h2 M390,57.6 h-2 M680.1,57.6 h2 M390,60.4 h-2 M680.1,60.4 h2 M390,63.2 h-2 M680.1,63.2 h2 M390,66.0 h-2 M680.1,66.0 h2 M390,68.8 h-2 M680.1,68.8 h2 M390,71.6 h-2 M680.1,71.6 h2 M390,74.5 h-2 M680.1,74.5 h2 M390,77.3 h-2 M680.1,77.3 h2 M390,80.1 h-5 M680.1,80.1 h5 M390,82.9 h-2 M680.1,82.9 h2 M390,85.7 h-2 M680.1,85.7 h2 M390,88.5 h-2 M680.1,88.5 h2 M390,91.3 h-2 M680.1,91.3 h2 M390,94.1 h-2 M680.1,94.1 h2 M390,97.0 h-2 M680.1,97.0 h2 M390,99.8 h-2 M680.1,99.8 h2 M390,102.6 h-2 M680.1,102.6 h2 M390,105.4 h-2 M680.1,105.4 h2 M390,108.2 h-5 M680.1,108.2 h5 M390,111.0 h-2 M680.1,111.0 h2 M390,113.8 h-2 M680.1,113.8 h2 M390,116.7 h-2 M680.1,116.7 h2 M390,119.5 h-2 M680.1,119.5 h2 M390,122.3 h-2 M680.1,122.3 h2 M390,125.1 h-2 M680.1,125.1 h2 M390,127.9 h-2 M680.1,127.9 h2 M390,130.7 h-2 M680.1,130.7 h2 M390,133.5 h-2 M680.1,133.5 h2 M390,136.4 h-5 M680.1,136.4 h5 M390,139.2 h-2 M680.1,139.2 h2 M390,142.0 h-2 M680.1,142.0 h2 M390,144.8 h-2 M680.1,144.8 h2 M390,147.6 h-2 M680.1,147.6 h2 M390,150.4 h-2 M680.1,150.4 h2 M390,153.2 h-2 M680.1,153.2 h2 M390,156.1 h-2 M680.1,156.1 h2 M390,158.9 h-2 M680.1,158.9 h2 M390,161.7 h-2 M680.1,161.7 h2 M390,164.5 h-5 M680.1,164.5 h5 " stroke="#000" stroke-width="1.1" fill="none"/>
<text x="397.2" y="17.5" font-size="10.5" text-anchor="middle" font-weight="bold" fill="#000" textLength="19.2" lengthAdjust="spacingAndGlyphs" >38.5</text>
<text x="465.9" y="17.5" font-size="10.5" text-anchor="middle" font-weight="bold" fill="#000" textLength="19.2" lengthAdjust="spacingAndGlyphs" >39.0</text>
<text x="534.7" y="17.5" font-size="10.5" text-anchor="middle" font-weight="bold" fill="#000" textLength="19.2" lengthAdjust="spacingAndGlyphs" >39.5</text>
<text x="603.5" y="17.5" font-size="10.5" text-anchor="middle" font-weight="bold" fill="#000" textLength="19.2" lengthAdjust="spacingAndGlyphs" >40.0</text>
<text x="672.2" y="17.5" font-size="10.5" text-anchor="middle" font-weight="bold" fill="#000" textLength="19.2" lengthAdjust="spacingAndGlyphs" >40.5</text>
<text x="381.8" y="30.3" font-size="9.8" text-anchor="end" font-weight="bold" fill="#000" >0</text>
<text x="381.8" y="55.4" font-size="9.8" text-anchor="end" font-weight="bold" fill="#000" >100</text>
<text x="381.8" y="83.6" font-size="9.8" text-anchor="end" font-weight="bold" fill="#000" >200</text>
<text x="381.8" y="111.7" font-size="9.8" text-anchor="end" font-weight="bold" fill="#000" >300</text>
<text x="381.8" y="139.9" font-size="9.8" text-anchor="end" font-weight="bold" fill="#000" >400</text>
<text x="381.8" y="165.6" font-size="9.8" text-anchor="end" font-weight="bold" fill="#000" >500</text>
<path d="M116,209.3 H333 M116,383.4 H333" stroke="#000" stroke-width="1.2" fill="none"/>
<path d="M119.2,206.3 V386.4 M328.9,206.3 V386.4" stroke="#000" stroke-width="1.2" fill="none"/>
<path d="M119.2,207.70000000000002 h1.25 M119.2,385.0 h1.25 M121.7,207.70000000000002 h1.25 M121.7,385.0 h1.25 M124.2,207.70000000000002 h1.25 M124.2,385.0 h1.25 M126.7,207.70000000000002 h1.25 M126.7,385.0 h1.25 M129.2,207.70000000000002 h1.25 M129.2,385.0 h1.25 M131.7,207.70000000000002 h1.25 M131.7,385.0 h1.25 M134.2,207.70000000000002 h1.25 M134.2,385.0 h1.25 M136.7,207.70000000000002 h1.25 M136.7,385.0 h1.25 M139.2,207.70000000000002 h1.25 M139.2,385.0 h1.25 M141.7,207.70000000000002 h1.25 M141.7,385.0 h1.25 M144.2,207.70000000000002 h1.25 M144.2,385.0 h1.25 M146.7,207.70000000000002 h1.25 M146.7,385.0 h1.25 M149.2,207.70000000000002 h1.25 M149.2,385.0 h1.25 M151.7,207.70000000000002 h1.25 M151.7,385.0 h1.25 M154.2,207.70000000000002 h1.25 M154.2,385.0 h1.25 M156.7,207.70000000000002 h1.25 M156.7,385.0 h1.25 M159.2,207.70000000000002 h1.25 M159.2,385.0 h1.25 M161.7,207.70000000000002 h1.25 M161.7,385.0 h1.25 M164.2,207.70000000000002 h1.25 M164.2,385.0 h1.25 M166.7,207.70000000000002 h1.25 M166.7,385.0 h1.25 M169.2,207.70000000000002 h1.25 M169.2,385.0 h1.25 M171.7,207.70000000000002 h1.25 M171.7,385.0 h1.25 M174.2,207.70000000000002 h1.25 M174.2,385.0 h1.25 M176.7,207.70000000000002 h1.25 M176.7,385.0 h1.25 M179.2,207.70000000000002 h1.25 M179.2,385.0 h1.25 M181.7,207.70000000000002 h1.25 M181.7,385.0 h1.25 M184.2,207.70000000000002 h1.25 M184.2,385.0 h1.25 M186.7,207.70000000000002 h1.25 M186.7,385.0 h1.25 M189.2,207.70000000000002 h1.25 M189.2,385.0 h1.25 M191.7,207.70000000000002 h1.25 M191.7,385.0 h1.25 M194.2,207.70000000000002 h1.25 M194.2,385.0 h1.25 M196.7,207.70000000000002 h1.25 M196.7,385.0 h1.25 M199.2,207.70000000000002 h1.25 M199.2,385.0 h1.25 M201.7,207.70000000000002 h1.25 M201.7,385.0 h1.25 M204.2,207.70000000000002 h1.25 M204.2,385.0 h1.25 M206.7,207.70000000000002 h1.25 M206.7,385.0 h1.25 M209.2,207.70000000000002 h1.25 M209.2,385.0 h1.25 M211.7,207.70000000000002 h1.25 M211.7,385.0 h1.25 M214.2,207.70000000000002 h1.25 M214.2,385.0 h1.25 M216.7,207.70000000000002 h1.25 M216.7,385.0 h1.25 M219.2,207.70000000000002 h1.25 M219.2,385.0 h1.25 M221.7,207.70000000000002 h1.25 M221.7,385.0 h1.25 M224.2,207.70000000000002 h1.25 M224.2,385.0 h1.25 M226.7,207.70000000000002 h1.25 M226.7,385.0 h1.25 M229.2,207.70000000000002 h1.25 M229.2,385.0 h1.25 M231.7,207.70000000000002 h1.25 M231.7,385.0 h1.25 M234.2,207.70000000000002 h1.25 M234.2,385.0 h1.25 M236.7,207.70000000000002 h1.25 M236.7,385.0 h1.25 M239.2,207.70000000000002 h1.25 M239.2,385.0 h1.25 M241.7,207.70000000000002 h1.25 M241.7,385.0 h1.25 M244.2,207.70000000000002 h1.25 M244.2,385.0 h1.25 M246.7,207.70000000000002 h1.25 M246.7,385.0 h1.25 M249.2,207.70000000000002 h1.25 M249.2,385.0 h1.25 M251.7,207.70000000000002 h1.25 M251.7,385.0 h1.25 M254.2,207.70000000000002 h1.25 M254.2,385.0 h1.25 M256.7,207.70000000000002 h1.25 M256.7,385.0 h1.25 M259.2,207.70000000000002 h1.25 M259.2,385.0 h1.25 M261.7,207.70000000000002 h1.25 M261.7,385.0 h1.25 M264.2,207.70000000000002 h1.25 M264.2,385.0 h1.25 M266.7,207.70000000000002 h1.25 M266.7,385.0 h1.25 M269.2,207.70000000000002 h1.25 M269.2,385.0 h1.25 M271.7,207.70000000000002 h1.25 M271.7,385.0 h1.25 M274.2,207.70000000000002 h1.25 M274.2,385.0 h1.25 M276.7,207.70000000000002 h1.25 M276.7,385.0 h1.25 M279.2,207.70000000000002 h1.25 M279.2,385.0 h1.25 M281.7,207.70000000000002 h1.25 M281.7,385.0 h1.25 M284.2,207.70000000000002 h1.25 M284.2,385.0 h1.25 M286.7,207.70000000000002 h1.25 M286.7,385.0 h1.25 M289.2,207.70000000000002 h1.25 M289.2,385.0 h1.25 M291.7,207.70000000000002 h1.25 M291.7,385.0 h1.25 M294.2,207.70000000000002 h1.25 M294.2,385.0 h1.25 M296.7,207.70000000000002 h1.25 M296.7,385.0 h1.25 M299.2,207.70000000000002 h1.25 M299.2,385.0 h1.25 M301.7,207.70000000000002 h1.25 M301.7,385.0 h1.25 M304.2,207.70000000000002 h1.25 M304.2,385.0 h1.25 M306.7,207.70000000000002 h1.25 M306.7,385.0 h1.25 M309.2,207.70000000000002 h1.25 M309.2,385.0 h1.25 M311.7,207.70000000000002 h1.25 M311.7,385.0 h1.25 M314.2,207.70000000000002 h1.25 M314.2,385.0 h1.25 M316.7,207.70000000000002 h1.25 M316.7,385.0 h1.25 M319.2,207.70000000000002 h1.25 M319.2,385.0 h1.25 M321.7,207.70000000000002 h1.25 M321.7,385.0 h1.25 M324.2,207.70000000000002 h1.25 M324.2,385.0 h1.25 M326.7,207.70000000000002 h1.25 M326.7,385.0 h1.25 M117.60000000000001,209.3 v1.25 M330.5,209.3 v1.25 M117.60000000000001,211.8 v1.25 M330.5,211.8 v1.25 M117.60000000000001,214.3 v1.25 M330.5,214.3 v1.25 M117.60000000000001,216.8 v1.25 M330.5,216.8 v1.25 M117.60000000000001,219.3 v1.25 M330.5,219.3 v1.25 M117.60000000000001,221.8 v1.25 M330.5,221.8 v1.25 M117.60000000000001,224.3 v1.25 M330.5,224.3 v1.25 M117.60000000000001,226.8 v1.25 M330.5,226.8 v1.25 M117.60000000000001,229.3 v1.25 M330.5,229.3 v1.25 M117.60000000000001,231.8 v1.25 M330.5,231.8 v1.25 M117.60000000000001,234.3 v1.25 M330.5,234.3 v1.25 M117.60000000000001,236.8 v1.25 M330.5,236.8 v1.25 M117.60000000000001,239.3 v1.25 M330.5,239.3 v1.25 M117.60000000000001,241.8 v1.25 M330.5,241.8 v1.25 M117.60000000000001,244.3 v1.25 M330.5,244.3 v1.25 M117.60000000000001,246.8 v1.25 M330.5,246.8 v1.25 M117.60000000000001,249.3 v1.25 M330.5,249.3 v1.25 M117.60000000000001,251.8 v1.25 M330.5,251.8 v1.25 M117.60000000000001,254.3 v1.25 M330.5,254.3 v1.25 M117.60000000000001,256.8 v1.25 M330.5,256.8 v1.25 M117.60000000000001,259.3 v1.25 M330.5,259.3 v1.25 M117.60000000000001,261.8 v1.25 M330.5,261.8 v1.25 M117.60000000000001,264.3 v1.25 M330.5,264.3 v1.25 M117.60000000000001,266.8 v1.25 M330.5,266.8 v1.25 M117.60000000000001,269.3 v1.25 M330.5,269.3 v1.25 M117.60000000000001,271.8 v1.25 M330.5,271.8 v1.25 M117.60000000000001,274.3 v1.25 M330.5,274.3 v1.25 M117.60000000000001,276.8 v1.25 M330.5,276.8 v1.25 M117.60000000000001,279.3 v1.25 M330.5,279.3 v1.25 M117.60000000000001,281.8 v1.25 M330.5,281.8 v1.25 M117.60000000000001,284.3 v1.25 M330.5,284.3 v1.25 M117.60000000000001,286.8 v1.25 M330.5,286.8 v1.25 M117.60000000000001,289.3 v1.25 M330.5,289.3 v1.25 M117.60000000000001,291.8 v1.25 M330.5,291.8 v1.25 M117.60000000000001,294.3 v1.25 M330.5,294.3 v1.25 M117.60000000000001,296.8 v1.25 M330.5,296.8 v1.25 M117.60000000000001,299.3 v1.25 M330.5,299.3 v1.25 M117.60000000000001,301.8 v1.25 M330.5,301.8 v1.25 M117.60000000000001,304.3 v1.25 M330.5,304.3 v1.25 M117.60000000000001,306.8 v1.25 M330.5,306.8 v1.25 M117.60000000000001,309.3 v1.25 M330.5,309.3 v1.25 M117.60000000000001,311.8 v1.25 M330.5,311.8 v1.25 M117.60000000000001,314.3 v1.25 M330.5,314.3 v1.25 M117.60000000000001,316.8 v1.25 M330.5,316.8 v1.25 M117.60000000000001,319.3 v1.25 M330.5,319.3 v1.25 M117.60000000000001,321.8 v1.25 M330.5,321.8 v1.25 M117.60000000000001,324.3 v1.25 M330.5,324.3 v1.25 M117.60000000000001,326.8 v1.25 M330.5,326.8 v1.25 M117.60000000000001,329.3 v1.25 M330.5,329.3 v1.25 M117.60000000000001,331.8 v1.25 M330.5,331.8 v1.25 M117.60000000000001,334.3 v1.25 M330.5,334.3 v1.25 M117.60000000000001,336.8 v1.25 M330.5,336.8 v1.25 M117.60000000000001,339.3 v1.25 M330.5,339.3 v1.25 M117.60000000000001,341.8 v1.25 M330.5,341.8 v1.25 M117.60000000000001,344.3 v1.25 M330.5,344.3 v1.25 M117.60000000000001,346.8 v1.25 M330.5,346.8 v1.25 M117.60000000000001,349.3 v1.25 M330.5,349.3 v1.25 M117.60000000000001,351.8 v1.25 M330.5,351.8 v1.25 M117.60000000000001,354.3 v1.25 M330.5,354.3 v1.25 M117.60000000000001,356.8 v1.25 M330.5,356.8 v1.25 M117.60000000000001,359.3 v1.25 M330.5,359.3 v1.25 M117.60000000000001,361.8 v1.25 M330.5,361.8 v1.25 M117.60000000000001,364.3 v1.25 M330.5,364.3 v1.25 M117.60000000000001,366.8 v1.25 M330.5,366.8 v1.25 M117.60000000000001,369.3 v1.25 M330.5,369.3 v1.25 M117.60000000000001,371.8 v1.25 M330.5,371.8 v1.25 M117.60000000000001,374.3 v1.25 M330.5,374.3 v1.25 M117.60000000000001,376.8 v1.25 M330.5,376.8 v1.25 M117.60000000000001,379.3 v1.25 M330.5,379.3 v1.25 M117.60000000000001,381.8 v1.25 M330.5,381.8 v1.25 " stroke="#000" stroke-width="1.4" fill="none"/>
<path d="M119.9,209.3 v-3.5 M119.9,383.4 v3.5 M154.7,209.3 v-3.5 M154.7,383.4 v3.5 M189.5,209.3 v-3.5 M189.5,383.4 v3.5 M224.4,209.3 v-3.5 M224.4,383.4 v3.5 M259.2,209.3 v-3.5 M259.2,383.4 v3.5 M294.0,209.3 v-3.5 M294.0,383.4 v3.5 M328.8,209.3 v-3.5 M328.8,383.4 v3.5 M119.2,383.3 h-3.5 M328.9,383.3 h3.5 M119.2,348.5 h-3.5 M328.9,348.5 h3.5 M119.2,313.7 h-3.5 M328.9,313.7 h3.5 M119.2,278.9 h-3.5 M328.9,278.9 h3.5 M119.2,244.1 h-3.5 M328.9,244.1 h3.5 M119.2,209.3 h-3.5 M328.9,209.3 h3.5 " stroke="#000" stroke-width="1.2" fill="none"/>
<text x="119.9" y="398.2" font-size="8.2" text-anchor="middle" font-weight="normal" fill="#000" >134</text>
<text x="154.7" y="398.2" font-size="8.2" text-anchor="middle" font-weight="normal" fill="#000" >135</text>
<text x="189.5" y="398.2" font-size="8.2" text-anchor="middle" font-weight="normal" fill="#000" >136</text>
<text x="224.4" y="398.2" font-size="8.2" text-anchor="middle" font-weight="normal" fill="#000" >137</text>
<text x="259.2" y="398.2" font-size="8.2" text-anchor="middle" font-weight="normal" fill="#000" >138</text>
<text x="294.0" y="398.2" font-size="8.2" text-anchor="middle" font-weight="normal" fill="#000" >139</text>
<text x="328.8" y="398.2" font-size="8.2" text-anchor="middle" font-weight="normal" fill="#000" >140</text>
<text x="112.8" y="384.0" font-size="8.2" text-anchor="end" font-weight="normal" fill="#000" >36</text>
<text x="112.8" y="351.5" font-size="8.2" text-anchor="end" font-weight="normal" fill="#000" >37</text>
<text x="112.8" y="316.7" font-size="8.2" text-anchor="end" font-weight="normal" fill="#000" >38</text>
<text x="112.8" y="281.9" font-size="8.2" text-anchor="end" font-weight="normal" fill="#000" >39</text>
<text x="112.8" y="247.1" font-size="8.2" text-anchor="end" font-weight="normal" fill="#000" >40</text>
<text x="112.8" y="214.6" font-size="8.2" text-anchor="end" font-weight="normal" fill="#000" >41</text>
<text x="224.4" y="407.6" font-size="8.3" text-anchor="middle" font-weight="normal" fill="#000" >Longitude (°E)</text>
<text x="0" y="0" font-size="8.3" text-anchor="middle" transform="translate(98,296.6) rotate(-90)">Latitude (°N)</text>
<path d="M372,209.3 H589 M372,383.4 H589" stroke="#000" stroke-width="1.2" fill="none"/>
<path d="M375.2,206.3 V386.4 M584.9,206.3 V386.4" stroke="#000" stroke-width="1.2" fill="none"/>
<path d="M375.2,207.70000000000002 h1.25 M375.2,385.0 h1.25 M377.7,207.70000000000002 h1.25 M377.7,385.0 h1.25 M380.2,207.70000000000002 h1.25 M380.2,385.0 h1.25 M382.7,207.70000000000002 h1.25 M382.7,385.0 h1.25 M385.2,207.70000000000002 h1.25 M385.2,385.0 h1.25 M387.7,207.70000000000002 h1.25 M387.7,385.0 h1.25 M390.2,207.70000000000002 h1.25 M390.2,385.0 h1.25 M392.7,207.70000000000002 h1.25 M392.7,385.0 h1.25 M395.2,207.70000000000002 h1.25 M395.2,385.0 h1.25 M397.7,207.70000000000002 h1.25 M397.7,385.0 h1.25 M400.2,207.70000000000002 h1.25 M400.2,385.0 h1.25 M402.7,207.70000000000002 h1.25 M402.7,385.0 h1.25 M405.2,207.70000000000002 h1.25 M405.2,385.0 h1.25 M407.7,207.70000000000002 h1.25 M407.7,385.0 h1.25 M410.2,207.70000000000002 h1.25 M410.2,385.0 h1.25 M412.7,207.70000000000002 h1.25 M412.7,385.0 h1.25 M415.2,207.70000000000002 h1.25 M415.2,385.0 h1.25 M417.7,207.70000000000002 h1.25 M417.7,385.0 h1.25 M420.2,207.70000000000002 h1.25 M420.2,385.0 h1.25 M422.7,207.70000000000002 h1.25 M422.7,385.0 h1.25 M425.2,207.70000000000002 h1.25 M425.2,385.0 h1.25 M427.7,207.70000000000002 h1.25 M427.7,385.0 h1.25 M430.2,207.70000000000002 h1.25 M430.2,385.0 h1.25 M432.7,207.70000000000002 h1.25 M432.7,385.0 h1.25 M435.2,207.70000000000002 h1.25 M435.2,385.0 h1.25 M437.7,207.70000000000002 h1.25 M437.7,385.0 h1.25 M440.2,207.70000000000002 h1.25 M440.2,385.0 h1.25 M442.7,207.70000000000002 h1.25 M442.7,385.0 h1.25 M445.2,207.70000000000002 h1.25 M445.2,385.0 h1.25 M447.7,207.70000000000002 h1.25 M447.7,385.0 h1.25 M450.2,207.70000000000002 h1.25 M450.2,385.0 h1.25 M452.7,207.70000000000002 h1.25 M452.7,385.0 h1.25 M455.2,207.70000000000002 h1.25 M455.2,385.0 h1.25 M457.7,207.70000000000002 h1.25 M457.7,385.0 h1.25 M460.2,207.70000000000002 h1.25 M460.2,385.0 h1.25 M462.7,207.70000000000002 h1.25 M462.7,385.0 h1.25 M465.2,207.70000000000002 h1.25 M465.2,385.0 h1.25 M467.7,207.70000000000002 h1.25 M467.7,385.0 h1.25 M470.2,207.70000000000002 h1.25 M470.2,385.0 h1.25 M472.7,207.70000000000002 h1.25 M472.7,385.0 h1.25 M475.2,207.70000000000002 h1.25 M475.2,385.0 h1.25 M477.7,207.70000000000002 h1.25 M477.7,385.0 h1.25 M480.2,207.70000000000002 h1.25 M480.2,385.0 h1.25 M482.7,207.70000000000002 h1.25 M482.7,385.0 h1.25 M485.2,207.70000000000002 h1.25 M485.2,385.0 h1.25 M487.7,207.70000000000002 h1.25 M487.7,385.0 h1.25 M490.2,207.70000000000002 h1.25 M490.2,385.0 h1.25 M492.7,207.70000000000002 h1.25 M492.7,385.0 h1.25 M495.2,207.70000000000002 h1.25 M495.2,385.0 h1.25 M497.7,207.70000000000002 h1.25 M497.7,385.0 h1.25 M500.2,207.70000000000002 h1.25 M500.2,385.0 h1.25 M502.7,207.70000000000002 h1.25 M502.7,385.0 h1.25 M505.2,207.70000000000002 h1.25 M505.2,385.0 h1.25 M507.7,207.70000000000002 h1.25 M507.7,385.0 h1.25 M510.2,207.70000000000002 h1.25 M510.2,385.0 h1.25 M512.7,207.70000000000002 h1.25 M512.7,385.0 h1.25 M515.2,207.70000000000002 h1.25 M515.2,385.0 h1.25 M517.7,207.70000000000002 h1.25 M517.7,385.0 h1.25 M520.2,207.70000000000002 h1.25 M520.2,385.0 h1.25 M522.7,207.70000000000002 h1.25 M522.7,385.0 h1.25 M525.2,207.70000000000002 h1.25 M525.2,385.0 h1.25 M527.7,207.70000000000002 h1.25 M527.7,385.0 h1.25 M530.2,207.70000000000002 h1.25 M530.2,385.0 h1.25 M532.7,207.70000000000002 h1.25 M532.7,385.0 h1.25 M535.2,207.70000000000002 h1.25 M535.2,385.0 h1.25 M537.7,207.70000000000002 h1.25 M537.7,385.0 h1.25 M540.2,207.70000000000002 h1.25 M540.2,385.0 h1.25 M542.7,207.70000000000002 h1.25 M542.7,385.0 h1.25 M545.2,207.70000000000002 h1.25 M545.2,385.0 h1.25 M547.7,207.70000000000002 h1.25 M547.7,385.0 h1.25 M550.2,207.70000000000002 h1.25 M550.2,385.0 h1.25 M552.7,207.70000000000002 h1.25 M552.7,385.0 h1.25 M555.2,207.70000000000002 h1.25 M555.2,385.0 h1.25 M557.7,207.70000000000002 h1.25 M557.7,385.0 h1.25 M560.2,207.70000000000002 h1.25 M560.2,385.0 h1.25 M562.7,207.70000000000002 h1.25 M562.7,385.0 h1.25 M565.2,207.70000000000002 h1.25 M565.2,385.0 h1.25 M567.7,207.70000000000002 h1.25 M567.7,385.0 h1.25 M570.2,207.70000000000002 h1.25 M570.2,385.0 h1.25 M572.7,207.70000000000002 h1.25 M572.7,385.0 h1.25 M575.2,207.70000000000002 h1.25 M575.2,385.0 h1.25 M577.7,207.70000000000002 h1.25 M577.7,385.0 h1.25 M580.2,207.70000000000002 h1.25 M580.2,385.0 h1.25 M582.7,207.70000000000002 h1.25 M582.7,385.0 h1.25 M373.59999999999997,209.3 v1.25 M586.5,209.3 v1.25 M373.59999999999997,211.8 v1.25 M586.5,211.8 v1.25 M373.59999999999997,214.3 v1.25 M586.5,214.3 v1.25 M373.59999999999997,216.8 v1.25 M586.5,216.8 v1.25 M373.59999999999997,219.3 v1.25 M586.5,219.3 v1.25 M373.59999999999997,221.8 v1.25 M586.5,221.8 v1.25 M373.59999999999997,224.3 v1.25 M586.5,224.3 v1.25 M373.59999999999997,226.8 v1.25 M586.5,226.8 v1.25 M373.59999999999997,229.3 v1.25 M586.5,229.3 v1.25 M373.59999999999997,231.8 v1.25 M586.5,231.8 v1.25 M373.59999999999997,234.3 v1.25 M586.5,234.3 v1.25 M373.59999999999997,236.8 v1.25 M586.5,236.8 v1.25 M373.59999999999997,239.3 v1.25 M586.5,239.3 v1.25 M373.59999999999997,241.8 v1.25 M586.5,241.8 v1.25 M373.59999999999997,244.3 v1.25 M586.5,244.3 v1.25 M373.59999999999997,246.8 v1.25 M586.5,246.8 v1.25 M373.59999999999997,249.3 v1.25 M586.5,249.3 v1.25 M373.59999999999997,251.8 v1.25 M586.5,251.8 v1.25 M373.59999999999997,254.3 v1.25 M586.5,254.3 v1.25 M373.59999999999997,256.8 v1.25 M586.5,256.8 v1.25 M373.59999999999997,259.3 v1.25 M586.5,259.3 v1.25 M373.59999999999997,261.8 v1.25 M586.5,261.8 v1.25 M373.59999999999997,264.3 v1.25 M586.5,264.3 v1.25 M373.59999999999997,266.8 v1.25 M586.5,266.8 v1.25 M373.59999999999997,269.3 v1.25 M586.5,269.3 v1.25 M373.59999999999997,271.8 v1.25 M586.5,271.8 v1.25 M373.59999999999997,274.3 v1.25 M586.5,274.3 v1.25 M373.59999999999997,276.8 v1.25 M586.5,276.8 v1.25 M373.59999999999997,279.3 v1.25 M586.5,279.3 v1.25 M373.59999999999997,281.8 v1.25 M586.5,281.8 v1.25 M373.59999999999997,284.3 v1.25 M586.5,284.3 v1.25 M373.59999999999997,286.8 v1.25 M586.5,286.8 v1.25 M373.59999999999997,289.3 v1.25 M586.5,289.3 v1.25 M373.59999999999997,291.8 v1.25 M586.5,291.8 v1.25 M373.59999999999997,294.3 v1.25 M586.5,294.3 v1.25 M373.59999999999997,296.8 v1.25 M586.5,296.8 v1.25 M373.59999999999997,299.3 v1.25 M586.5,299.3 v1.25 M373.59999999999997,301.8 v1.25 M586.5,301.8 v1.25 M373.59999999999997,304.3 v1.25 M586.5,304.3 v1.25 M373.59999999999997,306.8 v1.25 M586.5,306.8 v1.25 M373.59999999999997,309.3 v1.25 M586.5,309.3 v1.25 M373.59999999999997,311.8 v1.25 M586.5,311.8 v1.25 M373.59999999999997,314.3 v1.25 M586.5,314.3 v1.25 M373.59999999999997,316.8 v1.25 M586.5,316.8 v1.25 M373.59999999999997,319.3 v1.25 M586.5,319.3 v1.25 M373.59999999999997,321.8 v1.25 M586.5,321.8 v1.25 M373.59999999999997,324.3 v1.25 M586.5,324.3 v1.25 M373.59999999999997,326.8 v1.25 M586.5,326.8 v1.25 M373.59999999999997,329.3 v1.25 M586.5,329.3 v1.25 M373.59999999999997,331.8 v1.25 M586.5,331.8 v1.25 M373.59999999999997,334.3 v1.25 M586.5,334.3 v1.25 M373.59999999999997,336.8 v1.25 M586.5,336.8 v1.25 M373.59999999999997,339.3 v1.25 M586.5,339.3 v1.25 M373.59999999999997,341.8 v1.25 M586.5,341.8 v1.25 M373.59999999999997,344.3 v1.25 M586.5,344.3 v1.25 M373.59999999999997,346.8 v1.25 M586.5,346.8 v1.25 M373.59999999999997,349.3 v1.25 M586.5,349.3 v1.25 M373.59999999999997,351.8 v1.25 M586.5,351.8 v1.25 M373.59999999999997,354.3 v1.25 M586.5,354.3 v1.25 M373.59999999999997,356.8 v1.25 M586.5,356.8 v1.25 M373.59999999999997,359.3 v1.25 M586.5,359.3 v1.25 M373.59999999999997,361.8 v1.25 M586.5,361.8 v1.25 M373.59999999999997,364.3 v1.25 M586.5,364.3 v1.25 M373.59999999999997,366.8 v1.25 M586.5,366.8 v1.25 M373.59999999999997,369.3 v1.25 M586.5,369.3 v1.25 M373.59999999999997,371.8 v1.25 M586.5,371.8 v1.25 M373.59999999999997,374.3 v1.25 M586.5,374.3 v1.25 M373.59999999999997,376.8 v1.25 M586.5,376.8 v1.25 M373.59999999999997,379.3 v1.25 M586.5,379.3 v1.25 M373.59999999999997,381.8 v1.25 M586.5,381.8 v1.25 " stroke="#000" stroke-width="1.4" fill="none"/>
<path d="M375.9,209.3 v-3.5 M375.9,383.4 v3.5 M410.7,209.3 v-3.5 M410.7,383.4 v3.5 M445.5,209.3 v-3.5 M445.5,383.4 v3.5 M480.4,209.3 v-3.5 M480.4,383.4 v3.5 M515.2,209.3 v-3.5 M515.2,383.4 v3.5 M550.0,209.3 v-3.5 M550.0,383.4 v3.5 M584.8,209.3 v-3.5 M584.8,383.4 v3.5 M375.2,383.3 h-3.5 M584.9,383.3 h3.5 M375.2,348.5 h-3.5 M584.9,348.5 h3.5 M375.2,313.7 h-3.5 M584.9,313.7 h3.5 M375.2,278.9 h-3.5 M584.9,278.9 h3.5 M375.2,244.1 h-3.5 M584.9,244.1 h3.5 M375.2,209.3 h-3.5 M584.9,209.3 h3.5 " stroke="#000" stroke-width="1.2" fill="none"/>
<text x="375.9" y="398.2" font-size="8.2" text-anchor="middle" font-weight="normal" fill="#000" >134</text>
<text x="410.7" y="398.2" font-size="8.2" text-anchor="middle" font-weight="normal" fill="#000" >135</text>
<text x="445.5" y="398.2" font-size="8.2" text-anchor="middle" font-weight="normal" fill="#000" >136</text>
<text x="480.4" y="398.2" font-size="8.2" text-anchor="middle" font-weight="normal" fill="#000" >137</text>
<text x="515.2" y="398.2" font-size="8.2" text-anchor="middle" font-weight="normal" fill="#000" >138</text>
<text x="550.0" y="398.2" font-size="8.2" text-anchor="middle" font-weight="normal" fill="#000" >139</text>
<text x="584.8" y="398.2" font-size="8.2" text-anchor="middle" font-weight="normal" fill="#000" >140</text>
<text x="368.8" y="384.0" font-size="8.2" text-anchor="end" font-weight="normal" fill="#000" >36</text>
<text x="368.8" y="351.5" font-size="8.2" text-anchor="end" font-weight="normal" fill="#000" >37</text>
<text x="368.8" y="316.7" font-size="8.2" text-anchor="end" font-weight="normal" fill="#000" >38</text>
<text x="368.8" y="281.9" font-size="8.2" text-anchor="end" font-weight="normal" fill="#000" >39</text>
<text x="368.8" y="247.1" font-size="8.2" text-anchor="end" font-weight="normal" fill="#000" >40</text>
<text x="368.8" y="214.6" font-size="8.2" text-anchor="end" font-weight="normal" fill="#000" >41</text>
<text x="480.4" y="407.6" font-size="8.3" text-anchor="middle" font-weight="normal" fill="#000" >Longitude (°E)</text>
<text x="0" y="0" font-size="8.3" text-anchor="middle" transform="translate(354,296.6) rotate(-90)">Latitude (°N)</text>
<text x="1.3" y="19.7" font-size="12.7" text-anchor="start" font-weight="normal" fill="#000" textLength="15.4" lengthAdjust="spacingAndGlyphs" >(a)</text>
<text x="350.8" y="19.7" font-size="12.7" text-anchor="start" font-weight="normal" fill="#000" textLength="15.5" lengthAdjust="spacingAndGlyphs" >(b)</text>
<text x="87.9" y="214.9" font-size="12.5" text-anchor="start" font-weight="normal" fill="#000" textLength="14.3" lengthAdjust="spacingAndGlyphs" >(c)</text>
<text x="344" y="214.9" font-size="12.5" text-anchor="start" font-weight="normal" fill="#000" textLength="15.3" lengthAdjust="spacingAndGlyphs" >(d)</text>
<text x="184.75" y="8.9" font-size="9.6" text-anchor="middle" font-weight="bold" fill="#000" textLength="54.3" lengthAdjust="spacingAndGlyphs" >Latitude (°N)</text>
<text x="534.75" y="8.9" font-size="9.6" text-anchor="middle" font-weight="bold" fill="#000" textLength="54.3" lengthAdjust="spacingAndGlyphs" >Latitude (°N)</text>
<text x="0" y="0" font-size="9.3" font-weight="bold" text-anchor="middle" transform="translate(9.4,94.8) rotate(-90)">Depth (m)</text>
<text x="0" y="0" font-size="9.5" font-weight="bold" text-anchor="middle" transform="translate(359.8,95) rotate(-90)">Pressure (dbar)</text>
</svg></body></html>
